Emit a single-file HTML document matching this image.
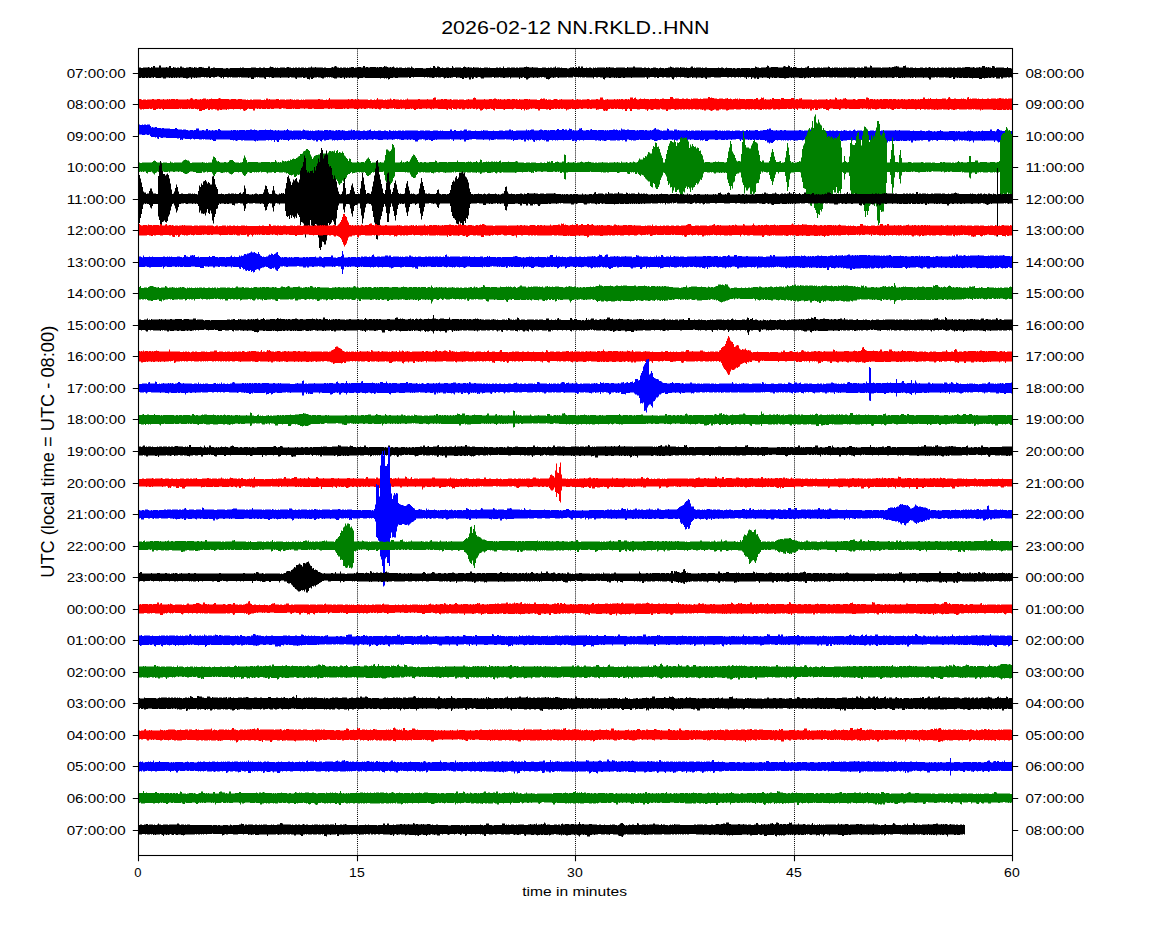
<!DOCTYPE html>
<html><head><meta charset="utf-8"><title>dayplot</title>
<style>
html,body{margin:0;padding:0;background:#fff;width:1150px;height:950px;overflow:hidden}
svg{display:block}
text{font-family:"Liberation Sans",sans-serif;fill:#000}
</style></head><body>
<svg width="1150" height="950" viewBox="0 0 1150 950">
<rect width="1150" height="950" fill="#fff"/>
<path d="M357.5 48.5V855.5" stroke="#000" stroke-width="1" stroke-dasharray="1 1.08"/><path d="M575.5 48.5V855.5" stroke="#000" stroke-width="1" stroke-dasharray="1 1.08"/><path d="M794.5 48.5V855.5" stroke="#000" stroke-width="1" stroke-dasharray="1 1.08"/>
<g transform="scale(1 0.5)">
<path fill="#000000" d="M138 134h1v1h2v1h2v-1h5v-1h1v1h1v1h1v-2h1v1h1v-3h2v3h4v-4h2v4h5v-1h1v1h2v-3h2v4h2v-2h1v1h2v1h1v-1h2v1h1v-3h2v2h2v1h2v-1h3v-1h2v1h2v1h1v-2h1v1h2v1h1v-1h1v-1h3v1h2v1h4v-3h2v4h1v-1h2v-1h2v1h8v1h3v-1h2v1h2v-1h10v-1h1v1h1v-1h2v1h7v-1h5v1h3v-1h2v1h2v-1h2v1h4v-1h1v-2h1v1h2v1h1v1h1v-1h1v1h1v-1h1v1h2v-1h5v1h1v-1h1v-1h2v1h2v1h2v-1h1v1h1v-1h2v1h1v-1h2v1h1v-1h3v1h1v-1h1v1h2v-1h3v-2h1v2h3v-1h1v1h7v1h1v-1h2v1h5v-1h1v-1h1v1h1v-2h1v-1h1v1h1v2h2v1h1v-1h2v1h1v-1h3v1h1v-1h1v1h1v-1h2v-1h3v2h1v-1h2v-1h4v1h2v-3h2v3h1v-1h2v1h2v-1h6v1h1v-1h1v1h1v-1h3v1h1v-1h1v-2h1v1h2v1h1v1h2v-1h1v1h1v-1h1v-1h1v2h1v1h1v-1h2v1h1v-1h3v1h3v-1h1v1h1v-1h3v1h1v-3h1v2h1v1h1v1h1v-1h8v1h3v-1h4v-1h1v1h2v-4h2v3h1v1h1v-3h2v1h1v2h2v-1h1v1h3v-1h3v1h3v-4h1v3h1v1h1v-1h6v1h2v-2h1v-1h1v1h1v1h2v-1h1v1h3v1h1v-2h1v1h5v1h1v-1h1v1h3v-1h4v1h1v-1h1v1h6v-1h2v1h1v-1h2v1h2v-3h1v3h3v-1h3v1h1v-1h4v1h1v-1h2v1h1v-1h5v-1h2v-1h1v1h2v1h3v-1h1v1h5v1h4v-1h4v1h2v-1h1v1h1v-1h2v1h1v-1h2v-2h1v3h1v-1h3v1h1v-1h1v1h5v1h2v-1h1v-1h3v-1h1v2h2v-2h1v2h1v-3h2v3h1v-3h2v3h3v-1h1v1h2v-1h2v1h1v1h1v-2h1v1h1v-1h1v1h1v-1h8v1h1v-2h1v1h2v-1h1v1h4v1h2v-1h9v1h2v-2h1v1h5v-2h2v2h7v1h2v-1h2v1h2v-1h1v1h1v1h1v-1h2v-1h3v1h2v1h1v-1h1v-1h1v1h3v1h1v-1h3v-1h2v-2h1v1h1v1h2v1h1v-1h4v1h1v-2h1v1h4v1h1v-1h1v1h3v-1h1v-2h2v3h1v-1h1v1h1v-1h5v1h1v-1h1v1h2v-1h2v1h11v-1h1v1h2v-1h2v1h1v1h1v-1h1v-1h1v1h5v1h1v-1h2v1h2v-1h3v1h1v-1h9v1h1v-1h4v-3h1v1h1v1h2v1h2v-1h5v-1h1v-3h1v1h1v3h2v-1h7v1h5v-2h1v-1h1v1h1v1h2v-3h1v1h1v3h1v-1h1v2h1v-2h3v1h1v1h4v-1h1v1h3v-1h2v-2h1v-1h1v4h4v-1h2v1h2v-1h3v1h1v-1h1v1h1v-1h5v-2h1v1h1v2h2v-1h1v1h1v-1h4v1h1v-1h1v1h1v-1h1v1h1v-1h4v1h1v-1h7v1h2v-1h3v1h1v-1h2v1h1v-3h3v2h3v-4h1v1h1v3h9v1h1v-1h7v-1h1v1h2v-1h2v-1h2v-1h1v1h2v2h4v-3h2v-1h1v4h3v1h1v-1h3v1h2v-1h1v1h4v-1h3v1h2v-1h2v1h1v-1h1v-1h1v1h1v1h1v-1h1v1h1v-1h1v1h2v-1h2v1h2v-1h3v1h1v-1h2v1h1v-1h4v1h1v-1h2v1h2v-1h4v1h1v-1h3v-1h5v1h3v-1h1v1h1v1h1v-1h3v-1h1v1h2v-3h3v3h1v-1h1v1h1v-1h1v1h2v1h1v-4h2v1h1v3h1v-1h8v1h3v-2h1v2h3v1h1v18h-1v-1h-1v1h-2v-1h-1v1h-4v2h-2v-3h-1v3h-4v-3h-1v1h-1v1h-1v-1h-2v1h-2v-1h-1v1h-3v1h-1v-1h-2v2h-3v-2h-6v1h-1v-1h-3v-1h-1v1h-5v-1h-1v1h-3v-1h-1v1h-1v-1h-2v3h-2v-4h-1v1h-1v1h-2v-1h-4v-1h-1v1h-5v-1h-1v1h-2v-1h-1v1h-4v4h-2v-3h-1v-1h-4v1h-1v-1h-7v1h-1v-2h-1v1h-1v1h-1v-1h-1v1h-1v-1h-5v1h-1v-1h-1v1h-1v-1h-1v1h-3v-2h-1v1h-1v-1h-1v1h-1v1h-2v-1h-5v1h-1v-1h-4v1h-1v-1h-5v1h-1v-1h-2v1h-2v-2h-1v1h-4v1h-2v-2h-1v1h-5v-1h-2v2h-1v1h-1v-2h-3v1h-1v-1h-3v-1h-1v1h-9v-1h-1v1h-2v-1h-1v1h-4v-1h-2v1h-1v-1h-2v1h-1v-1h-2v1h-6v1h-1v-2h-3v2h-1v-1h-1v1h-1v-1h-2v1h-1v1h-1v-2h-1v1h-4v-1h-5v1h-1v-1h-1v1h-1v-1h-2v1h-3v1h-2v-1h-5v-1h-2v1h-3v-1h-1v1h-1v-1h-2v3h-1v-2h-2v-1h-4v1h-1v-1h-3v3h-2v-3h-1v2h-2v-2h-2v3h-1v-4h-2v1h-1v-1h-1v4h-1v-3h-2v-1h-3v1h-1v-1h-1v1h-1v-1h-2v1h-2v-1h-2v1h-1v-1h-2v1h-2v-1h-6v1h-7v-1h-3v1h-4v3h-1v-1h-1v-2h-2v1h-2v-1h-4v2h-1v-2h-3v1h-1v-2h-1v1h-2v1h-2v-1h-3v-1h-3v1h-1v-1h-3v1h-1v-1h-1v1h-1v4h-1v-1h-1v-3h-1v-1h-1v1h-4v-1h-2v1h-2v-1h-3v2h-2v-2h-1v1h-2v-1h-4v1h-2v3h-1v-3h-1v-1h-1v1h-13v1h-1v-1h-6v1h-2v-1h-2v1h-3v-1h-1v1h-1v-1h-1v1h-1v-1h-3v1h-2v-1h-3v1h-1v3h-1v-1h-1v-3h-3v-1h-2v1h-2v-1h-2v3h-1v-2h-7v-1h-1v1h-3v-1h-1v1h-1v-1h-1v1h-1v-1h-4v-1h-1v2h-5v-1h-1v1h-8v1h-1v-1h-1v-1h-1v1h-2v1h-1v-1h-2v1h-1v2h-1v1h-1v-1h-2v-3h-2v-1h-2v1h-1v-1h-1v1h-2v1h-1v-1h-3v1h-1v-1h-3v1h-1v1h-1v2h-2v-3h-2v-2h-1v1h-1v1h-1v-1h-1v3h-1v-3h-8v2h-1v-3h-1v1h-4v1h-2v-1h-3v-1h-1v1h-4v1h-1v-2h-2v1h-8v2h-3v-2h-1v-1h-2v1h-1v1h-1v-1h-1v-1h-1v3h-1v1h-1v-3h-1v4h-2v-4h-2v1h-2v-1h-1v3h-2v-2h-2v-1h-3v1h-1v-2h-3v1h-2v1h-1v-1h-1v1h-2v-1h-1v1h-1v1h-1v-2h-1v-1h-2v1h-3v-1h-1v1h-1v-1h-1v1h-1v1h-2v-1h-3v-1h-1v1h-1v-1h-2v1h-1v-1h-10v1h-1v-1h-2v2h-2v-2h-1v1h-10v1h-3v-1h-2v1h-3v2h-1v1h-1v-3h-1v1h-1v-1h-1v1h-1v-1h-3v1h-1v-1h-15v-1h-2v1h-4v2h-1v-2h-1v-1h-4v1h-1v-1h-2v1h-1v-1h-2v1h-1v-1h-1v3h-1v-3h-2v1h-2v-1h-3v2h-3v-1h-1v-1h-2v-1h-1v1h-1v-1h-1v1h-1v-1h-1v1h-2v2h-2v-1h-1v-1h-3v-1h-1v1h-3v1h-1v2h-2v-3h-1v4h-1v-1h-2v-3h-2v1h-2v-2h-1v1h-5v3h-1v-1h-1v-2h-4v-1h-1v1h-1v1h-1v-1h-7v1h-1v-1h-6v1h-2v-1h-1v-1h-1v1h-1v-1h-3v4h-1v-1h-1v-2h-5v-1h-1v1h-1v-1h-1v1h-2v3h-3v-3h-2v1h-1v-1h-7v-1h-1v1h-1v-1h-1v1h-6v-1h-1v1h-1v-1h-1v1h-2v-1h-3v3h-1v-3h-1v2h-1v-1h-1v-1h-1v-1h-2v1h-2v1h-2v-1h-2v2h-2v-2h-1v1h-2v-1h-1v1h-1v-1h-3v1h-4v1h-1v-1h-1v1h-1v-1h-2v3h-1v-3h-2v1h-1v1h-2v-1h-3v-1h-3v1h-1v-1h-2v1h-1v-1h-1v1h-1v-1h-1v1h-2v-1h-1v1h-1v-1h-3v2h-3v-2h-2v1h-5v-1h-1v-1h-1v2h-1v-1h-2v1h-2v-1h-1v1h-2v-1h-1v1h-3v-1h-1v1h-2v-1h-1z"/>
<path fill="#ff0000" d="M138 199h1v-1h2v1h1v1h1v-1h3v1h1v-1h5v-1h2v1h3v-1h3v1h3v-1h1v1h3v-1h1v1h1v-1h1v1h1v-1h4v1h1v-1h2v1h9v-1h1v1h2v-2h1v-1h1v1h1v2h2v-1h2v1h3v-1h1v1h1v-1h1v-1h3v2h1v-1h1v1h1v-1h2v-1h1v1h6v-1h1v-1h1v1h1v1h8v1h2v-1h5v1h2v-1h4v1h4v1h1v-1h1v1h2v-1h2v1h1v-1h8v1h3v-1h1v1h1v-3h2v2h1v-1h1v1h6v-1h3v2h1v-1h5v1h1v-1h4v-1h1v1h2v1h1v-1h1v1h1v-1h3v1h2v-1h1v1h1v-1h1v1h1v-1h13v-1h2v1h3v1h3v-1h1v1h1v-1h1v-3h1v3h18v-1h1v1h2v-1h2v1h2v-1h1v1h2v-1h1v1h9v1h2v-1h2v1h2v-1h1v1h1v-1h1v-3h1v3h5v1h2v-1h1v1h1v-1h3v-2h1v2h1v1h1v-2h2v1h4v1h1v-1h2v1h1v-1h1v1h1v-1h2v-2h1v2h10v-1h2v1h7v-1h1v1h5v-3h1v-1h2v5h1v-1h4v-1h2v1h1v-1h3v1h3v-1h1v1h1v1h1v-1h5v1h1v-1h5v1h2v-1h2v-1h1v1h4v-3h1v-1h1v1h1v3h8v-1h1v1h4v-1h3v1h1v-1h1v-1h2v1h1v1h1v-1h1v1h1v-1h1v1h3v-1h1v1h2v-1h3v1h2v-1h3v1h1v-1h1v1h1v1h1v-2h1v1h4v-1h4v1h1v-1h1v1h7v1h3v-2h1v-1h1v1h1v-1h2v2h1v-1h1v2h1v-1h3v1h2v-1h1v-1h3v1h1v1h1v-1h2v-1h1v1h10v-1h1v1h1v1h2v-1h1v-1h1v1h3v1h1v-1h5v-1h2v1h1v1h1v-1h5v-1h2v1h2v-4h3v4h1v1h1v-1h2v-1h1v1h6v-1h1v1h2v-1h1v1h1v-1h1v1h1v-1h2v1h2v-1h2v1h1v-1h1v1h1v-4h3v3h1v-2h1v-1h1v3h1v1h2v-1h1v-1h1v1h3v-1h1v1h4v1h1v-1h5v-1h1v1h3v1h1v-1h2v-1h2v1h6v-4h3v3h1v1h1v-1h4v1h3v-1h2v1h2v-1h2v1h2v1h1v-2h1v1h1v-1h5v1h2v-1h1v1h2v-1h5v-3h2v2h1v-1h1v1h2v1h3v1h2v-1h4v1h2v-1h2v-1h1v2h2v-1h1v1h1v1h1v-1h2v-1h1v1h1v-1h1v2h1v-2h1v1h5v1h1v-1h7v1h1v-1h2v-2h2v3h2v-1h1v-3h1v1h1v-1h1v4h1v-1h1v1h4v-1h1v1h1v-3h2v2h6v1h1v-3h3v2h7v-2h3v3h2v-1h2v1h1v-2h2v-1h1v3h10v1h2v-1h3v1h1v-1h8v-1h1v1h1v1h1v-1h1v-1h1v1h4v-4h1v1h1v3h3v-1h1v1h2v-2h2v-1h1v2h1v1h6v-1h2v1h1v1h1v-1h1v-1h7v1h1v-4h2v1h1v3h1v-1h3v1h1v-1h1v1h2v-1h1v1h2v-1h2v1h1v-1h5v1h1v-1h3v1h1v-1h3v1h2v-1h1v1h2v-1h2v1h1v-1h1v1h3v-1h2v1h1v-1h3v1h1v-1h1v1h2v-1h1v1h1v-1h3v-3h2v3h3v-1h1v1h1v-2h1v2h5v-1h1v1h5v-1h4v2h1v-1h1v-3h1v-1h1v3h1v1h3v-1h2v1h5v-1h1v1h1v-1h1v1h2v1h1v-4h1v-1h1v4h1v-1h1v1h1v-1h5v1h1v-1h1v1h3v-1h1v1h4v-1h2v1h2v-1h5v1h1v-1h2v-1h2v1h3v1h1v-1h2v1h1v-1h4v23h-2v-1h-1v1h-2v-1h-1v1h-3v-1h-1v1h-5v-1h-1v1h-3v-1h-10v1h-1v-1h-1v2h-1v-2h-5v-1h-1v1h-1v-1h-1v1h-4v-1h-1v1h-8v-1h-2v1h-2v1h-2v-1h-2v-1h-1v1h-1v1h-1v-1h-5v-1h-1v1h-4v1h-1v-1h-2v1h-1v-1h-3v-1h-1v1h-3v-1h-1v1h-2v-1h-3v2h-1v-2h-3v1h-2v-1h-8v1h-1v-1h-4v-1h-2v1h-3v-1h-1v1h-2v2h-2v-1h-1v-1h-1v-1h-1v1h-1v-1h-2v1h-5v-1h-2v1h-2v1h-2v-1h-3v-1h-1v2h-1v-1h-1v1h-1v-2h-1v1h-1v-1h-3v1h-1v-1h-2v1h-11v-1h-2v1h-2v-1h-4v2h-1v1h-1v-2h-6v-1h-3v1h-1v3h-1v-1h-2v-2h-3v-2h-1v1h-2v1h-1v-1h-1v3h-3v-4h-1v3h-1v-1h-1v3h-2v-4h-1v1h-1v-1h-1v1h-1v-1h-1v1h-3v-1h-4v3h-1v-2h-1v-1h-1v1h-2v-1h-1v1h-4v-1h-1v1h-7v1h-2v-1h-2v1h-3v-2h-1v1h-1v1h-3v-1h-1v1h-2v-1h-1v1h-1v-1h-1v2h-2v-1h-2v-1h-2v1h-2v-1h-2v1h-1v-1h-1v1h-2v-1h-1v1h-2v-1h-4v1h-5v-1h-2v1h-5v1h-1v1h-2v-2h-4v-1h-1v1h-2v2h-3v-2h-2v1h-1v1h-1v1h-1v-1h-1v-1h-1v-1h-3v2h-2v-2h-1v1h-1v-1h-2v-1h-1v1h-4v-1h-2v1h-2v-1h-1v1h-2v-1h-1v1h-1v-1h-1v1h-2v-1h-1v1h-2v-1h-1v1h-3v1h-1v-1h-1v-1h-3v1h-3v3h-2v-3h-4v-1h-1v-1h-1v2h-4v-1h-2v1h-1v1h-2v-1h-1v-1h-1v1h-1v3h-1v-3h-2v-1h-5v1h-3v-1h-5v4h-2v-4h-1v-1h-1v1h-1v4h-2v-4h-2v1h-1v-1h-4v-1h-1v1h-2v-1h-1v1h-3v-1h-1v1h-2v3h-1v1h-1v-1h-1v1h-1v-1h-1v-3h-4v1h-2v1h-1v-3h-4v1h-2v-1h-1v1h-2v-1h-4v1h-2v-1h-2v1h-7v-1h-1v1h-2v1h-2v2h-1v-3h-2v-1h-1v1h-2v-1h-1v1h-2v-1h-1v1h-2v-1h-1v1h-3v2h-2v-2h-1v1h-2v-1h-6v3h-2v-3h-3v-1h-3v1h-1v-1h-1v1h-1v1h-2v1h-1v-2h-1v3h-1v-3h-2v2h-1v-2h-5v-1h-2v1h-1v1h-1v-1h-7v2h-1v-1h-1v-1h-7v-1h-1v4h-1v-1h-1v-2h-2v-1h-1v1h-3v1h-1v-1h-1v-1h-1v1h-1v2h-1v1h-2v-3h-1v-1h-1v1h-1v1h-1v-2h-1v1h-2v-1h-2v1h-1v-1h-1v1h-2v-1h-2v2h-3v-2h-1v1h-2v-1h-2v2h-1v-1h-3v-2h-1v4h-1v-2h-2v-1h-1v3h-1v-1h-1v-1h-8v-1h-4v1h-1v-1h-1v2h-1v-1h-1v-1h-3v1h-1v-1h-4v1h-3v-1h-1v1h-2v2h-2v-2h-1v-1h-1v1h-1v-1h-1v1h-4v1h-1v-2h-3v1h-1v-1h-1v1h-4v-1h-1v1h-1v-2h-1v1h-4v1h-3v-1h-3v-1h-1v1h-1v2h-2v-1h-1v-1h-1v1h-2v-1h-2v1h-1v-1h-3v-1h-1v1h-2v1h-2v-1h-2v1h-1v-1h-2v1h-5v-1h-5v1h-2v-1h-2v1h-1v-1h-1v1h-8v-1h-3v1h-1v-1h-1v1h-2v-1h-4v1h-10v-1h-2v1h-4v-1h-3v1h-1v-1h-4v1h-5v-1h-1v1h-1v-1h-1v1h-6v-1h-3v-1h-1v1h-1v1h-2v-1h-5v1h-3v-1h-1v1h-3v-1h-1v1h-4v-1h-1v1h-2v-1h-1v1h-1v-1h-2v4h-2v-3h-4v-1h-1v1h-1v2h-1v1h-1v1h-1v-1h-1v-3h-2v1h-1v-1h-6v1h-1v-1h-4v1h-1v-1h-1v2h-1v-1h-4v1h-2v-1h-1v2h-2v-2h-2v-1h-2v1h-2v-1h-1v2h-2v-3h-1v1h-2v2h-3v2h-3v-4h-1v1h-1v-1h-2v-1h-1v1h-3v-1h-1v1h-1v-1h-1v1h-6v-1h-1v1h-1v-1h-1v1h-15v2h-1v-2h-1v-1h-1v1h-2v-1h-1v1h-2v2h-3v-3h-1v1h-2v-1h-1v1h-5v1h-1v-1h-1v1h-2v-2h-2z"/>
<path fill="#0000ff" d="M138 249h2v1h2v-1h1v1h1v-1h2v1h1v-1h3v3h1v3h1v-1h1v1h2v-1h2v2h4v1h1v-1h2v1h6v1h5v-2h2v2h1v1h4v1h1v-1h3v1h2v1h2v-1h3v1h1v-1h2v-3h3v4h3v-1h2v1h2v-3h2v3h1v-1h1v1h2v-1h1v1h2v-1h2v1h1v-3h2v2h1v1h10v-1h1v1h1v-1h3v1h1v-1h1v1h1v-1h6v1h1v-1h4v-1h2v1h2v-1h1v1h2v1h2v-1h6v-1h1v1h4v-1h1v1h2v1h2v-1h1v1h2v-1h1v1h5v-1h1v1h1v-1h1v-2h1v2h1v1h3v1h1v-1h8v1h1v-1h1v-2h1v1h1v1h4v1h1v-1h1v1h1v-1h1v1h2v-1h3v-1h1v1h4v1h1v-2h4v1h1v-1h2v1h3v1h1v-1h1v-1h1v1h1v-1h2v1h2v-1h1v1h2v1h3v-1h3v-2h1v2h1v-1h2v2h1v-1h1v1h1v-1h2v1h3v-1h2v1h2v-1h2v-1h1v-1h1v3h3v-1h1v1h3v-1h3v1h3v-1h2v1h2v1h1v-3h1v1h1v1h2v-1h1v1h1v-1h1v1h2v-1h3v1h1v-1h2v1h1v-1h13v1h2v-1h4v1h1v-1h5v1h3v-1h5v1h2v-1h1v1h1v-1h1v1h7v-3h2v3h2v-2h2v2h4v-1h2v1h1v-1h1v-2h3v3h1v-1h3v1h4v-1h1v1h5v-1h1v1h1v-2h1v1h4v1h5v-1h1v1h5v-1h4v1h2v-1h4v-2h2v2h1v-1h1v2h3v-1h10v-2h1v2h1v-1h1v1h1v-1h1v-1h3v2h5v-1h1v-1h2v1h1v1h1v-1h3v1h1v-1h1v1h1v-1h5v1h1v-1h1v-2h2v2h3v-2h2v2h1v-1h2v2h1v-1h1v-3h1v1h2v3h1v-1h1v1h4v-1h1v-3h2v-1h1v4h1v1h3v-1h3v1h1v-2h1v-1h1v2h5v1h1v-1h6v1h1v-1h1v1h1v-1h1v1h1v-1h4v-1h2v1h1v-1h1v1h1v1h1v-1h1v1h1v-4h1v2h3v1h2v-1h2v1h6v1h2v-1h1v1h1v-1h5v1h1v-1h2v1h3v-1h1v1h1v-1h1v-1h1v-2h1v-1h1v3h3v1h1v1h2v1h1v-1h4v-4h1v1h1v3h4v1h1v-3h3v2h1v-1h1v1h7v-1h1v1h1v1h1v-1h1v1h1v-1h3v1h1v-1h5v1h1v-2h1v1h13v-1h2v1h1v1h1v-1h2v1h1v-1h1v1h1v-1h1v1h1v-1h4v1h2v-1h1v1h2v-1h5v1h2v-1h2v1h2v-2h2v2h1v-2h1v1h5v-1h3v2h2v-1h3v-1h4v-2h1v1h1v-2h2v3h2v1h3v-1h1v1h3v-1h2v1h2v-1h2v1h13v-1h2v1h2v1h1v-1h6v-2h3v3h2v-1h2v-3h2v3h1v-1h1v-1h1v2h4v1h3v-1h2v1h1v-1h2v1h2v-1h2v1h3v-1h1v1h1v-1h1v-1h1v1h2v1h2v-1h2v1h2v-2h1v-1h1v2h1v1h1v-1h5v1h2v-1h2v1h4v-1h4v1h1v-1h4v1h2v-1h2v1h1v-1h11v-1h1v1h3v-1h1v1h10v1h3v-1h1v1h6v-1h2v1h3v1h1v-1h2v-1h2v1h2v1h2v-1h1v1h2v-1h3v-2h1v2h2v1h6v-1h6v1h1v-1h1v1h1v-1h2v1h4v-1h1v1h2v-1h1v-1h1v1h1v-1h1v1h2v1h3v-1h1v1h1v-1h2v1h1v-1h1v-1h1v1h7v-3h2v3h3v1h1v-2h1v-3h2v2h1v1h2v1h3v1h6v-1h1v19h-4v4h-1v-1h-1v-3h-4v3h-1v2h-1v-2h-1v1h-1v-2h-1v-2h-2v3h-1v-3h-9v1h-1v-1h-1v1h-1v-1h-8v4h-1v-4h-2v1h-1v1h-1v-2h-1v1h-1v-1h-3v-1h-1v1h-2v-1h-1v1h-1v-2h-1v2h-3v2h-1v-1h-1v-2h-5v1h-1v-1h-1v1h-1v-1h-7v2h-1v-1h-1v-1h-3v1h-1v-1h-1v1h-1v2h-2v-3h-5v1h-2v-1h-1v1h-4v1h-1v-1h-2v4h-2v-4h-1v1h-1v-1h-2v1h-4v-1h-1v1h-1v-1h-1v1h-4v-1h-1v1h-2v-1h-1v1h-2v1h-1v-1h-1v3h-1v-3h-2v-1h-3v1h-2v-1h-3v-1h-1v1h-2v2h-1v-1h-1v-1h-2v-1h-1v1h-4v-1h-1v1h-2v-1h-1v1h-6v-1h-2v1h-2v-1h-4v1h-4v1h-2v-2h-1v1h-3v-1h-2v1h-5v-1h-2v1h-1v-1h-2v1h-1v-1h-5v1h-1v-1h-1v1h-1v-1h-1v1h-1v-1h-1v1h-2v-1h-3v1h-3v-2h-1v1h-1v1h-1v-1h-4v1h-5v-1h-2v1h-1v-1h-1v1h-2v-1h-1v1h-1v-1h-1v1h-1v-1h-1v1h-1v-1h-3v1h-1v-1h-2v2h-1v2h-1v2h-2v-1h-1v2h-1v-2h-2v-4h-1v1h-1v-2h-5v-1h-1v1h-3v-1h-1v1h-2v-1h-1v1h-2v-1h-1v1h-1v-1h-5v1h-1v-1h-1v3h-1v-3h-1v-1h-3v1h-4v1h-1v-1h-3v1h-2v-1h-1v1h-4v-1h-3v1h-3v-1h-6v1h-1v2h-3v-3h-1v1h-1v1h-1v-1h-1v1h-1v-2h-1v1h-5v-1h-3v1h-1v-1h-2v1h-2v-1h-1v-1h-1v1h-1v-1h-1v2h-2v-1h-2v2h-2v-1h-2v-1h-1v1h-1v-1h-4v1h-5v-1h-2v1h-3v1h-1v1h-3v-2h-2v-1h-2v1h-10v-1h-1v1h-3v1h-3v-1h-1v1h-1v-1h-2v-1h-2v4h-2v-3h-2v1h-1v-1h-2v1h-3v-1h-1v1h-6v-1h-3v1h-1v1h-2v-1h-2v-1h-1v2h-1v-1h-2v-1h-1v1h-2v-1h-11v1h-1v-1h-3v1h-1v-1h-2v3h-2v-2h-1v1h-2v-3h-1v1h-7v1h-1v-1h-5v1h-1v-1h-1v1h-1v-1h-2v1h-1v-1h-3v3h-3v-3h-1v1h-1v-1h-2v-1h-1v1h-1v1h-1v-1h-2v1h-1v-1h-1v4h-1v-1h-1v-3h-1v-1h-1v1h-1v-1h-1v2h-1v-1h-1v-1h-1v4h-2v-4h-1v1h-2v-1h-3v1h-4v2h-1v-3h-1v1h-1v-1h-5v-1h-1v1h-8v-1h-1v1h-2v1h-3v-1h-1v2h-1v-2h-5v1h-1v-1h-7v-1h-4v1h-3v1h-3v3h-2v-4h-3v1h-1v-1h-6v3h-1v-3h-2v-1h-1v1h-13v1h-1v-1h-1v1h-2v2h-2v-2h-2v-1h-1v1h-2v1h-1v-2h-2v-1h-1v1h-3v1h-1v3h-3v-3h-2v-1h-2v1h-1v-1h-2v1h-1v-1h-3v1h-3v-1h-2v-1h-1v1h-1v-1h-2v1h-2v1h-1v-1h-4v1h-1v-1h-4v1h-5v-1h-3v-1h-1v1h-1v1h-1v-1h-4v1h-2v-1h-2v1h-1v-1h-2v1h-3v-1h-3v1h-2v-1h-1v1h-1v-1h-1v1h-5v1h-1v-1h-1v-1h-1v1h-4v1h-1v-1h-2v1h-1v-1h-1v1h-1v-2h-3v1h-3v1h-2v-2h-1v1h-1v3h-1v-1h-1v-2h-2v3h-2v-3h-1v1h-2v-1h-1v-1h-1v1h-4v-1h-2v-1h-1v1h-1v-1h-1v1h-1v1h-1v-1h-1v1h-1v-1h-3v1h-1v-1h-1v1h-1v-1h-2v1h-1v2h-1v-2h-5v-1h-1v1h-1v-1h-1v1h-1v4h-2v-3h-1v-1h-1v4h-1v-4h-2v1h-1v-1h-2v1h-1v-1h-2v1h-8v1h-1v-1h-1v2h-1v-1h-1v-1h-10v-1h-1v1h-2v-1h-3v1h-1v1h-1v-1h-1v-1h-1v1h-1v-1h-3v-1h-14v3h-3v-2h-1v-1h-1v1h-1v-1h-5v-1h-1v1h-1v-1h-1v1h-3v-1h-4v1h-1v-1h-1v-1h-1v1h-1v1h-1v-1h-5v-1h-2v3h-1v-1h-1v1h-1v-4h-1v1h-2v-1h-11v-1h-3v1h-2v-1h-1v-1h-1v4h-1v-1h-1v-3h-1v1h-1v-1h-4v-2h-1v-3h-1v1h-2v-1h-2v1h-3v-1h-4z"/>
<path fill="#008000" d="M138 326h1v-1h1v1h2v-1h10v-1h1v-2h1v-1h1v1h1v2h1v1h3v1h1v-1h1v1h1v-1h4v1h3v-3h1v2h2v1h1v-1h8v-2h1v-2h1v-1h1v-1h1v1h1v1h2v2h1v3h2v-1h10v-1h1v1h2v1h1v-1h1v1h1v-1h4v-6h1v-6h1v1h1v2h1v5h1v2h1v-1h1v2h1v1h4v-1h2v1h2v-1h1v-3h1v-1h3v2h1v2h1v1h4v1h1v-1h2v-1h1v-7h1v-6h1v4h1v5h1v5h1v-1h10v1h3v-1h9v1h1v-1h4v-4h1v3h1v2h1v-1h1v1h1v-1h1v1h1v-4h1v1h1v1h1v-1h1v1h1v-1h1v-1h1v1h1v-3h1v1h1v-2h1v-1h1v1h2v-2h1v-1h1v-2h1v-1h1v-4h2v-1h1v-4h1v-1h1v-1h1v-3h2v2h1v2h1v7h1v4h1v5h1v-3h1v-3h1v-1h1v-1h2v-1h2v1h1v-3h1v3h1v-3h3v-1h1v1h1v-2h1v-3h2v1h1v-1h1v1h1v-2h1v5h1v-4h1v-2h1v6h1v-2h1v1h1v1h1v-3h1v3h1v5h1v2h1v3h1v2h1v4h1v-5h1v1h1v6h1v1h5v-1h2v1h2v-1h3v1h1v-3h1v-3h1v-2h1v-2h1v3h1v4h1v4h1v-1h8v-1h1v1h3v-4h1v-11h1v-11h2v2h1v2h1v-1h1v-3h1v-11h1v2h1v5h1v30h5v-1h1v-3h1v4h1v-1h1v1h1v-1h1v-1h1v-1h1v2h1v-1h1v-4h1v-4h1v-3h1v-3h1v1h1v3h1v3h1v4h1v4h1v1h1v-1h2v1h2v-1h2v1h3v-1h6v-3h1v1h1v3h2v-1h8v1h1v-1h9v-3h1v3h7v1h1v-1h2v-1h1v1h1v-1h1v1h1v1h1v-1h3v-2h1v2h1v1h1v-1h1v-5h1v1h1v5h1v-1h3v-1h1v1h1v-1h1v1h2v-1h2v1h1v-1h1v1h1v-1h1v1h2v-2h1v-1h1v4h1v-1h6v-1h1v1h6v-1h1v-1h1v1h1v2h6v1h2v-1h4v1h1v-1h5v1h4v-1h2v1h2v-1h1v1h2v-3h1v1h1v-1h1v2h1v-3h2v4h2v-2h2v-1h1v1h1v1h3v-2h2v-14h1v1h1v16h1v-1h1v-1h1v1h4v-1h1v1h2v1h1v-1h3v-1h1v-1h1v1h1v1h2v-1h3v-1h1v1h2v1h3v1h1v-1h2v1h1v-1h4v-1h1v1h5v1h1v-1h5v-1h1v1h2v-1h1v1h2v1h1v-3h1v2h4v-1h1v1h1v1h1v-1h1v-1h1v1h2v-2h1v1h1v1h2v-1h1v-3h1v-4h1v2h3v-4h1v1h1v-4h1v1h1v-4h1v-5h1v1h1v2h2v-9h1v-6h1v2h1v-9h1v1h1v8h1v-1h1v5h1v7h1v6h1v5h1v9h2v-7h1v-10h1v-8h1v-8h1v-5h1v-5h2v2h1v1h1v-5h1v4h1v8h1v-7h1v1h1v-2h1v-8h1v-2h1v3h1v-1h1v-1h1v1h1v-1h1v5h1v3h1v13h1v-7h1v4h1v-5h1v4h1v2h1v-1h1v4h1v-2h1v1h1v6h1v-1h1v7h1v3h1v8h1v6h1v-1h5v1h3v-1h2v-1h1v1h2v-1h1v1h5v1h2v-1h1v-8h1v-13h1v-8h1v-13h1v6h1v15h1v4h1v3h1v6h1v5h1v2h1v-1h2v1h1v-15h1v-24h1v-21h1v13h1v14h1v5h3v2h2v-6h1v-4h1v-5h1v-2h1v4h1v1h1v2h1v14h1v9h1v12h1v2h1v-3h2v4h5v-3h1v-8h1v-9h1v-7h1v6h1v9h1v7h1v4h3v-1h1v-1h1v4h1v-1h2v-1h1v-9h1v-13h1v-16h1v9h1v15h1v12h1v3h1v-1h1v1h1v1h1v-1h2v-1h2v-2h1v1h1v-8h1v-17h1v-7h1v-4h1v-13h1v-3h1v-6h1v-6h1v-3h1v6h1v-7h1v-13h1v14h1v-23h1v-4h1v16h1v2h1v-8h1v6h1v4h1v2h1v9h1v-4h1v4h1v2h1v4h1v8h1v-2h1v1h1v2h1v-2h1v2h1v3h1v-3h1v1h1v1h1v-3h1v-2h1v-5h1v14h1v14h1v30h1v-1h1v-12h1v10h1v2h1v1h1v-1h1v-11h1v-27h1v-11h1v14h1v1h2v-4h1v-14h1v-6h1v-2h1v14h2v13h1v-20h1v-10h1v-8h1v1h1v3h1v2h1v11h1v14h1v-4h1v-9h1v6h1v-6h1v2h1v-8h1v-10h1v-13h2v6h1v21h1v2h1v-4h1v-7h1v6h1v10h1v4h1v45h3v-7h1v-18h1v-25h1v13h1v23h1v13h3v1h1v-15h1v-10h1v16h1v9h6v-1h3v1h1v1h1v-1h8v-1h2v1h1v1h1v-1h6v1h1v-1h3v1h5v-2h2v1h1v-1h2v1h6v1h1v-1h2v1h1v-1h2v-1h1v-2h1v2h1v1h1v-1h2v1h4v-1h2v-12h2v12h4v-3h3v4h2v-1h7v1h3v-1h5v1h2v-1h2v-2h1v-42h1v-9h1v-3h1v-2h2v-6h1v-6h1v3h1v4h1v-1h1v2h1v6h1v126h-1v-3h-1v-4h-1v3h-1v-5h-1v6h-2v-3h-1v-1h-1v1h-1v2h-1v-2h-1v-44h-1v1h-3v-1h-1v1h-1v-1h-1v1h-3v-1h-2v1h-5v-1h-2v1h-1v-1h-1v1h-2v3h-2v-3h-3v2h-1v10h-1v-2h-1v-10h-5v-1h-1v1h-1v-2h-1v1h-9v-1h-2v1h-2v-1h-1v1h-2v1h-1v-2h-2v1h-1v-1h-8v-1h-1v1h-1v1h-2v-1h-1v1h-1v-1h-1v1h-6v1h-2v-1h-3v-1h-2v1h-1v-1h-1v1h-5v-1h-1v1h-3v7h-1v16h-1v-9h-1v-14h-1v1h-1v-1h-2v11h-1v20h-1v12h-1v-19h-1v-18h-1v-6h-3v22h-1v23h-1v18h-1v16h-2v1h-1v-4h-1v26h-1v4h-1v-9h-1v-28h-1v-17h-1v16h-1v-16h-1v10h-1v2h-1v1h-1v3h-1v10h-1v8h-1v-8h-1v12h-1v-12h-1v-12h-1v-3h-1v-11h-1v-3h-1v5h-1v4h-1v-8h-1v3h-1v-4h-1v-6h-1v1h-1v1h-1v4h-1v-12h-1v-29h-1v-7h-3v3h-1v11h-1v-13h-1v-2h-1v34h-1v8h-1v-4h-1v5h-1v-1h-1v-12h-1v11h-2v-5h-1v10h-2v-5h-1v6h-1v5h-1v-7h-1v5h-1v10h-1v2h-1v-1h-1v13h-1v5h-1v-3h-1v10h-1v-2h-1v8h-1v-10h-1v-6h-1v-4h-1v-22h-1v10h-1v8h-1v-1h-1v-15h-1v10h-1v-9h-1v-5h-1v-14h-1v-1h-1v-1h-1v-12h-1v-9h-1v-10h-1v-1h-5v1h-4v2h-1v12h-1v15h-1v8h-1v-18h-1v-12h-1v-8h-6v3h-1v-3h-2v5h-1v7h-1v7h-1v7h-1v-8h-1v-4h-1v-8h-1v-6h-1v1h-2v-1h-2v-1h-1v2h-1v-2h-1v5h-1v11h-1v7h-2v1h-1v17h-1v3h-1v2h-1v-6h-1v6h-1v-1h-1v-13h-1v2h-1v4h-2v-6h-1v12h-1v-17h-1v-5h-1v-10h-1v-10h-2v2h-2v1h-1v4h-1v11h-1v2h-1v12h-1v-5h-1v8h-1v-8h-1v-6h-1v-7h-1v-13h-1v-1h-1v1h-1v-1h-2v1h-1v-1h-1v1h-1v-1h-3v2h-2v-2h-1v-1h-1v1h-1v-1h-1v1h-3v-1h-3v3h-1v8h-1v5h-1v-1h-1v4h-1v4h-1v2h-1v-3h-1v4h-1v4h-1v1h-1v5h-1v-5h-1v9h-1v-7h-1v-3h-1v4h-1v-5h-1v3h-1v9h-1v-2h-1v8h-1v-3h-1v1h-1v-4h-1v-6h-1v1h-1v4h-2v-9h-1v6h-1v5h-1v-12h-1v1h-1v-8h-1v3h-1v-8h-1v-9h-1v-4h-1v-3h-1v-1h-1v6h-1v4h-1v5h-1v9h-1v5h-1v4h-2v-3h-1v-7h-1v-2h-1v9h-1v-1h-1v-2h-1v-9h-2v-2h-1v-2h-1v-2h-1v-3h-1v-3h-1v-1h-1v-1h-1v3h-1v-2h-1v-2h-1v-3h-1v3h-2v-4h-1v1h-1v-1h-1v1h-1v-1h-1v4h-2v-1h-1v-3h-7v1h-1v1h-2v-2h-8v1h-2v-1h-1v1h-3v-1h-1v1h-1v-1h-10v-1h-1v1h-22v1h-2v14h-1v-1h-1v-13h-1v-1h-1v2h-2v-3h-1v1h-1v-1h-1v1h-2v-1h-2v1h-6v-1h-4v1h-2v-1h-4v1h-2v-2h-1v4h-1v-1h-1v1h-1v-2h-2v-1h-1v1h-5v1h-1v-1h-5v1h-1v1h-1v-1h-12v-1h-1v1h-1v1h-1v-1h-1v-1h-1v1h-1v2h-1v-1h-1v-2h-2v1h-2v1h-4v-2h-2v1h-3v2h-1v1h-1v-3h-2v-1h-1v2h-1v-1h-4v-1h-1v1h-4v-1h-1v1h-3v-1h-1v1h-3v-1h-3v1h-1v-2h-1v2h-1v-1h-1v1h-6v1h-1v-1h-2v-1h-3v1h-2v-1h-2v1h-2v2h-1v-1h-2v-2h-1v1h-5v-1h-1v1h-1v-1h-2v1h-2v-1h-1v4h-1v2h-1v5h-1v1h-2v-2h-1v-1h-1v-4h-1v-4h-3v-1h-1v1h-1v-1h-10v9h-1v3h-1v7h-1v3h-1v3h-1v3h-1v-1h-1v-1h-1v-6h-1v-3h-1v-11h-1v-7h-1v1h-4v-1h-1v1h-4v1h-1v-1h-1v2h-1v3h-1v1h-1v2h-2v-2h-1v-4h-1v-2h-1v1h-1v-1h-1v1h-1v-1h-1v1h-1v-1h-2v1h-2v1h-2v1h-1v-3h-1v2h-1v2h-2v2h-1v5h-1v3h-2v5h-1v-2h-1v5h-1v1h-1v3h-1v-3h-1v-5h-1v-3h-1v6h-1v-4h-1v4h-1v-1h-1v-2h-1v-2h-1v-1h-1v-3h-1v2h-1v-1h-1v-2h-1v-3h-1v5h-1v1h-2v-1h-1v1h-1v-2h-1v-1h-1v2h-1v-2h-1v-1h-1v-1h-1v-4h-1v1h-1v1h-2v2h-1v-3h-1v-1h-4v-1h-1v2h-1v1h-1v-2h-1v1h-1v-1h-1v3h-1v2h-2v-5h-1v1h-1v1h-1v-1h-2v-2h-1v-2h-1v1h-1v-2h-2v-1h-1v1h-4v-1h-3v2h-2v-2h-2v1h-4v2h-1v-2h-1v-1h-4v1h-1v-2h-1v1h-1v1h-1v-1h-1v1h-1v-1h-1v1h-1v-1h-2v2h-2v-1h-1v-1h-1v1h-1v3h-1v3h-1v1h-1v-2h-1v-3h-1v-3h-3v1h-1v-1h-4v2h-1v2h-1v1h-1v-1h-1v-1h-1v-2h-1v-1h-1v1h-1v-1h-1v1h-2v1h-2v-1h-1v-1h-3v1h-1v3h-1v4h-1v-1h-1v-4h-1v-3h-4v1h-1v-2h-1v1h-1v1h-2v-2h-1v3h-6v-2h-3v-1h-3v1h-1v2h-1v1h-1v1h-2v-1h-1v-1h-1v-2h-2v-1h-2v1h-1v-1h-3v1h-2v-1h-3v2h-1v-2h-1v1h-4v-1h-4v3h-1v-2h-1v-1h-1v2h-1v1h-1v3h-1v-2h-1v-2h-1v-2h-1v1h-3v3h-1v-1h-1v-3h-2v1h-1v-1h-1v1h-1v-1h-1v1h-1v-1h-1z"/>
<path fill="#000000" d="M138 347h1v3h1v7h1v8h1v9h1v9h1v2h2v3h1v-1h2v-5h1v-5h2v6h1v4h3v1h2v-36h1v-21h1v-9h1v5h1v15h1v6h2v3h1v-2h1v-2h1v3h1v7h1v10h1v12h1v9h1v-1h1v-4h1v-7h1v-7h1v5h1v9h1v5h2v-1h2v1h5v-1h3v1h1v-1h1v1h1v-1h1v1h2v1h1v-7h1v-11h1v3h1v-7h1v3h1v-7h1v-1h1v-2h1v3h1v4h1v-3h1v2h1v3h2v-16h1v-1h1v6h1v11h1v5h1v4h1v10h3v-1h1v1h2v1h1v-1h3v-1h2v1h1v-1h3v1h1v-1h1v1h3v-2h1v-1h1v3h1v-1h1v-3h1v-13h1v6h1v11h3v1h3v-1h1v1h1v-1h1v-1h2v1h1v1h1v-1h4v-3h1v-6h1v-8h1v1h1v6h1v7h1v3h3v-7h1v-9h1v9h1v6h1v1h1v1h2v-2h1v1h1v-2h1v1h1v-1h1v2h1v-11h1v-11h1v-12h1v-3h1v6h1v6h1v7h1v-5h1v-6h1v2h1v-3h1v-2h1v7h1v2h1v-6h1v-18h1v-5h1v-3h1v-9h1v-13h1v5h1v24h1v5h1v-2h1v3h1v-4h2v-1h1v5h1v-12h1v7h1v-9h1v-5h1v-10h1v7h1v-18h1v-10h1v4h1v17h1v-6h1v-2h1v-8h1v9h1v18h1v5h1v-1h1v4h1v14h1v8h1v-7h1v6h1v6h1v12h1v8h1v5h1v1h1v-1h1v-5h1v-17h1v-10h1v20h1v13h1v-1h2v-1h1v-7h1v-9h1v-4h1v8h1v8h1v5h3v-1h1v1h1v-11h1v-15h1v-17h1v10h1v14h1v11h1v8h1v-2h2v1h1v1h1v-5h1v-10h1v-10h1v-12h1v-14h1v-15h1v-2h1v13h1v16h1v10h1v9h1v9h1v9h1v2h1v-8h1v-15h1v-18h1v-2h1v18h1v16h1v9h1v-4h1v-8h1v-10h1v-5h1v8h1v10h1v7h1v2h1v-1h1v1h3v-1h1v-11h1v-9h1v-5h1v11h1v8h1v7h1v-1h1v1h1v-1h1v1h1v1h2v-1h1v-1h1v-10h1v-10h1v-11h1v8h1v8h1v8h1v7h2v1h1v-1h2v1h6v-2h1v-6h1v-1h1v8h1v1h1v1h1v-1h4v1h1v-1h2v-2h1v-6h1v-10h1v-6h1v-3h1v2h1v-8h1v-3h1v6h1v-3h1v-9h2v-1h1v-2h1v4h1v-2h1v8h1v2h1v4h1v6h1v12h1v7h1v4h2v1h1v-1h4v-1h1v1h3v1h1v-1h1v-1h1v1h1v1h1v-1h1v-1h2v1h5v-1h1v1h1v1h1v-1h1v1h2v-1h1v-1h2v-5h1v-8h1v-1h1v10h1v4h1v1h2v-1h1v1h3v1h1v-1h4v-1h2v1h1v1h1v-2h1v1h2v-2h2v1h5v-1h1v1h3v1h2v-1h4v1h2v-1h8v-1h1v1h1v1h5v1h1v-1h1v1h1v-1h1v1h1v-1h2v1h2v-1h2v1h1v-1h2v1h1v-1h2v1h4v-2h1v2h2v-1h1v1h3v-1h3v1h1v-1h1v-3h1v-1h1v4h2v-1h5v1h1v1h1v-2h2v1h1v-4h1v3h4v1h1v-1h4v-3h1v3h4v1h3v-3h1v1h1v2h1v-1h1v1h1v-1h4v1h3v-3h1v2h1v1h1v-1h1v1h1v-1h2v1h1v-1h1v1h1v1h3v-1h2v1h1v-1h1v1h1v-1h2v1h1v-1h2v-1h1v1h6v1h2v-1h6v-1h1v1h2v1h1v-1h2v1h1v-1h1v1h3v-2h1v2h1v-1h1v1h2v1h1v-1h1v-1h2v1h1v-1h3v1h5v-1h1v1h1v-1h1v1h5v-1h1v1h1v-1h1v1h2v-3h2v-1h1v3h1v1h3v-1h1v1h1v-3h1v-1h1v1h1v3h8v-1h2v1h2v-1h2v1h2v-1h1v1h5v-1h1v1h2v-1h7v-1h1v1h1v-3h2v2h2v1h4v-1h3v-2h1v2h1v1h2v1h1v-1h1v-1h2v1h1v-1h2v1h1v-1h2v-3h1v3h2v1h1v-4h1v4h1v-1h1v1h3v-2h1v2h1v1h1v-1h2v-3h2v3h4v1h1v-1h1v-2h2v3h2v-1h1v1h1v-1h1v1h3v-1h1v1h1v-1h1v-1h1v1h1v-3h4v3h5v-1h1v1h3v-1h1v1h3v-1h1v1h1v-1h1v-3h1v4h1v-1h1v1h1v-1h1v1h3v-1h2v1h15v-1h1v1h2v-1h2v1h1v-1h1v1h3v-1h2v-1h1v1h1v-1h1v1h7v1h1v-1h2v1h6v-1h2v1h1v-1h2v1h1v-1h2v1h1v-1h2v1h2v-4h2v4h1v-1h2v1h1v-1h4v1h1v-1h1v1h3v-1h2v1h1v-1h7v1h1v-1h3v1h3v-1h1v1h2v-1h3v-1h1v-1h1v1h1v1h2v1h11v-1h1v1h1v-1h1v1h3v1h1v-1h1v-1h1v1h1v-1h2v2h1v-1h1v-1h1v1h2v1h1v-2h2v1h2v1h1v-2h1v1h2v1h1v-53h1v52h2v-1h1v2h1v-1h10v19h-3v1h-1v-1h-1v-1h-1v1h-1v-1h-1v1h-6v66h-1v-66h-5v1h-1v-1h-1v1h-1v1h-1v1h-1v-1h-1v-1h-1v-1h-2v-1h-2v1h-2v1h-1v-1h-5v1h-2v-1h-6v1h-1v-1h-2v1h-2v-1h-2v1h-1v-1h-3v1h-2v-1h-2v1h-1v3h-2v-3h-5v-1h-2v1h-1v-1h-1v1h-2v-1h-1v1h-1v-1h-5v1h-1v-1h-1v3h-2v-3h-2v1h-2v-1h-1v1h-3v-1h-1v1h-4v-2h-1v2h-2v-1h-1v1h-5v-1h-1v1h-3v-1h-1v1h-1v-1h-4v1h-1v-1h-5v1h-2v-1h-4v3h-1v1h-1v-3h-1v3h-1v-4h-3v2h-2v-1h-1v-1h-6v3h-1v-1h-1v-2h-1v4h-2v-1h-1v-3h-6v1h-2v-1h-4v1h-2v-1h-2v1h-1v-1h-1v-1h-1v1h-2v2h-4v-2h-5v-1h-1v1h-3v-1h-1v1h-4v-1h-2v1h-10v-1h-3v1h-4v-1h-1v1h-4v1h-1v-1h-2v1h-1v-1h-1v1h-1v-1h-1v1h-1v-1h-1v1h-5v-1h-2v1h-6v2h-2v-1h-1v-2h-2v1h-1v-1h-1v-1h-1v1h-1v1h-3v-1h-3v-1h-2v1h-8v-1h-1v1h-3v1h-1v-1h-4v-1h-3v1h-2v-1h-5v1h-6v-1h-7v1h-2v-1h-5v1h-4v-1h-1v2h-1v1h-1v-2h-1v-1h-1v1h-2v-1h-2v1h-2v-2h-1v1h-1v1h-1v1h-2v-1h-3v-1h-2v1h-8v-2h-1v1h-2v1h-1v-2h-1v2h-1v-1h-1v1h-3v-1h-1v3h-1v-3h-2v1h-1v-1h-1v1h-1v-1h-2v1h-6v-1h-1v1h-6v1h-1v-1h-2v1h-1v-1h-1v1h-2v-1h-1v1h-1v-1h-1v1h-1v-1h-1v1h-1v-1h-1v1h-1v-1h-1v1h-4v-1h-1v1h-4v-1h-1v1h-4v1h-1v-1h-9v-1h-2v1h-1v-1h-1v-1h-1v2h-2v-1h-1v2h-1v-1h-1v-1h-4v-1h-1v1h-3v2h-3v-2h-1v-1h-5v1h-1v1h-1v-1h-2v2h-3v-2h-8v-1h-2v1h-1v-1h-1v1h-2v1h-1v-1h-5v1h-2v-1h-1v1h-7v1h-1v3h-2v-3h-1v-1h-2v1h-1v-1h-1v3h-3v-3h-1v-1h-1v4h-2v-3h-3v-1h-1v4h-2v-3h-2v-1h-3v1h-7v5h-1v8h-1v-1h-1v-8h-1v-5h-3v1h-1v-1h-2v1h-1v-2h-1v1h-3v1h-2v-1h-1v1h-1v-1h-3v3h-3v-3h-4v-1h-2v1h-6v1h-1v8h-1v15h-1v7h-1v-2h-1v10h-1v-4h-1v8h-2v-4h-1v1h-1v-4h-1v6h-1v-1h-1v-1h-1v-7h-1v-3h-1v-1h-1v-4h-1v-8h-1v-12h-1v-5h-10v2h-1v7h-1v-2h-1v-5h-1v-2h-2v1h-1v-1h-2v-1h-2v1h-4v7h-1v9h-1v9h-1v7h-1v-12h-1v-11h-1v-9h-2v1h-1v2h-1v-3h-3v1h-2v6h-1v9h-1v9h-1v-7h-1v-10h-1v-8h-1v1h-2v-1h-1v1h-1v-1h-1v3h-1v8h-1v12h-1v11h-1v-9h-1v-10h-1v-9h-1v-6h-1v7h-1v13h-1v17h-2v-18h-1v-13h-1v-5h-1v6h-1v9h-1v9h-1v7h-1v12h-1v7h-1v21h-1v-1h-1v-16h-1v-17h-1v-11h-1v-12h-1v-11h-1v-3h-2v-1h-2v1h-1v7h-1v10h-1v12h-1v10h-1v-16h-1v-14h-1v-10h-2v2h-1v1h-2v2h-1v10h-1v11h-1v-6h-1v-10h-1v-8h-1v-1h-3v5h-1v12h-1v-6h-1v-12h-4v4h-1v9h-1v17h-1v14h-1v-2h-1v-6h-1v-3h-1v5h-1v3h-1v2h-1v-4h-1v22h-1v13h-1v8h-2v-5h-1v-1h-1v11h-1v6h-1v-4h-1v-21h-1v-23h-1v-3h-1v-1h-1v4h-1v2h-1v3h-1v-6h-1v-11h-1v13h-1v-2h-1v2h-1v7h-1v15h-1v-19h-1v-9h-1v-2h-1v-1h-1v6h-1v-16h-1v-4h-1v-3h-1v9h-1v-3h-1v4h-1v-3h-1v-3h-1v5h-1v-6h-1v8h-1v-6h-1v2h-1v-2h-1v-10h-1v-15h-5v2h-1v-2h-2v-1h-1v1h-1v5h-1v11h-1v-8h-1v-8h-2v-1h-1v2h-1v5h-1v7h-1v1h-1v-7h-1v-6h-1v-1h-2v1h-1v-1h-5v-1h-2v1h-4v-1h-1v1h-1v1h-1v9h-1v5h-1v-11h-1v-4h-3v-1h-2v1h-3v4h-1v-1h-2v-3h-3v1h-2v-1h-1v1h-2v-1h-3v1h-1v-1h-1v3h-1v7h-1v1h-1v10h-1v6h-1v13h-1v-6h-1v-14h-1v-6h-1v7h-1v-2h-1v-8h-1v7h-1v6h-1v-4h-1v1h-1v-1h-2v-6h-1v4h-1v-13h-1v-4h-1v-1h-1v1h-1v-1h-2v1h-1v-1h-4v1h-2v-1h-1v-1h-1v1h-3v1h-2v6h-1v7h-1v4h-1v-8h-1v-6h-1v-4h-1v1h-1v5h-1v8h-1v8h-1v4h-1v9h-1v3h-1v-1h-1v-3h-1v2h-1v1h-1v6h-1v4h-1v-14h-1v-7h-1v-25h-5v4h-1v5h-1v-2h-1v-5h-1v-2h-2v-1h-1v1h-1v-1h-1v2h-1v9h-1v10h-1v8h-1v10h-1v6h-1z"/>
<path fill="#ff0000" d="M138 448h2v2h1v1h2v-1h4v1h1v-2h1v1h3v1h1v-1h6v1h1v-3h1v1h1v2h3v-2h1v-1h1v3h2v-1h2v1h1v-1h1v1h1v1h1v-1h3v1h1v-1h3v-1h1v1h1v-1h1v1h7v1h2v-1h4v1h1v-1h7v1h1v-1h6v1h1v1h1v-1h1v-1h2v2h1v-1h3v-1h4v2h1v-2h1v1h1v-1h2v1h2v-1h2v1h2v-1h1v1h3v-1h4v1h1v-1h1v1h12v-1h1v1h2v-1h2v1h5v-4h1v1h1v3h2v-1h3v1h1v-1h2v1h1v-1h1v1h2v-1h3v1h4v-1h3v1h1v-1h1v1h2v-1h4v1h2v-1h8v1h1v-1h1v1h1v-1h1v-1h1v1h4v-1h1v1h1v-1h1v1h1v-1h1v1h8v-1h2v1h1v1h1v-1h1v-2h1v-2h1v-3h1v-4h1v-6h1v-6h2v4h1v2h1v7h1v4h1v5h2v1h1v-1h1v1h2v-1h1v1h2v-1h1v1h2v-2h1v1h1v1h2v-1h4v-2h1v-1h2v3h2v1h1v-3h2v2h2v1h1v-1h1v1h4v-1h2v1h10v-1h1v1h1v-1h1v1h2v1h2v-1h4v1h1v-1h2v-1h1v1h1v-1h1v2h1v-1h1v-1h1v2h1v-1h6v-2h1v2h1v1h1v-1h1v1h1v-2h3v1h1v-1h4v1h1v-1h1v1h3v-1h1v1h1v-1h5v-1h2v1h3v1h1v-1h2v1h1v-2h2v-1h1v2h5v1h2v-1h4v1h2v1h1v-1h1v-1h2v1h1v-1h1v-1h1v1h1v-2h2v1h1v1h1v1h7v1h2v-1h12v1h1v-1h9v-1h1v1h2v-1h2v1h2v-1h1v1h3v1h1v-1h1v-1h5v1h1v1h1v-2h2v1h1v-1h2v1h2v-1h1v1h5v-2h1v2h2v-1h5v-1h2v2h1v-4h1v1h1v-1h1v3h1v-1h1v1h2v1h2v-1h2v-1h1v1h3v-2h2v3h1v-1h2v-2h2v2h4v-2h2v2h2v-1h1v-1h1v2h1v1h3v-1h1v1h1v-1h1v1h1v-1h2v1h4v-1h3v1h2v1h1v-1h1v-2h2v1h1v1h1v-1h1v1h4v-1h4v1h1v-1h4v1h2v-1h1v1h6v1h4v-1h1v1h1v-1h4v1h1v-3h1v3h2v-1h2v1h3v-1h1v1h2v-1h2v1h1v-1h3v1h2v-1h3v1h2v-1h3v1h2v-1h5v-1h1v-1h1v-1h3v3h1v1h3v-1h4v1h1v-1h7v1h2v-1h3v-1h1v-1h1v-1h1v3h2v-1h2v1h1v-1h1v1h8v-1h1v1h2v-1h2v1h1v-2h1v1h1v1h6v-3h1v1h1v2h7v-1h1v-3h1v3h1v1h3v-1h2v1h1v-1h2v1h1v-1h2v-1h1v1h2v1h1v-1h4v-1h1v1h1v1h1v-1h1v1h1v-1h12v-1h1v-2h1v2h1v1h4v-1h1v1h3v-2h1v1h4v1h5v1h1v-1h1v-1h1v1h2v1h3v-1h2v1h2v-1h2v1h1v-1h5v1h1v-1h1v1h1v-1h1v1h2v-1h1v-1h1v1h1v1h5v1h2v-1h1v1h1v-1h1v1h2v-1h1v1h2v1h1v-1h3v-4h3v3h3v1h1v-1h1v1h3v-1h4v1h2v-1h3v-3h3v3h2v-1h1v1h1v-3h2v3h5v-1h1v1h3v-1h1v1h1v-1h1v1h1v1h1v-1h3v-1h2v-1h1v2h3v-1h1v1h1v-1h2v1h2v-1h1v1h2v-1h2v1h1v-1h2v1h1v-1h1v1h1v-1h1v1h11v-1h1v1h2v1h1v-1h2v-1h1v1h6v-1h1v1h1v1h1v-1h4v-1h1v1h4v1h1v-1h5v1h2v-1h5v1h1v-1h4v1h4v-1h1v1h1v-1h3v1h2v-2h1v1h1v1h2v-1h1v1h1v-1h1v-1h2v1h5v1h1v-2h1v1h1v20h-3v1h-2v-2h-1v3h-1v-1h-3v-2h-5v3h-1v-2h-2v-1h-5v-1h-2v1h-2v1h-1v-1h-1v2h-1v1h-1v-1h-1v-2h-4v3h-2v1h-1v-1h-2v-3h-1v1h-2v-1h-4v-1h-1v1h-3v1h-1v-1h-1v1h-2v-1h-1v3h-1v-1h-1v-3h-1v2h-6v-1h-4v1h-3v-1h-3v1h-4v-1h-1v1h-2v-1h-2v1h-3v1h-2v-2h-1v2h-1v1h-1v-2h-2v-1h-1v1h-2v2h-2v-2h-1v-1h-2v1h-1v-1h-2v1h-1v-1h-1v1h-1v-2h-1v2h-1v-1h-1v1h-2v-1h-1v1h-1v-1h-3v1h-1v-1h-3v1h-1v-1h-2v1h-1v1h-1v-2h-1v1h-1v-1h-1v1h-2v-1h-2v-1h-1v1h-3v-1h-1v3h-1v-3h-1v1h-1v-1h-4v1h-3v-1h-1v1h-1v1h-1v-2h-1v1h-1v-1h-1v1h-7v1h-1v-1h-1v-1h-1v1h-5v1h-3v-1h-1v1h-1v-1h-1v1h-2v-1h-1v1h-1v-1h-1v1h-1v1h-2v-1h-1v1h-1v2h-1v-2h-2v-1h-2v1h-1v-1h-1v1h-4v-1h-4v1h-4v-1h-3v1h-1v-1h-3v1h-3v-1h-1v-1h-1v1h-2v-1h-1v1h-1v-1h-1v1h-1v1h-2v-1h-2v-1h-1v1h-8v-1h-1v1h-1v-1h-1v1h-2v1h-1v-1h-2v-1h-2v1h-1v3h-2v-3h-9v-1h-3v1h-3v-1h-2v1h-1v-1h-1v-1h-1v1h-1v3h-1v-3h-8v1h-3v-1h-1v1h-4v-1h-3v1h-1v-1h-3v1h-1v-1h-2v-1h-1v1h-3v1h-1v-1h-1v1h-1v-1h-1v1h-2v2h-2v-3h-3v1h-1v-1h-1v-1h-1v1h-3v1h-1v-1h-1v-1h-1v1h-3v3h-1v1h-1v-1h-1v-3h-1v1h-1v-1h-7v-1h-1v1h-2v-1h-1v1h-6v-1h-1v1h-7v-1h-1v1h-3v1h-1v1h-2v-3h-2v1h-1v-1h-1v1h-4v1h-1v-1h-1v-1h-2v1h-1v1h-3v-1h-4v1h-2v-1h-4v1h-4v-1h-2v1h-1v-1h-2v1h-3v-1h-1v1h-2v-1h-1v1h-5v1h-3v-1h-6v-1h-1v1h-4v3h-1v1h-1v-3h-3v-1h-4v1h-1v-1h-3v1h-6v-1h-1v1h-1v-1h-1v1h-4v-1h-5v-1h-1v1h-3v-1h-2v1h-15v-1h-1v1h-2v-1h-1v1h-2v-1h-1v1h-2v-1h-5v1h-2v-1h-4v5h-1v-4h-2v1h-2v-1h-1v-1h-4v1h-3v-1h-1v-1h-2v1h-3v1h-1v-1h-2v-1h-1v1h-1v1h-1v-1h-1v1h-1v1h-1v-1h-4v-1h-1v4h-3v-3h-4v-1h-1v1h-3v-1h-3v1h-1v1h-1v2h-2v-3h-1v1h-2v-1h-1v-1h-2v1h-1v1h-1v-1h-5v-1h-1v1h-1v1h-2v-2h-1v4h-1v-3h-8v-1h-1v1h-1v-1h-1v1h-7v-2h-1v2h-1v-1h-1v1h-1v-1h-2v1h-3v-1h-5v1h-1v-1h-1v-1h-1v1h-4v1h-2v-1h-1v1h-2v-1h-1v1h-2v-1h-2v1h-1v2h-1v-1h-1v1h-1v-3h-3v1h-2v-1h-5v1h-1v-1h-3v1h-3v-1h-2v1h-1v-1h-2v1h-7v-1h-4v1h-2v4h-1v-1h-1v-4h-2v1h-3v2h-3v2h-1v6h-1v6h-1v3h-1v3h-1v-4h-1v-5h-1v-5h-1v-3h-1v-2h-1v-1h-1v-1h-1v-1h-1v2h-2v-2h-1v-1h-2v1h-2v-1h-1v1h-1v-1h-4v1h-4v-1h-5v1h-1v-1h-4v-1h-6v1h-6v2h-2v-2h-6v-1h-2v1h-1v-1h-3v1h-4v-1h-1v2h-1v-1h-2v-1h-2v1h-1v-1h-2v1h-4v-1h-1v1h-3v-1h-2v1h-1v-1h-1v1h-1v-1h-1v1h-1v-1h-1v1h-1v3h-1v-3h-1v-1h-1v1h-1v3h-2v-4h-1v1h-5v-1h-1v2h-3v-1h-1v-1h-1v1h-1v-1h-1v1h-4v-1h-1v1h-7v1h-1v-1h-1v-1h-6v1h-2v-1h-1v1h-3v-1h-3v1h-1v-1h-1v1h-6v-1h-1v1h-1v1h-1v-1h-2v-1h-1v1h-2v1h-2v-1h-1v1h-1v-1h-2v-1h-1v1h-1v3h-1v1h-1v-4h-1v1h-1v-1h-1v4h-2v-1h-1v-3h-1v1h-2v-1h-6v1h-3v-1h-4v1h-2v-1h-1v2h-2v-1h-2v-1h-2v1h-8v-1h-1z"/>
<path fill="#0000ff" d="M138 514h1v-1h2v1h1v1h1v-4h1v3h5v-1h1v1h2v-1h1v1h10v-1h2v1h2v-1h1v1h1v-1h1v1h1v-1h1v1h5v-1h3v1h2v1h1v-1h1v-4h2v3h2v1h2v-3h2v-1h1v1h1v-1h1v4h3v-1h1v2h1v-1h9v-2h1v2h2v-2h3v2h3v1h1v-1h6v1h1v-1h4v-1h1v-2h1v3h2v-1h1v1h4v-3h1v2h1v-2h1v1h1v-1h1v-3h2v1h1v-2h2v-1h1v-1h1v-2h1v2h2v-1h1v2h1v1h1v1h1v-4h1v4h1v3h1v1h1v2h1v-1h1v1h2v-1h2v-2h1v-2h1v1h1v-3h1v1h1v2h1v-2h1v-1h1v-2h1v-1h1v6h1v2h1v2h1v1h1v-1h1v1h1v-1h3v1h2v-1h1v1h1v-1h1v1h2v-1h5v1h4v-1h2v1h1v-1h2v1h1v-1h6v-1h1v2h3v-2h2v1h1v2h1v-1h1v-1h7v-3h2v4h3v1h1v-1h1v-1h3v-2h1v-10h1v7h1v6h4v-1h2v1h1v-1h5v1h1v-1h3v1h1v-2h2v1h1v-1h3v1h2v-1h1v1h1v-1h1v-3h1v-1h1v4h1v1h2v-1h3v1h1v-1h4v-2h3v2h1v-2h2v3h2v-1h6v1h1v-1h1v1h1v-1h1v1h2v-1h3v1h1v-3h2v2h2v1h2v-1h1v1h2v-1h3v1h4v-1h2v1h1v-1h3v1h1v-1h2v1h1v-1h3v1h1v-1h2v1h2v-1h1v1h1v-4h1v-1h1v4h2v1h1v-1h10v1h2v-1h6v1h1v-2h1v2h4v-1h1v1h5v-1h3v2h1v-1h3v-2h1v2h1v-2h1v2h6v1h1v-1h4v1h1v-1h11v-1h2v-1h2v1h1v1h3v1h2v-1h1v1h2v-1h3v-1h1v1h1v-1h1v1h2v1h1v-1h3v-1h1v1h7v1h1v-2h1v1h1v-1h1v-3h3v4h3v-3h1v3h1v-1h2v1h2v-1h1v1h3v1h1v-1h2v-1h3v1h3v-1h2v1h2v-1h2v1h3v-1h1v1h2v-1h5v-1h1v1h1v-1h1v1h1v1h1v-1h1v-1h1v-3h1v1h2v3h1v1h1v-1h1v-3h1v-1h2v5h2v-1h4v-1h1v1h2v-1h1v1h2v1h1v-1h4v-1h1v1h6v2h1v-1h3v-4h1v1h2v2h3v1h1v-1h5v1h2v-1h1v1h3v-1h1v1h1v-3h1v3h1v-1h2v1h1v-4h2v3h1v1h2v-1h3v1h1v-3h1v3h2v-1h1v-1h1v1h4v1h1v-1h4v1h3v-1h8v-1h1v1h7v-1h3v1h1v-1h4v1h3v-1h4v2h1v-1h2v1h1v-1h1v-1h3v1h1v-1h1v-2h1v1h1v2h4v-3h3v3h1v-1h4v1h4v-1h2v1h9v1h1v-2h1v1h4v1h3v-1h4v-3h1v1h1v2h1v-3h2v3h11v-1h1v1h2v-1h2v1h1v-1h8v1h1v-2h1v1h2v-1h1v1h1v1h2v-1h1v1h1v-1h1v1h1v-1h2v1h1v-1h2v-1h2v1h2v-1h1v1h5v1h1v-1h2v-1h3v1h2v-1h1v-1h1v2h1v-1h4v-1h1v2h1v-1h3v-1h1v-1h2v2h2v-1h1v1h2v-1h1v1h1v-1h1v1h1v-1h8v1h1v-1h2v1h4v-1h1v1h5v1h1v-1h1v1h1v-1h2v1h1v-1h3v-1h2v2h1v1h1v-1h7v-1h1v1h3v1h1v-1h2v1h4v-1h3v1h1v-1h3v1h1v-2h1v2h1v-1h2v1h1v-1h1v1h1v-1h4v2h3v-1h1v1h1v-1h1v-1h2v1h3v-1h1v1h7v-1h1v1h2v-2h1v1h1v-1h1v2h1v-4h2v3h1v-1h3v1h1v-1h1v-1h1v1h1v1h2v-1h1v1h1v-1h8v-1h1v1h5v1h4v-1h1v1h1v-1h4v1h1v-1h3v1h1v-1h4v-1h1v1h1v1h5v1h1v-1h1v24h-2v-1h-1v-1h-1v2h-2v1h-1v-1h-2v1h-1v-1h-1v-1h-1v-1h-1v2h-3v1h-1v-2h-1v1h-2v1h-2v-1h-1v1h-1v-1h-2v-1h-1v1h-7v1h-1v-1h-1v-1h-4v1h-2v-1h-2v1h-1v-1h-2v1h-2v1h-1v-1h-1v-1h-1v1h-2v-1h-1v1h-3v-1h-1v1h-3v-1h-3v1h-2v-1h-3v1h-1v-1h-3v-1h-1v1h-2v1h-2v-1h-3v2h-3v-2h-1v-1h-1v1h-2v2h-2v-1h-1v-1h-2v-1h-2v1h-6v1h-1v-1h-1v1h-1v2h-1v-2h-1v-2h-2v1h-1v1h-9v-1h-1v1h-1v-1h-1v1h-1v-1h-1v1h-1v-1h-2v1h-2v1h-2v-2h-1v1h-1v1h-1v-1h-2v-1h-1v1h-1v1h-3v-2h-1v2h-1v-1h-1v1h-3v-1h-1v1h-1v-1h-2v1h-6v1h-2v-1h-1v3h-2v-3h-4v-1h-2v1h-1v-2h-1v1h-1v-1h-2v1h-1v-1h-2v1h-1v1h-1v-1h-3v-2h-1v1h-1v5h-2v-5h-1v1h-3v-1h-1v1h-3v-1h-1v1h-2v-1h-4v1h-1v-1h-1v1h-1v-2h-1v1h-3v1h-3v-1h-1v1h-1v-1h-2v-1h-1v1h-2v1h-1v-1h-4v1h-1v-1h-2v2h-1v-1h-1v-2h-1v1h-1v-1h-1v1h-1v-1h-2v-1h-1v1h-1v-1h-1v1h-2v1h-1v-1h-1v1h-1v-1h-1v1h-2v-1h-1v1h-3v-1h-2v1h-4v2h-1v-4h-1v1h-1v1h-1v-1h-2v1h-1v-1h-4v1h-3v-1h-1v1h-4v2h-2v-3h-2v-1h-3v1h-1v1h-1v-1h-1v1h-1v-1h-1v1h-1v2h-1v-2h-3v-1h-3v1h-2v-1h-1v-1h-1v1h-2v-1h-1v1h-2v1h-1v-1h-1v4h-1v-4h-1v1h-1v2h-1v-1h-2v-2h-1v1h-2v-1h-2v1h-1v-1h-2v-1h-1v1h-3v-1h-1v1h-2v1h-1v-1h-2v1h-2v-2h-1v1h-1v-1h-1v1h-2v1h-3v-1h-3v-1h-1v2h-1v-1h-5v1h-1v1h-2v1h-1v-3h-1v1h-1v-1h-8v1h-1v-1h-2v3h-1v-4h-1v1h-2v1h-1v3h-2v-4h-4v1h-3v2h-2v-2h-1v-1h-7v-1h-1v1h-3v1h-2v-2h-1v1h-3v2h-2v2h-2v-2h-1v-2h-1v1h-2v-1h-1v1h-1v-1h-1v-1h-1v1h-1v1h-1v-1h-1v1h-1v-1h-1v1h-2v-1h-1v2h-1v1h-1v-2h-1v-1h-1v1h-1v-1h-1v-1h-3v1h-2v1h-1v-1h-3v-1h-1v1h-4v-1h-3v1h-3v2h-1v1h-1v-4h-3v1h-1v-1h-1v1h-1v2h-1v1h-1v-3h-3v-1h-1v1h-2v-1h-1v1h-4v-1h-1v1h-1v1h-3v-1h-3v-1h-3v1h-1v2h-3v-2h-2v-1h-2v1h-1v-1h-1v1h-1v3h-1v-4h-1v1h-1v-1h-1v1h-6v-1h-1v1h-2v-1h-1v1h-1v-2h-1v3h-1v1h-1v-3h-1v1h-4v-1h-1v1h-1v-1h-1v1h-1v-1h-4v-1h-1v1h-2v1h-4v-1h-1v1h-1v-1h-1v2h-1v-1h-12v-1h-3v1h-1v1h-1v1h-1v-1h-1v-1h-3v1h-1v-1h-2v-1h-1v1h-1v1h-1v-1h-1v1h-1v-1h-3v-1h-1v1h-1v1h-1v-1h-2v-1h-2v1h-5v-1h-1v1h-5v-1h-4v1h-1v-1h-1v1h-2v-1h-1v1h-1v-1h-3v5h-1v-1h-2v-3h-1v1h-2v-1h-7v-1h-1v1h-2v1h-2v-1h-6v1h-1v1h-1v1h-1v-2h-2v-1h-6v1h-1v-1h-3v1h-1v-1h-1v-1h-1v1h-2v1h-1v-1h-2v1h-1v-1h-7v-1h-1v1h-1v-1h-1v1h-5v-1h-4v1h-1v-1h-1v1h-2v-1h-1v1h-1v-1h-1v6h-1v9h-1v-10h-1v-5h-3v-1h-2v1h-1v1h-1v-1h-1v1h-1v-1h-7v2h-2v-1h-1v-1h-3v-1h-1v1h-4v1h-2v-1h-3v2h-2v-2h-1v2h-3v-2h-4v-1h-2v1h-9v1h-2v-1h-2v-1h-1v1h-3v3h-1v2h-1v4h-1v-1h-1v-2h-1v-4h-1v2h-1v-1h-1v2h-2v-1h-1v-1h-1v-2h-2v-1h-1v1h-1v1h-2v1h-1v1h-1v4h-1v-2h-1v-1h-1v1h-1v1h-1v4h-1v1h-1v-3h-1v2h-1v-4h-1v2h-2v-2h-1v2h-1v-1h-1v-3h-1v1h-1v-3h-1v-2h-1v4h-1v-1h-1v-3h-6v-1h-1v2h-1v-2h-4v1h-2v-1h-4v-1h-1v2h-2v-1h-3v2h-2v-2h-4v1h-1v-1h-3v-1h-1v4h-4v-2h-5v-1h-4v1h-7v-1h-1v1h-3v-1h-1v1h-1v-1h-1v1h-2v-1h-3v1h-5v-1h-2v1h-1v3h-1v-4h-1v1h-11v1h-2v-1h-2v-1h-2v1h-6v-1h-1z"/>
<path fill="#008000" d="M138 575h1v-1h1v-2h1v4h3v-1h3v1h1v-2h1v-1h1v-1h3v1h1v1h2v1h2v-1h1v2h2v-1h4v-3h1v1h1v2h1v1h1v-1h3v-1h1v1h2v1h1v-1h1v1h1v-1h2v-1h1v1h1v-1h2v1h1v1h1v1h1v-2h1v1h1v-1h1v1h1v-1h1v1h3v-1h1v1h1v-1h1v1h1v-1h3v1h1v-1h2v1h3v-1h2v1h2v-1h1v1h1v-1h2v2h1v-2h1v1h2v-1h6v1h1v-1h3v1h2v-1h1v1h2v-1h1v-2h2v2h4v-1h2v2h1v-1h4v1h2v-1h1v1h1v-1h1v-1h3v1h3v-1h1v1h1v-1h3v1h1v-1h3v1h3v-1h2v1h1v-1h1v1h1v1h3v-1h1v-2h2v1h2v1h1v-1h1v-1h1v-1h1v1h1v2h3v-1h5v-1h2v2h2v1h1v-1h2v-1h2v1h1v-1h1v1h1v-3h2v1h1v2h2v-1h1v2h1v-2h3v1h9v1h3v-1h3v-1h1v1h2v-1h2v1h3v-1h1v1h3v-1h1v1h1v-1h1v1h3v-2h1v-1h1v1h1v2h1v-1h1v1h1v1h1v-1h2v-1h2v1h1v-1h2v1h1v-1h3v1h1v1h1v-1h1v-1h2v1h1v-1h1v1h1v-1h4v1h1v-1h5v1h3v-1h6v1h3v-1h2v-1h1v1h3v1h2v-1h3v1h1v-1h4v1h1v-1h2v1h1v-1h5v2h1v-1h1v-1h2v1h1v-4h1v3h1v2h1v-1h2v-1h1v1h2v-1h1v1h1v-1h1v1h3v-1h1v1h1v1h1v-1h4v-1h1v1h2v1h1v-1h3v1h1v-1h2v1h2v-1h3v1h1v-1h2v-1h2v2h1v-1h1v-2h1v2h1v-1h1v1h1v1h1v-1h2v-1h2v-4h1v1h1v3h5v1h1v-1h6v1h3v-2h1v1h5v-1h1v1h1v-1h1v1h1v-1h1v1h1v1h1v-1h1v-1h1v1h1v2h1v-1h1v-1h1v-1h1v-2h2v2h4v2h2v-2h1v1h2v-1h1v1h1v-1h5v1h1v-1h1v1h2v-1h1v2h2v-2h2v-1h1v2h1v-1h1v1h2v-1h1v1h2v-1h4v1h4v1h2v-1h1v-1h1v1h1v-1h1v-1h1v1h2v1h2v-1h2v2h1v-1h1v1h2v-1h1v1h2v-1h2v1h1v-1h4v-1h1v1h2v-1h1v1h1v-1h1v-1h3v-3h1v2h2v1h1v1h1v-1h6v-1h1v1h2v1h2v-1h1v-1h2v1h3v-1h1v1h1v-1h4v1h7v-1h2v2h2v-1h6v-1h1v1h2v1h1v-1h1v1h1v1h1v-2h4v1h2v-1h1v1h1v-1h1v1h2v-1h1v1h1v-1h2v1h3v1h4v1h6v1h2v-1h2v-1h3v-3h1v4h2v-1h2v-1h6v1h4v-1h1v1h4v1h2v-2h1v1h1v1h1v-1h2v1h1v-1h1v-1h1v-1h2v-3h3v1h1v-1h1v1h1v1h1v-3h1v1h2v4h1v2h1v2h1v-1h3v-1h3v1h4v-1h1v1h3v-1h1v1h2v-1h2v1h1v-1h2v-1h5v1h1v-2h2v1h1v1h3v-1h2v1h1v-1h2v-1h2v1h1v1h1v-1h2v-1h1v1h2v-1h3v1h1v-1h1v2h1v-2h2v-3h1v2h1v1h1v-1h2v-2h1v1h1v-1h1v-1h1v3h1v-1h2v1h1v-2h1v1h3v1h1v-1h3v1h1v-1h4v1h1v-1h1v1h1v-1h1v2h1v-1h2v1h1v-1h1v-1h1v1h1v-1h3v1h4v-1h1v1h1v1h1v-1h3v1h1v-2h1v1h2v-1h1v1h1v-2h1v2h1v-1h3v1h5v1h1v-1h1v1h1v1h1v-1h1v1h2v1h1v-4h1v1h1v-1h1v4h1v-3h1v1h1v2h4v-1h3v1h2v-1h1v1h3v-1h2v-1h1v-1h1v1h1v-1h1v2h2v-1h2v1h1v-2h2v2h1v-8h1v5h1v4h3v-1h1v1h1v-1h2v-1h1v1h1v-1h1v1h7v1h1v-1h1v1h2v-1h1v-1h1v1h3v-1h2v1h1v1h1v-1h6v1h1v-4h1v1h1v-2h3v3h1v1h1v1h1v-1h1v1h1v-1h1v-1h1v1h1v1h1v-1h1v-2h1v-1h1v1h1v2h1v1h1v-1h1v1h2v-1h2v1h1v-1h1v1h2v1h1v-1h3v1h1v-1h1v1h1v-3h2v1h1v-1h2v-1h1v4h4v-1h1v1h1v-2h1v1h1v1h4v-2h2v1h5v1h1v-1h1v1h2v-1h1v1h1v-1h2v1h2v-1h4v1h1v-2h1v-1h1v1h1v24h-3v-1h-1v1h-1v1h-2v-1h-2v-1h-3v1h-1v-1h-1v1h-1v-1h-1v1h-2v-1h-1v-1h-1v2h-3v-1h-1v1h-1v1h-1v-1h-1v1h-1v-1h-1v-1h-2v1h-1v-1h-1v1h-2v-1h-1v1h-2v-1h-1v3h-1v-2h-2v-1h-1v1h-1v-1h-2v1h-2v1h-1v-1h-1v1h-7v1h-1v-1h-1v1h-1v-1h-4v1h-1v-1h-2v-1h-1v2h-2v-1h-4v1h-3v-1h-1v1h-2v-1h-1v1h-5v-1h-1v1h-8v-1h-1v1h-2v-1h-1v1h-6v-1h-1v1h-3v1h-2v-2h-1v1h-3v1h-1v2h-1v5h-1v-8h-3v1h-1v-2h-2v1h-2v-1h-2v1h-1v-2h-1v4h-1v-1h-1v-1h-3v-1h-2v1h-1v-1h-1v1h-1v-1h-3v-1h-1v1h-7v-1h-1v1h-3v2h-4v2h-1v-1h-1v-1h-1v2h-4v-1h-1v1h-2v-1h-2v-1h-2v1h-3v-1h-1v1h-1v1h-1v-1h-1v1h-1v-1h-2v-1h-3v2h-1v-1h-1v2h-1v-3h-1v1h-1v4h-2v-3h-1v1h-1v-2h-2v-1h-1v1h-2v3h-2v-4h-2v1h-3v1h-1v-2h-3v1h-2v1h-2v-2h-1v2h-1v-2h-1v1h-1v-2h-1v2h-1v-1h-1v-1h-1v1h-1v-1h-1v-1h-1v2h-2v-1h-3v-1h-1v1h-1v1h-1v-1h-2v-1h-3v2h-2v-1h-3v-1h-1v1h-2v-2h-1v2h-1v-1h-2v1h-1v1h-1v-1h-1v-1h-1v-1h-1v3h-1v-3h-1v-1h-1v1h-13v-1h-2v1h-1v-1h-2v2h-1v-2h-1v1h-3v1h-1v1h-1v1h-2v1h-1v1h-2v1h-1v1h-1v-1h-1v-1h-1v-1h-1v-2h-1v1h-1v-2h-1v1h-1v-1h-2v-1h-1v1h-1v1h-1v-1h-1v1h-6v1h-5v-2h-2v1h-3v-1h-1v-1h-1v1h-2v1h-1v-1h-1v1h-1v-2h-1v1h-3v1h-1v-2h-1v1h-1v-1h-3v1h-1v1h-1v-1h-1v1h-3v-1h-1v2h-3v1h-1v-2h-1v2h-1v-2h-1v2h-1v-1h-1v-1h-1v1h-1v-2h-1v1h-1v2h-1v-1h-2v-1h-1v1h-1v1h-2v-1h-3v-1h-1v1h-1v1h-2v-1h-2v-1h-1v1h-1v1h-1v-2h-1v1h-1v1h-3v1h-1v-1h-7v-1h-2v2h-1v-1h-2v-1h-1v1h-2v1h-4v-1h-3v1h-2v-1h-1v-1h-1v2h-3v-2h-1v1h-2v2h-1v-2h-1v-2h-1v-1h-1v1h-1v-1h-1v-1h-1v1h-4v1h-1v-1h-1v1h-2v-1h-2v-1h-1v1h-2v1h-1v-1h-3v1h-2v2h-1v3h-1v-4h-1v-2h-6v1h-3v-1h-1v1h-1v-2h-1v4h-1v1h-1v-4h-1v1h-2v-2h-1v2h-2v-2h-1v2h-1v1h-1v-1h-1v2h-2v-1h-1v-2h-3v2h-1v-1h-4v-1h-2v2h-1v-1h-1v-1h-1v1h-2v-1h-1v1h-5v-1h-1v1h-6v-2h-2v2h-1v-1h-2v1h-1v4h-1v-1h-1v-3h-1v-1h-1v1h-7v-1h-2v1h-1v-1h-5v4h-2v-1h-1v-3h-1v-1h-2v1h-5v-1h-2v1h-1v-1h-1v1h-3v-1h-1v1h-1v3h-1v-1h-1v-4h-1v2h-2v-1h-2v1h-1v-1h-1v1h-1v-1h-3v1h-1v-1h-2v-1h-1v1h-2v1h-4v-1h-1v-1h-1v2h-1v1h-1v-2h-1v-1h-1v1h-1v2h-2v-1h-1v-1h-2v1h-1v4h-1v4h-1v-7h-1v-1h-1v1h-1v-1h-2v1h-1v-1h-3v-1h-1v2h-2v2h-1v-3h-1v1h-2v-1h-1v1h-1v-1h-3v1h-1v-1h-1v1h-3v-1h-2v-1h-1v1h-3v1h-1v-1h-5v1h-2v-1h-1v1h-1v2h-2v-3h-3v1h-2v-1h-1v-1h-1v2h-2v-1h-1v1h-1v-1h-1v-1h-1v1h-2v1h-2v-1h-8v-1h-1v4h-2v-3h-2v-2h-1v2h-1v1h-3v-1h-1v-1h-1v1h-3v-1h-1v1h-1v-1h-1v1h-1v1h-1v-1h-3v-1h-3v1h-1v-1h-2v2h-2v-1h-2v-1h-1v2h-1v1h-1v-2h-3v-1h-1v1h-2v2h-1v1h-2v-3h-2v-1h-1v1h-2v-1h-2v1h-1v-1h-2v1h-1v1h-1v-1h-1v-1h-3v1h-3v2h-3v-4h-1v1h-1v1h-3v-1h-1v1h-9v-1h-2v4h-2v-1h-1v-2h-3v-1h-1v1h-4v1h-3v-2h-1v3h-1v-2h-2v-1h-1v1h-2v-2h-1v2h-1v2h-2v-1h-1v-2h-1v1h-1v-1h-2v1h-6v1h-1v1h-1v-3h-2v1h-2v-1h-1v1h-2v-1h-2v1h-1v-1h-2v3h-3v-3h-2v1h-1v-1h-1v1h-1v-1h-2v-1h-1v1h-2v-1h-1v1h-4v1h-1v-1h-1v1h-2v-1h-3v1h-1v-1h-1v-1h-1v1h-5v3h-1v-3h-1v1h-2v-1h-1v1h-1v-1h-2v2h-1v1h-1v-3h-2v1h-4v-1h-1v1h-4v1h-2v-2h-1v1h-1v-1h-2v1h-3v1h-1v1h-1v-2h-1v4h-1v-1h-2v-3h-2v1h-4v2h-2v-1h-3v-1h-1v-2h-1v1h-1v-1h-1v1h-2v-1h-1v1h-2v-1h-1z"/>
<path fill="#000000" d="M138 640h1v-1h2v1h3v-1h3v-2h1v3h1v-1h1v1h1v-2h1v1h7v-1h1v1h1v-1h1v1h3v-1h1v1h4v-1h2v1h3v-1h7v2h1v-1h1v-1h5v1h4v-2h3v3h1v-1h6v1h1v1h1v-1h5v1h1v-1h16v-1h3v1h1v-1h2v-1h2v2h3v-2h1v1h1v-1h1v1h5v1h1v-1h1v-1h1v1h2v-1h1v1h1v-1h1v1h1v-1h2v-1h1v2h1v1h1v-1h1v-1h2v-2h1v2h1v2h1v-1h4v-1h5v1h1v-1h1v-2h1v1h1v1h1v-1h1v1h4v1h1v-1h1v1h1v-1h2v1h2v-1h3v-1h2v1h1v1h2v-1h3v1h3v-1h6v-1h1v1h2v1h1v-2h1v1h1v1h1v-1h2v1h2v-4h2v3h3v2h1v-2h1v2h1v-1h2v-1h1v1h1v-1h2v1h1v-1h2v1h5v1h1v-1h3v-1h2v1h7v-1h1v1h4v1h1v-2h1v-2h1v2h1v1h2v-1h3v1h1v-1h2v1h1v-1h2v1h1v-1h2v1h6v-1h3v1h5v-3h1v-1h2v3h2v-1h1v1h1v-1h1v1h2v1h3v-1h2v-1h1v2h1v-1h2v2h1v-2h1v-1h1v1h1v1h1v-1h1v-1h1v1h1v1h2v-1h4v-1h1v1h3v-1h1v-7h1v7h2v1h2v1h1v-1h1v-1h4v1h5v-3h1v4h2v-1h7v1h1v-1h2v1h1v-1h3v1h1v-1h1v1h1v-1h2v1h2v-1h2v-1h1v1h1v-1h1v1h1v1h1v-1h1v1h3v1h1v-1h5v1h1v-1h2v-1h1v1h2v1h1v-1h1v1h4v-1h3v1h1v-1h1v1h1v-4h1v1h1v2h2v1h1v-1h1v1h1v-1h2v-4h1v1h1v3h1v1h1v-1h4v1h2v-1h7v1h1v-1h3v1h1v-1h4v1h3v-3h3v3h2v-1h1v1h3v-1h1v1h1v-3h1v-1h1v3h2v1h9v-4h2v3h1v1h1v-2h3v2h4v1h1v-1h2v1h1v-1h1v-4h1v4h1v-1h1v1h1v-1h1v-2h3v3h1v-1h2v1h2v-1h1v-1h1v1h3v-1h1v1h1v-1h1v-3h3v3h2v-1h1v2h3v-1h1v1h1v-1h1v-1h1v1h3v1h4v-1h2v1h3v1h1v-1h4v-1h1v1h1v-1h3v1h1v-1h1v2h2v-1h1v1h1v-1h2v1h1v-1h2v-1h1v1h5v1h2v-1h2v-1h1v-1h1v2h1v1h1v-1h1v1h1v-1h2v1h1v-1h1v1h2v-1h3v2h1v-2h4v-1h1v2h4v-4h2v4h4v-1h1v1h3v-1h2v1h1v-1h1v1h4v1h1v-1h3v-1h1v1h1v-1h1v1h3v-1h6v1h1v-1h1v1h3v-1h2v1h2v-2h1v-1h1v2h1v1h1v-1h1v1h6v-1h3v1h1v-1h1v-4h1v1h1v4h1v-2h2v-2h1v4h2v-1h2v1h1v1h2v-1h1v1h2v-2h1v1h2v1h1v-1h1v1h1v-1h1v-1h1v1h5v1h1v-1h2v-1h2v1h3v-1h1v1h1v1h1v-1h2v-1h1v1h1v-1h8v-1h1v1h1v-1h1v1h1v-1h1v1h2v-1h2v-1h1v1h2v-3h1v1h1v1h1v-3h2v4h2v1h2v-1h3v-1h2v1h4v1h2v-1h1v1h2v-1h2v1h2v-1h2v-1h2v2h2v-3h1v3h3v1h1v-1h4v1h3v-1h1v-1h1v2h5v-1h1v1h1v-1h2v1h3v1h1v-1h1v-1h1v1h3v-1h3v1h4v-1h1v1h1v-1h10v1h1v-1h2v1h1v-1h3v1h1v-1h6v1h1v-1h1v1h3v-1h2v1h1v-1h4v-1h1v1h7v1h1v-1h1v1h1v-1h2v-2h3v-1h1v3h2v1h1v-1h3v1h1v-6h1v2h1v3h5v-1h1v2h1v-1h3v1h1v-1h1v-1h1v1h5v1h1v-1h1v-1h1v1h2v-1h3v1h1v-1h1v1h4v1h1v-1h1v-2h3v3h1v-1h1v-1h2v1h3v1h1v-1h4v-3h1v1h1v3h1v-1h1v-1h1v1h1v1h2v-1h8v22h-1v-1h-1v1h-1v-1h-2v1h-4v-1h-1v1h-3v-1h-1v1h-7v1h-1v-1h-3v-1h-1v3h-1v-1h-2v-1h-4v-1h-1v1h-5v-1h-1v1h-5v1h-1v-1h-1v1h-1v2h-1v-3h-4v-1h-1v2h-2v-1h-1v2h-1v-2h-2v-1h-1v-1h-1v1h-1v1h-2v1h-1v-1h-1v-1h-2v-1h-1v1h-3v1h-1v-1h-3v1h-2v-1h-1v3h-1v-2h-1v-1h-2v1h-1v-1h-3v1h-3v-1h-1v1h-1v-1h-2v1h-3v-1h-1v1h-1v-1h-2v1h-1v-1h-1v1h-4v-1h-3v1h-2v-1h-2v1h-3v-1h-2v1h-1v-2h-1v2h-1v-1h-1v1h-1v-1h-6v2h-1v-1h-3v-1h-3v-1h-1v1h-2v-1h-1v1h-2v1h-2v-1h-3v1h-2v-1h-1v1h-1v-1h-1v1h-2v1h-2v-2h-1v1h-1v-1h-2v1h-3v-1h-1v1h-3v-1h-1v1h-1v-1h-1v2h-2v-1h-4v1h-1v-1h-5v1h-10v-1h-2v1h-1v-1h-1v1h-2v3h-1v-1h-1v-3h-3v2h-3v-1h-1v-1h-2v-1h-2v1h-1v-1h-1v1h-4v-1h-5v1h-1v-1h-3v1h-1v-1h-3v-1h-2v1h-1v-1h-2v1h-3v1h-1v-1h-2v1h-1v-1h-1v1h-1v-2h-3v1h-1v-1h-1v4h-1v1h-1v-3h-1v-1h-5v1h-2v-1h-1v3h-1v7h-1v-5h-1v-5h-1v1h-1v-1h-4v1h-1v-1h-3v1h-1v-1h-2v1h-2v-1h-2v1h-1v3h-1v-4h-1v-1h-1v1h-1v1h-2v-1h-4v-1h-1v2h-1v-1h-4v4h-1v-3h-1v-1h-4v1h-2v-1h-4v1h-1v-1h-1v1h-1v-1h-3v-1h-2v1h-11v1h-2v-1h-11v1h-2v-1h-1v1h-1v1h-2v-1h-1v-1h-1v1h-1v-1h-5v1h-1v-1h-3v1h-6v-1h-2v1h-6v1h-1v-1h-2v3h-3v-2h-4v1h-2v-2h-4v1h-3v-1h-2v1h-1v1h-1v1h-1v-3h-1v1h-2v-1h-2v-1h-1v1h-2v1h-1v-1h-2v-1h-1v1h-5v-1h-1v1h-1v-1h-1v-1h-1v1h-1v-1h-1v1h-2v1h-1v-1h-2v1h-2v-1h-1v1h-1v-1h-1v1h-1v-1h-2v1h-1v-1h-2v1h-1v-1h-1v3h-1v-1h-1v-2h-3v1h-1v-1h-3v1h-1v-1h-4v1h-1v-1h-4v1h-1v-1h-1v3h-3v-3h-1v1h-5v-1h-3v1h-3v-1h-1v1h-1v-1h-1v3h-1v-2h-1v-1h-1v-1h-1v4h-1v-1h-1v-1h-2v2h-2v-2h-1v-1h-2v1h-1v-1h-1v3h-1v-1h-2v-2h-1v1h-4v-1h-2v1h-2v-1h-3v4h-1v-1h-1v-3h-1v1h-2v2h-1v-2h-1v-1h-2v1h-2v-1h-2v1h-3v-1h-1v1h-5v-1h-1v1h-2v2h-1v-2h-2v1h-1v-1h-6v-1h-1v1h-4v-1h-1v1h-3v1h-1v-1h-1v1h-1v-1h-1v1h-1v-1h-1v3h-1v-3h-1v-1h-2v1h-2v4h-2v-3h-4v1h-1v-1h-1v-1h-1v1h-2v-1h-1v1h-1v5h-1v-4h-1v-1h-1v-1h-1v1h-1v1h-2v-1h-1v2h-1v-2h-1v-2h-1v1h-2v2h-1v-1h-2v-1h-3v1h-1v-2h-1v2h-1v-1h-1v1h-2v-1h-1v1h-7v1h-1v-1h-1v-1h-2v1h-1v-1h-1v-1h-1v1h-2v1h-1v1h-1v-1h-2v-2h-3v5h-3v-4h-1v-1h-3v1h-2v1h-2v-1h-5v-1h-1v1h-2v3h-1v-2h-1v-1h-1v1h-1v-1h-2v-1h-2v1h-12v1h-2v-1h-2v-1h-1v1h-5v2h-2v-2h-1v1h-2v-2h-1v1h-4v1h-1v-1h-1v1h-2v-1h-4v1h-1v-1h-2v-1h-2v1h-2v1h-1v-1h-1v1h-3v-1h-1v-1h-1v1h-2v1h-5v-1h-1v1h-1v-1h-1v1h-1v-1h-1v1h-2v-1h-2v1h-1v-1h-2v1h-2v-1h-1v1h-4v1h-1v-1h-2v-1h-1v1h-1v-1h-1v1h-6v-1h-1v1h-2v-1h-4v3h-1v1h-1v-1h-3v-2h-2v-1h-4v1h-1v-1h-3v1h-1v-1h-3v-1h-1v1h-4v-1h-1v3h-1v-1h-1v-2h-3v1h-4v-1h-3v2h-4v-2h-3v-1h-1v1h-5v1h-1v-1h-2v-1h-2v1h-5v1h-1v-1h-2v1h-1v-1h-1v1h-2v1h-2v-1h-2v1h-1v-1h-2v1h-4v-1h-2v1h-2v-1h-3v1h-4v-1h-1v2h-2v-2h-3v-1h-1v1h-1v-1h-1v2h-1v-1h-7v-1h-2v1h-1v-1h-2v3h-2v-2h-1v-1h-3v1h-1v-1h-2v1h-1z"/>
<path fill="#ff0000" d="M138 703h1v-1h1v1h1v-1h1v1h1v-2h1v2h1v-1h3v1h1v-1h2v1h1v-1h1v1h1v-1h2v-1h1v1h2v1h10v-4h1v4h10v1h3v-1h1v1h1v-1h2v1h1v-1h1v1h1v1h1v-1h1v-1h2v1h1v-1h2v1h4v-1h4v1h1v-1h1v1h3v-1h4v-2h3v3h2v-1h4v1h2v-1h1v1h1v-1h3v1h2v-1h1v1h1v-1h3v1h1v-1h3v1h1v-2h2v1h1v1h2v-1h2v-1h1v1h1v-1h5v1h3v1h1v-1h1v-3h1v4h1v-1h2v1h1v-1h1v-3h1v1h1v-1h1v2h1v1h3v1h1v-1h2v-1h3v1h1v1h1v-1h2v-1h2v1h2v-1h1v1h4v-1h3v1h2v-1h2v1h4v-1h2v1h4v1h1v-1h11v1h1v-1h5v1h1v-1h2v-2h1v-1h1v-1h1v-1h1v-4h1v-1h2v2h1v1h1v1h1v1h1v3h1v1h1v1h1v1h1v-1h2v1h1v-1h1v1h1v-1h3v1h1v-1h1v1h1v-2h1v2h1v-1h1v-1h1v1h6v-1h1v1h2v1h1v-4h1v1h1v2h5v-1h1v1h1v1h1v-1h1v-1h1v1h5v1h1v-1h1v1h1v-1h1v-1h1v1h3v-1h1v2h2v-3h1v2h2v-2h1v1h1v2h1v-1h2v-1h1v1h2v1h2v-1h10v-1h2v2h1v-1h1v-1h2v1h3v1h1v-1h1v-1h1v1h1v-2h1v-1h1v2h1v1h1v-1h2v1h2v-1h1v-1h2v1h1v1h1v1h1v-4h1v1h1v2h1v-1h1v1h2v1h1v-1h1v1h3v-1h4v-1h1v1h4v1h3v-1h2v2h1v-1h1v-1h5v1h3v-1h1v1h2v-2h1v-1h1v3h3v-1h3v1h4v-1h1v-3h2v4h6v1h1v-1h3v-1h2v1h1v-1h4v1h3v-1h2v1h3v-1h2v1h4v-1h1v1h8v-1h1v1h1v1h1v-1h1v-4h1v1h1v3h2v-1h4v1h2v-1h4v1h2v-1h4v-1h3v2h1v-1h2v-1h1v2h1v-1h6v1h1v-1h3v1h1v-1h1v-1h1v1h3v-1h1v1h5v1h1v-2h3v1h1v-1h2v-3h1v3h1v1h3v-1h4v1h1v-1h5v1h2v-1h1v1h1v-1h1v1h4v-2h1v1h2v1h2v-3h1v3h1v1h1v-1h6v1h2v-1h2v-1h1v1h4v1h2v-1h1v1h8v-1h2v1h2v-2h3v2h2v-1h1v1h2v-1h1v1h2v-1h1v1h4v-1h3v1h1v-1h1v-3h3v3h3v-1h1v1h7v-2h3v2h2v1h3v-1h1v1h1v-1h4v1h1v-1h3v1h1v-3h1v-1h1v-4h1v-2h1v-1h1v-1h1v-4h1v-6h1v-5h1v-5h1v3h1v6h1v2h1v1h1v4h1v6h1v-1h1v-2h1v-1h1v1h1v6h1v2h1v1h1v-2h1v1h2v-2h1v3h1v1h1v-1h1v1h2v3h1v1h1v-1h4v-1h1v1h11v1h1v-1h8v1h3v-2h1v1h1v-3h2v3h4v-1h1v-1h2v1h1v1h4v-1h1v2h1v-1h2v-3h1v-1h1v1h1v2h2v1h1v-1h2v1h2v-1h3v-1h2v1h2v-1h2v1h2v1h1v-1h1v-1h1v1h8v-4h1v1h1v3h1v-1h1v1h7v-1h5v1h4v-1h1v-1h1v1h2v1h1v-1h3v-2h1v-5h1v-1h1v4h1v2h1v1h1v1h6v-1h1v1h4v1h1v-1h1v-3h2v4h2v-1h4v1h1v-4h3v3h1v1h1v-1h1v1h3v-1h1v1h2v-1h1v-2h1v2h3v1h1v-1h5v1h1v-1h1v1h3v1h2v-1h4v1h1v-1h2v1h2v1h1v-1h1v-1h2v1h1v-1h3v1h6v-1h4v-3h1v3h1v1h3v-1h2v1h1v-4h1v-2h1v1h1v4h1v1h1v-1h3v1h1v-1h1v-1h2v1h2v-1h8v1h1v-1h1v1h1v-1h1v-1h2v1h3v1h1v-1h1v1h1v-1h8v1h2v1h1v-1h1v-1h2v1h2v-1h1v2h2v-1h5v20h-6v3h-1v-3h-2v-1h-1v1h-2v2h-1v-2h-8v1h-1v-1h-1v1h-1v-1h-1v1h-3v1h-1v-1h-1v-1h-1v1h-2v-1h-2v1h-1v-1h-2v2h-3v-2h-5v3h-2v-3h-5v3h-1v-1h-1v-1h-1v1h-1v-2h-1v-1h-3v1h-1v-1h-3v1h-3v-1h-2v2h-1v-1h-1v1h-1v-2h-2v1h-1v2h-2v-2h-5v-1h-3v1h-3v-1h-1v1h-4v1h-2v-1h-2v-1h-1v1h-3v1h-1v-1h-4v1h-1v-1h-2v1h-2v-1h-1v1h-3v-1h-5v1h-6v-1h-1v1h-9v-1h-4v1h-1v-1h-1v1h-3v1h-1v1h-1v-1h-2v-2h-1v1h-2v1h-1v-1h-1v1h-1v-1h-1v-1h-4v1h-1v-1h-1v2h-2v-1h-1v-1h-3v1h-1v-1h-3v2h-2v-1h-1v-1h-4v3h-2v-3h-3v-1h-4v2h-1v-1h-1v3h-2v1h-1v-4h-2v-1h-1v1h-1v-1h-1v1h-1v-1h-2v3h-1v-3h-2v1h-1v-1h-1v1h-1v-1h-2v2h-3v-1h-1v1h-2v-2h-1v-1h-1v1h-7v1h-2v-1h-6v2h-1v-2h-14v-1h-1v1h-1v-1h-1v1h-1v3h-2v-3h-3v-1h-3v3h-2v-1h-1v2h-1v-1h-1v4h-1v-2h-1v-1h-1v1h-1v1h-1v1h-1v1h-1v4h-1v1h-1v2h-1v-1h-1v2h-1v2h-1v1h-2v-1h-1v4h-1v6h-1v1h-1v-3h-1v-4h-1v-3h-1v-2h-1v-3h-1v-4h-1v-5h-1v-3h-1v1h-1v-2h-2v1h-1v-1h-2v1h-1v-1h-1v1h-2v-1h-1v1h-4v-1h-2v1h-3v-1h-2v1h-2v-1h-1v1h-9v-1h-2v3h-1v1h-1v-1h-1v-3h-5v1h-3v1h-3v-2h-5v-1h-1v1h-1v1h-1v-1h-2v1h-2v-1h-5v4h-1v-3h-1v-1h-1v1h-1v-1h-3v2h-1v-2h-2v1h-1v-1h-1v1h-5v2h-2v-2h-1v2h-2v-2h-2v1h-1v-1h-1v-1h-1v1h-1v1h-1v-1h-2v1h-3v-1h-3v1h-4v-1h-3v1h-3v-1h-1v1h-2v-1h-1v1h-1v-1h-1v1h-3v-1h-6v-1h-2v1h-1v-1h-1v1h-1v1h-3v-1h-5v1h-2v-2h-1v1h-2v2h-1v-1h-1v-1h-1v-1h-1v1h-1v-1h-2v1h-3v-1h-2v1h-2v-1h-1v1h-1v-1h-7v3h-2v-1h-1v-2h-4v3h-1v-2h-2v-1h-4v1h-2v-1h-2v1h-1v-1h-8v2h-1v-2h-2v1h-2v-1h-2v1h-2v-1h-1v1h-1v-1h-3v3h-1v1h-1v-3h-1v-1h-1v2h-2v-2h-1v1h-2v-1h-5v4h-1v-1h-2v-3h-2v1h-1v-1h-3v1h-1v-1h-1v1h-2v-1h-2v1h-1v-1h-2v1h-3v-1h-1v1h-5v-1h-2v1h-3v1h-1v-1h-5v2h-1v-1h-1v-2h-1v1h-8v-1h-3v1h-7v1h-1v-1h-7v-1h-1v3h-1v-3h-2v1h-2v1h-1v-1h-2v1h-1v-1h-2v-1h-1v4h-2v-3h-4v2h-1v-2h-3v1h-1v3h-1v-1h-1v-3h-5v-1h-1v1h-3v1h-1v2h-3v-3h-3v-1h-1v1h-6v1h-1v-1h-2v-1h-1v1h-4v-1h-1v2h-2v-1h-1v-1h-2v1h-4v-1h-1v1h-2v-1h-2v1h-1v-1h-2v1h-1v-1h-2v1h-4v3h-2v-2h-1v2h-1v1h-1v-1h-6v1h-1v1h-1v-3h-2v-1h-1v-1h-3v-1h-3v1h-2v-1h-1v1h-4v1h-1v-1h-1v-1h-1v1h-2v1h-1v-1h-2v1h-3v-1h-4v1h-1v-1h-2v1h-1v-1h-3v1h-1v-1h-6v1h-2v-1h-2v-1h-1v1h-3v1h-1v-1h-3v-1h-1v1h-2v2h-2v-2h-2v1h-1v-1h-8v-1h-1v1h-1v1h-3v-1h-3v-1h-1v1h-10v1h-1v-1h-2v-1h-3v1h-3v-1h-2v1h-2v-1h-1v1h-2v-1h-1v1h-1v-1h-1v1h-2v-1h-1v1h-1v-1h-2v1h-1v-1h-1v1h-2v-1h-4v1h-1v-1h-1v1h-1v-1h-1v1h-1v-1h-1v1h-2v-1h-1v1h-5v-1h-2v1h-1v-1h-3v1h-2v-1h-1v1h-1v-1h-2v1h-1v-1h-1v1h-4v2h-1v1h-1v-5h-1v1h-2v1h-1v-1h-1v1h-4v1h-1v-1h-3v1h-1v-1h-1v1h-1v-1h-3v1h-2v-1h-1v1h-1v-1h-3v1h-1v-1h-1v1h-3v1h-2v-2h-2v1h-1z"/>
<path fill="#0000ff" d="M138 767h1v1h3v-1h5v1h1v-3h1v-1h1v3h5v-4h1v1h1v4h2v-1h1v1h1v-1h2v-1h1v1h4v-1h1v1h1v-1h1v1h1v-1h1v1h1v1h1v-1h2v-1h1v-2h2v2h1v1h2v-1h1v1h8v1h2v-1h3v1h1v-3h1v3h1v-1h1v1h2v-1h1v1h1v-1h3v1h5v-1h1v-1h2v2h1v-1h1v1h1v-1h1v1h1v-3h1v3h1v-1h2v1h2v-1h1v1h2v-1h2v-2h1v-1h1v1h1v2h7v-1h2v1h1v-1h1v1h1v-1h1v1h1v-1h2v1h1v-1h1v1h1v-1h3v1h1v-1h2v1h2v-1h7v1h4v-1h2v1h3v-1h1v1h1v-1h1v1h9v1h5v-1h2v-1h1v1h4v-5h1v-1h1v7h1v-1h2v1h1v-1h6v-1h1v1h9v-1h2v1h1v-1h1v1h1v-1h4v1h3v-3h1v-1h1v3h1v1h2v-1h3v1h1v-1h1v-4h1v4h1v1h1v-1h1v1h1v-1h10v-3h1v-1h1v4h9v-1h1v1h2v1h1v-1h1v1h1v-1h1v1h1v-3h3v2h3v-3h1v3h1v1h1v-1h2v1h1v-1h5v1h3v-1h6v-2h2v3h1v-1h3v1h4v-1h1v1h1v1h1v-1h1v1h1v-1h1v-1h1v1h1v1h2v-1h1v-1h2v1h4v-1h1v1h2v-1h1v1h1v-1h1v-1h1v2h4v-1h4v1h3v-1h2v-1h3v2h2v-1h2v1h3v-1h3v1h1v-1h1v1h1v-3h1v1h1v2h3v-1h2v1h6v1h1v-1h2v1h1v-1h2v1h1v-1h1v1h2v-1h2v1h1v-1h2v1h2v-1h2v1h3v-1h1v1h3v-1h3v1h2v-1h1v-1h2v-1h1v2h2v1h1v-1h2v1h2v-1h2v1h2v-1h5v1h1v-1h1v1h2v-4h2v1h1v2h7v1h2v-2h1v2h1v-1h1v1h1v-1h3v1h1v-1h2v1h1v-1h1v-2h1v-1h2v1h1v3h1v-2h2v-1h1v2h3v-1h1v1h3v-2h1v2h1v1h2v-1h2v1h1v-1h7v1h1v-1h3v-1h1v1h1v-1h1v1h1v1h2v-4h1v2h2v-1h1v2h1v-1h4v1h2v-1h3v1h4v-1h1v1h2v-2h2v-1h1v3h1v-1h1v-1h1v-1h1v2h2v-2h2v-1h1v3h1v-2h1v-6h3v3h1v-1h1v-9h1v-5h1v-4h1v-9h1v-4h1v-3h1v-7h2v-1h1v31h1v-2h1v-5h1v4h1v8h1v2h1v1h1v1h2v1h1v3h2v1h1v2h1v1h4v1h3v-1h2v-2h1v2h1v1h1v-1h5v1h2v-1h1v1h1v1h1v-1h5v-2h2v2h4v1h1v-1h3v1h1v-1h1v1h1v-1h7v1h1v-1h3v1h1v-1h1v1h3v-1h13v-3h1v3h1v1h1v-1h2v1h2v-1h1v1h1v-1h2v-1h1v1h5v1h3v-1h9v1h1v-4h1v1h1v3h1v-1h1v1h5v-1h3v1h4v-1h4v1h2v-1h1v1h3v-3h2v1h1v1h1v1h2v-3h3v2h2v-1h1v-1h1v3h3v-1h4v1h1v-1h3v1h5v-1h2v1h1v-1h2v2h1v-2h1v1h2v-1h5v-2h2v1h1v1h3v1h1v-1h1v1h2v-1h1v1h1v-1h2v1h2v-3h1v-1h2v2h2v1h1v-1h4v1h1v-1h1v1h4v-1h2v1h1v-4h1v3h2v-32h1v2h1v30h2v-1h1v1h1v1h1v-1h5v1h1v-1h5v-1h1v1h2v-1h1v1h5v-8h1v8h4v-1h1v-3h2v4h1v1h2v-1h4v-6h1v7h1v-1h1v1h1v-6h1v4h1v2h2v-1h1v1h8v-2h2v2h1v1h1v-2h1v1h10v1h1v-3h3v2h1v1h1v-1h2v-3h1v1h1v2h1v1h2v-3h1v1h1v1h1v1h1v-1h1v1h6v-1h1v1h1v-1h4v1h1v-1h1v1h3v1h1v-1h3v-1h4v1h1v-1h1v-2h1v-1h1v3h4v1h1v-1h1v1h1v-1h3v-1h1v1h1v-1h1v1h1v1h1v-2h6v-1h1v22h-1v-1h-5v2h-2v-2h-4v-1h-1v2h-3v-2h-6v-1h-2v1h-3v2h-1v-2h-2v-1h-3v1h-1v-1h-5v1h-3v-1h-1v1h-2v-1h-1v1h-1v-1h-1v1h-1v1h-1v1h-2v-1h-1v-1h-3v-1h-1v1h-4v-1h-1v4h-1v-4h-1v1h-2v1h-1v-1h-4v1h-1v-1h-11v1h-1v-1h-1v1h-3v-1h-2v1h-6v3h-1v-4h-1v1h-2v4h-1v-2h-1v-1h-1v-1h-2v1h-1v-1h-1v-1h-2v1h-1v-1h-1v1h-4v7h-1v-7h-2v-1h-1v1h-2v-1h-2v1h-3v2h-2v-2h-7v-1h-1v1h-2v1h-3v15h-1v-1h-1v-15h-1v-1h-1v1h-1v-1h-1v1h-5v-1h-2v1h-12v-1h-5v1h-1v-1h-1v1h-1v-1h-2v-1h-1v4h-1v-3h-4v-1h-1v1h-2v2h-2v-2h-3v-1h-2v1h-5v2h-1v-1h-1v-1h-1v-1h-3v1h-1v-1h-2v1h-1v-1h-1v3h-1v-1h-2v-2h-2v1h-3v1h-2v-2h-1v3h-1v-1h-1v-1h-2v-1h-1v1h-3v-1h-1v1h-2v-1h-1v1h-1v-1h-1v1h-3v-1h-1v3h-2v-2h-3v-1h-5v1h-1v-1h-1v1h-1v-1h-1v1h-6v-1h-1v1h-15v-1h-1v1h-7v-1h-1v1h-5v-1h-1v1h-2v1h-1v-2h-1v1h-2v-1h-1v1h-3v-1h-1v1h-4v-1h-2v1h-1v-1h-1v1h-3v-1h-2v1h-4v-1h-1v1h-1v2h-1v-1h-1v1h-1v-2h-6v1h-3v-1h-1v3h-1v-2h-1v-1h-3v1h-1v-1h-3v1h-4v2h-3v-3h-1v1h-2v1h-1v2h-2v4h-1v2h-2v4h-1v3h-1v1h-1v12h-1v-3h-1v-3h-2v2h-1v4h-1v10h-1v-4h-1v1h-1v-17h-1v2h-1v-1h-1v1h-1v-11h-1v-5h-2v-2h-2v-2h-1v-2h-4v1h-4v3h-1v-1h-4v-4h-1v1h-1v1h-1v-1h-1v1h-1v-1h-1v-1h-1v1h-3v3h-1v1h-1v-3h-1v-1h-2v-1h-2v1h-2v-1h-1v4h-1v-4h-1v1h-3v1h-1v-2h-1v1h-2v2h-1v-1h-2v-1h-4v-1h-1v1h-4v-1h-1v3h-1v1h-1v-2h-2v-1h-10v1h-1v-1h-1v-1h-2v1h-5v-1h-1v1h-2v-1h-1v1h-4v-1h-1v1h-1v2h-2v-2h-2v-1h-2v1h-1v-1h-2v1h-2v-1h-2v1h-6v-1h-5v1h-3v-1h-1v1h-4v-1h-4v1h-3v-1h-1v1h-1v2h-1v-2h-1v-1h-3v1h-2v-1h-2v2h-1v-1h-1v-1h-1v1h-1v3h-1v-1h-1v-2h-5v1h-2v1h-1v-2h-2v3h-1v-1h-1v1h-1v-3h-1v1h-1v-1h-1v1h-1v-1h-1v1h-1v-1h-1v3h-1v1h-1v-3h-1v-1h-1v1h-2v-1h-1v3h-2v-3h-2v1h-1v-1h-3v4h-1v-2h-1v-1h-1v1h-1v-1h-4v-1h-1v2h-3v-2h-3v1h-1v-1h-1v2h-1v-2h-1v4h-2v-4h-1v1h-3v-1h-3v1h-2v-1h-5v-1h-1v1h-4v1h-1v-1h-1v1h-1v-1h-1v1h-1v-1h-5v1h-6v-1h-3v1h-5v3h-1v-1h-1v-2h-12v-1h-1v2h-1v1h-1v-2h-2v1h-1v-1h-1v-1h-2v1h-2v1h-1v-1h-3v-1h-2v1h-2v1h-1v-1h-1v-1h-2v1h-5v-1h-1v1h-1v3h-1v-3h-2v-1h-2v1h-1v3h-2v-4h-1v1h-1v-1h-2v1h-2v2h-1v1h-2v-3h-8v-1h-2v2h-1v-2h-6v3h-3v-1h-1v1h-1v-3h-1v3h-1v-3h-2v6h-2v-6h-11v1h-1v-1h-3v-1h-1v1h-4v1h-5v-1h-2v1h-2v2h-1v1h-1v-3h-2v2h-2v1h-1v-4h-1v1h-11v-1h-1v2h-1v-1h-1v2h-2v-2h-3v-1h-1v1h-1v-1h-3v-1h-2v1h-1v1h-1v-1h-8v-1h-4v1h-2v-1h-2v1h-1v-1h-2v1h-1v-1h-3v1h-2v-1h-4v1h-6v-1h-1v1h-5v1h-1v-1h-3v1h-2v-1h-2v1h-2v3h-1v-3h-4v-1h-1v1h-2v-1h-1v1h-6v-1h-2v2h-1v-1h-3v-1h-4v1h-1v-1h-9v-1h-3v1h-1v2h-1v-2h-1v-1h-1v1h-4v-1h-1v1h-1z"/>
<path fill="#008000" d="M138 830h4v-1h1v-1h1v2h3v-1h2v1h5v-2h1v2h5v1h1v-1h1v1h1v-1h11v1h2v-1h2v1h1v-1h3v1h1v-1h7v1h2v-3h2v2h1v1h1v-1h2v1h3v-1h1v-1h1v1h1v-1h3v1h6v-1h1v1h2v1h1v-1h2v1h1v-1h2v1h1v-1h1v-1h1v1h1v1h1v-1h3v1h1v-1h1v1h3v-1h3v1h1v-1h1v1h6v-1h1v1h3v-6h1v1h1v5h2v1h3v-2h1v-1h1v3h1v-1h1v1h1v-1h1v1h3v-1h2v-1h1v2h1v-1h2v1h1v-1h4v-1h2v1h1v-1h1v1h1v-1h2v1h1v-1h5v-1h1v1h4v-1h4v-1h4v-2h1v1h2v1h2v1h1v1h2v1h1v-1h4v1h1v-1h4v1h4v-1h2v1h1v-1h1v1h16v-1h2v1h4v-1h3v1h1v-1h1v1h1v-1h1v1h3v-1h3v1h1v-1h3v-1h3v2h4v-1h1v-2h1v1h1v1h3v1h4v-3h1v2h1v1h2v-1h2v1h6v-1h1v1h3v-2h2v2h1v-1h1v1h1v1h1v-1h3v1h1v-1h2v1h1v-3h1v1h2v1h5v1h2v-1h4v1h1v-1h5v-1h1v1h1v-3h2v3h1v-1h2v1h1v-1h1v1h1v-1h2v1h1v-1h1v1h2v-1h1v1h2v-1h1v1h1v-1h2v-3h1v1h2v2h2v-3h3v4h1v-1h3v1h3v-1h2v-1h1v1h7v1h4v-1h1v-3h2v4h6v-2h1v-1h1v3h2v-1h1v1h1v-1h1v1h6v-1h1v1h4v-10h1v1h1v9h1v-2h1v2h1v-1h1v1h1v-1h1v1h1v1h1v-1h7v-2h1v2h1v1h2v-1h4v-1h1v1h7v1h1v-4h3v3h2v1h1v-1h1v-1h2v1h1v-1h1v1h1v-1h1v1h2v-4h2v-1h1v3h1v1h1v1h1v-1h8v1h2v-1h1v1h1v-1h4v-1h1v1h2v1h1v-1h1v1h1v-1h6v1h3v-1h2v1h1v-1h1v1h3v-1h13v-2h1v2h1v1h2v-1h5v1h1v-1h3v1h2v-1h1v1h1v-1h5v-1h2v2h9v-1h1v1h5v1h1v-1h6v-3h2v3h1v-1h3v1h2v-1h2v1h2v-1h2v1h1v-1h2v1h3v-3h1v-1h1v2h1v2h1v-1h3v1h1v-1h11v1h1v-1h8v1h1v-2h1v-1h1v1h1v1h2v-3h2v-1h1v4h1v-2h1v1h1v1h1v-1h1v1h1v1h2v-1h2v-1h1v1h6v-1h4v-2h2v2h1v1h12v1h1v-1h2v-7h1v5h1v-1h1v3h5v-1h2v1h2v-1h2v1h1v-1h1v-1h1v2h1v-1h1v2h1v-1h2v-1h1v2h1v-1h3v-1h4v1h2v-2h1v1h1v1h2v-1h2v2h1v-2h2v1h7v-1h1v1h1v-1h1v1h2v-2h1v-1h1v1h1v3h1v-1h1v-1h2v1h5v-1h1v1h1v-1h1v1h1v-1h3v1h2v-1h2v1h1v-2h1v2h1v-1h2v1h2v-1h2v1h1v1h1v-1h1v-4h3v4h3v-1h1v1h1v-1h2v1h5v-1h1v1h2v-1h1v1h8v1h1v-1h4v1h1v-3h2v-1h1v4h2v-1h2v1h1v-1h8v1h1v-1h1v-2h3v2h2v1h1v-3h2v2h5v1h2v-1h18v1h1v-1h4v1h5v-1h4v1h4v-1h1v1h1v-1h3v-2h1v1h1v1h1v1h2v-1h1v-2h3v2h3v-2h3v2h1v1h1v-1h1v1h1v-1h2v1h10v-1h4v1h1v-1h13v1h1v-1h5v20h-2v-2h-1v-1h-1v1h-2v1h-1v-1h-2v1h-1v-1h-4v3h-3v-3h-2v1h-1v-1h-1v-1h-1v1h-4v-1h-1v1h-1v-1h-1v1h-4v1h-2v-1h-1v3h-1v1h-1v-5h-1v1h-1v-1h-1v1h-3v-1h-2v1h-9v-1h-3v1h-1v-1h-1v1h-1v-1h-1v1h-3v1h-2v-1h-4v2h-2v-2h-1v-1h-1v1h-5v1h-1v1h-1v-2h-2v2h-1v-2h-8v-1h-1v1h-5v1h-1v-1h-3v-1h-2v1h-9v1h-2v-1h-2v-1h-2v1h-5v1h-1v2h-1v-1h-1v-2h-2v1h-1v-1h-7v3h-1v1h-1v-1h-1v-3h-4v1h-1v-1h-4v1h-1v-1h-1v1h-5v-1h-4v1h-2v-1h-1v1h-1v-1h-4v1h-9v-1h-1v1h-1v-1h-3v2h-3v-1h-1v1h-2v1h-2v-3h-2v4h-3v-3h-5v-1h-2v1h-1v-1h-1v1h-4v-1h-2v1h-4v-1h-1v1h-3v-1h-1v3h-2v-2h-1v-1h-4v1h-3v-1h-1v1h-1v-1h-1v-1h-1v2h-2v-1h-1v1h-2v-1h-1v1h-4v-1h-6v4h-1v-4h-1v1h-5v-1h-3v4h-1v-1h-1v-2h-1v-1h-4v1h-1v-1h-3v1h-2v-1h-3v1h-1v-1h-1v1h-1v1h-2v-3h-1v1h-2v2h-2v-2h-3v1h-1v-1h-1v2h-2v-2h-1v-1h-1v1h-2v1h-1v-1h-1v3h-2v-4h-1v1h-1v2h-2v1h-3v-3h-4v-1h-2v1h-2v1h-1v-1h-4v1h-1v-1h-2v-1h-1v1h-1v-1h-1v1h-5v-1h-4v1h-1v-1h-3v1h-1v1h-1v-1h-3v-1h-1v1h-2v-1h-5v1h-4v-1h-2v1h-2v-1h-3v1h-1v-1h-1v1h-23v1h-2v-1h-1v1h-1v-1h-3v-1h-2v1h-1v1h-1v-1h-1v-1h-1v1h-1v1h-1v-1h-9v1h-1v-1h-3v1h-3v-1h-2v1h-1v-1h-2v1h-1v-1h-4v1h-1v-1h-2v1h-3v-1h-3v1h-1v-1h-2v1h-1v-1h-2v1h-1v-1h-7v-1h-4v-1h-1v1h-1v1h-3v-1h-3v-1h-1v1h-7v-1h-1v1h-5v-1h-1v1h-9v1h-2v-2h-1v1h-1v1h-1v-1h-3v7h-1v1h-1v-8h-5v1h-1v-1h-1v1h-1v-1h-1v1h-2v-1h-1v1h-1v-1h-2v1h-1v2h-1v-2h-2v-1h-3v1h-1v-1h-1v1h-1v-1h-1v1h-1v-1h-1v1h-1v-1h-3v1h-10v1h-4v-1h-1v1h-1v-2h-1v1h-3v3h-2v-3h-18v-1h-1v1h-1v-1h-2v1h-1v-1h-2v1h-1v-1h-3v1h-1v1h-1v-1h-2v-1h-3v1h-4v-1h-4v-1h-1v1h-1v-1h-1v1h-5v1h-2v-1h-4v1h-1v-1h-1v1h-2v-1h-1v1h-1v-1h-2v1h-1v-1h-1v1h-1v-1h-3v1h-2v-1h-1v1h-1v3h-1v-4h-1v1h-7v-1h-2v1h-4v-1h-3v1h-2v-1h-4v1h-2v-1h-1v1h-1v-1h-1v1h-1v-1h-2v-1h-1v1h-3v3h-3v-1h-2v-2h-4v-1h-2v1h-9v-1h-2v1h-1v1h-3v-1h-1v1h-9v1h-1v1h-1v1h-1v1h-3v-1h-1v1h-1v1h-1v-1h-2v-2h-2v-1h-1v-1h-1v1h-1v-1h-3v1h-1v3h-3v-4h-5v1h-1v-1h-4v3h-3v-3h-1v-1h-3v-1h-1v3h-1v-2h-2v1h-1v-1h-1v2h-3v-2h-1v-1h-1v1h-4v-1h-1v1h-3v4h-1v1h-1v-5h-5v1h-4v-1h-1v1h-2v-1h-3v1h-2v1h-1v-1h-1v1h-1v1h-1v-1h-2v-1h-2v1h-2v-1h-5v1h-5v-1h-3v1h-4v-1h-2v-1h-1v1h-4v2h-1v-1h-1v-1h-4v-1h-1v1h-2v-1h-1v1h-1v-1h-1v1h-6v-1h-2v1h-4v-1h-1v1h-9v-1h-1v1h-3v3h-1v-2h-1v-1h-8v1h-1v-1h-1v1h-1v-1h-2v2h-1v-2h-1v1h-3v-1h-3z"/>
<path fill="#000000" d="M138 893h3v1h1v-1h1v-2h2v3h1v-1h1v1h1v-1h3v1h1v-1h1v1h4v-1h1v1h1v-1h3v1h1v-1h4v1h1v-1h2v1h1v-1h2v1h1v-1h1v-1h3v1h5v1h2v-1h1v1h1v-1h1v1h1v-4h2v4h9v-1h1v1h1v1h2v-4h1v3h1v1h1v-1h1v1h1v-4h2v3h3v1h2v-1h1v1h1v-1h1v1h1v-1h1v-1h1v1h3v-1h1v1h2v1h2v-2h1v-1h1v-1h1v1h1v2h4v1h2v-1h2v1h2v-1h4v1h1v-1h1v1h2v-1h2v1h3v-1h16v-1h1v-1h2v2h1v1h1v-1h2v-2h2v1h1v2h5v-1h1v1h6v-1h1v1h1v-1h1v1h3v-1h2v1h2v-1h3v1h2v-1h2v1h1v-1h8v-1h1v1h1v-1h4v1h5v-1h6v-3h1v1h2v2h7v1h1v-1h1v-2h1v1h2v2h3v1h1v-1h3v-1h1v1h3v-3h2v3h2v1h1v-1h15v1h1v-1h1v1h2v-4h2v4h1v-1h2v1h2v-1h3v1h3v-1h4v1h1v-1h1v1h2v-1h1v1h2v-1h2v1h1v-1h5v-1h2v1h1v-3h2v3h2v-1h1v-1h1v2h4v-1h4v-2h1v-1h1v4h3v-1h1v1h2v-1h2v1h2v-1h3v1h2v-1h1v-2h1v3h1v-1h4v-1h1v1h3v-3h2v3h3v1h2v-1h3v1h8v1h1v-2h1v1h3v1h1v-1h4v1h3v-1h2v1h1v-1h4v1h1v-1h1v1h2v-2h2v1h3v1h1v-1h2v-1h3v1h8v1h1v-1h6v-3h2v3h2v-1h1v1h3v1h1v-1h4v1h1v-1h1v-1h1v1h2v1h1v-1h1v-3h2v3h2v-1h4v1h1v-1h3v1h6v-1h8v1h1v-1h4v1h1v-1h3v-3h1v1h1v3h2v-1h1v1h1v-1h1v1h1v-1h9v-1h1v1h5v-1h1v1h2v-1h1v1h3v-1h1v-2h1v3h4v-1h1v1h8v1h1v-1h19v1h1v-1h1v1h1v-1h1v1h1v-2h2v-1h1v-1h1v3h3v-2h2v2h1v-4h1v1h1v3h6v1h2v-1h1v1h5v-4h1v1h1v-1h1v4h1v1h1v-1h5v1h1v-1h19v1h1v-1h3v-1h3v1h14v-1h2v1h8v-3h2v-1h1v4h6v1h1v-1h1v1h1v-1h2v1h2v-1h7v1h9v-1h3v1h1v-1h5v1h1v-1h2v1h1v-1h3v1h2v-1h3v-3h2v4h1v-1h1v1h1v-1h1v1h1v-1h7v1h1v-1h2v-3h3v4h2v-1h2v1h3v-1h3v-2h3v3h1v-4h1v3h1v1h3v-1h2v1h3v-1h3v1h2v-1h2v-2h3v2h3v1h1v-1h1v1h4v-1h9v-4h1v4h4v1h1v-1h1v1h1v-1h4v-1h2v2h1v-1h2v-2h3v1h1v2h1v-1h4v1h1v-1h21v-1h1v1h2v-1h3v-3h2v3h6v1h1v-1h1v1h1v-3h2v-1h1v3h4v1h3v-1h4v-1h1v1h1v-1h2v1h3v1h5v1h1v-1h4v-2h1v-1h1v4h3v-1h1v1h2v-1h3v1h1v-1h2v1h1v-4h2v3h5v1h2v-1h12v-1h10v18h-2v1h-1v-1h-1v1h-2v-1h-5v-1h-1v1h-5v-1h-4v1h-1v3h-1v-1h-1v-3h-1v-1h-1v1h-4v1h-1v-1h-3v-1h-2v1h-7v-1h-1v2h-2v-1h-4v1h-11v-1h-1v1h-1v1h-1v-1h-1v1h-1v-1h-2v2h-2v-1h-1v-1h-2v-1h-1v2h-1v-1h-1v1h-1v-1h-5v1h-1v-1h-1v1h-1v-1h-1v1h-1v-1h-6v1h-2v-1h-8v-1h-5v1h-2v-1h-1v1h-1v-1h-1v1h-2v-1h-8v1h-2v-1h-8v1h-1v-1h-5v1h-1v-1h-7v-1h-1v1h-1v-1h-1v1h-1v1h-1v-1h-5v3h-1v-1h-1v-1h-2v-1h-2v-1h-1v1h-1v1h-1v-1h-5v3h-2v-3h-8v1h-1v-1h-3v-1h-1v1h-2v-1h-1v1h-1v-1h-1v4h-1v-3h-3v-1h-1v1h-1v-1h-1v1h-2v-1h-1v1h-2v-1h-2v1h-15v-1h-1v1h-3v2h-1v1h-1v-1h-1v-2h-9v-1h-4v1h-3v-1h-1v1h-3v2h-1v-1h-1v1h-1v-2h-3v1h-2v-1h-5v1h-1v-1h-5v1h-4v-1h-2v1h-4v-1h-1v1h-2v-1h-2v1h-3v-1h-1v1h-1v-1h-1v1h-2v-1h-1v1h-2v-1h-1v1h-1v-1h-1v1h-1v-1h-1v1h-1v-1h-1v1h-1v-1h-1v2h-2v-2h-4v1h-3v-1h-6v1h-4v-1h-2v1h-1v-1h-2v1h-2v-1h-1v1h-1v-1h-1v1h-1v-1h-2v1h-4v-1h-2v1h-2v1h-2v-1h-4v1h-3v-1h-1v1h-2v-1h-1v1h-1v-1h-2v-1h-1v1h-1v1h-2v-1h-13v4h-1v-3h-2v-1h-1v1h-1v-1h-1v3h-1v1h-1v-3h-1v-1h-1v1h-1v-1h-1v1h-2v-1h-2v1h-1v-1h-1v1h-1v-1h-5v1h-3v-1h-3v1h-3v-1h-7v4h-3v-4h-1v1h-2v1h-1v-2h-6v1h-1v-1h-3v1h-2v-1h-4v1h-2v-1h-1v1h-1v-1h-7v1h-1v-1h-6v-1h-3v1h-5v-1h-2v1h-1v-1h-1v-1h-1v1h-1v1h-2v1h-1v-2h-5v1h-2v3h-1v-3h-1v-1h-1v1h-3v-1h-1v1h-2v-1h-3v1h-1v-1h-9v1h-3v-1h-9v-1h-1v1h-7v1h-1v-1h-1v-1h-1v2h-1v-1h-1v1h-3v-1h-3v1h-2v-1h-2v1h-1v1h-1v1h-1v-1h-1v1h-1v-1h-1v-1h-1v-1h-1v2h-1v-1h-1v1h-2v-1h-2v1h-2v-1h-2v1h-4v-1h-7v4h-2v-4h-2v1h-1v-1h-2v-1h-1v3h-1v1h-1v-3h-3v-1h-1v1h-1v-1h-2v1h-4v-1h-1v1h-2v-2h-1v1h-3v1h-1v1h-2v1h-1v-2h-1v-1h-5v-1h-1v1h-3v-1h-1v1h-2v1h-2v-1h-1v3h-1v1h-1v-3h-1v-1h-1v1h-1v-1h-2v1h-1v2h-2v-3h-2v1h-1v-1h-6v1h-1v-1h-1v1h-1v-1h-1v1h-1v-1h-1v1h-1v-1h-1v2h-1v1h-1v-3h-1v1h-1v-1h-4v1h-4v-1h-1v1h-10v1h-2v-1h-1v1h-1v-1h-1v1h-1v-1h-2v1h-3v1h-1v-3h-1v1h-1v1h-1v-1h-11v-1h-1v3h-2v-3h-1v1h-1v-1h-1v1h-1v-1h-3v2h-1v-2h-1v-1h-1v1h-5v-1h-1v1h-8v3h-3v1h-1v-1h-1v-3h-4v1h-1v-1h-5v2h-1v1h-2v-3h-4v1h-1v-1h-6v1h-2v-1h-2v4h-1v-4h-9v1h-1v1h-2v-2h-3v1h-1v-1h-15v1h-1v-1h-4v2h-2v-2h-7v3h-2v-1h-1v-2h-3v-1h-1v1h-1v-1h-1v1h-5v3h-2v-3h-3v1h-3v-1h-2v1h-3v2h-1v-1h-2v-1h-3v-1h-1v1h-3v-1h-2v1h-3v1h-1v-2h-2v1h-1v1h-1v-1h-3v-1h-1v1h-7v3h-1v-3h-1v1h-2v-1h-7v2h-2v-2h-2v-1h-1v1h-4v1h-1z"/>
<path fill="#ff0000" d="M138 958h4v-1h2v1h2v-1h6v-1h1v1h1v1h1v-1h6v-1h1v1h1v1h2v-1h4v1h2v-1h2v1h3v-1h1v1h3v-1h4v1h2v-1h3v1h1v-1h2v1h1v-1h3v-1h1v2h5v-1h5v-1h2v1h2v1h1v-1h5v1h1v-1h3v-2h1v2h2v1h1v-1h1v1h1v-1h1v1h1v-1h1v-2h1v1h2v1h4v1h1v-1h2v1h1v-2h2v2h3v1h1v-1h2v-1h1v1h1v-1h1v1h1v-1h1v-3h1v4h9v1h1v-1h7v-1h1v1h3v-1h1v1h1v-1h4v1h1v-1h1v-3h2v3h4v1h1v-1h1v-1h2v-2h3v3h3v-1h1v1h3v-1h1v1h3v-3h1v2h1v1h6v-3h2v2h1v1h4v-1h1v1h7v-1h3v1h4v-1h1v1h8v-1h3v1h3v-1h1v1h10v1h1v-1h1v-3h2v3h7v1h1v-3h2v2h2v1h1v-1h4v-1h3v1h2v-1h2v2h1v-1h2v-1h1v1h2v-2h1v2h6v-4h1v1h1v3h2v1h1v-1h1v-3h1v4h2v-1h4v1h1v-1h13v-2h3v2h12v1h1v-1h2v-2h1v2h4v1h1v-1h1v1h3v-1h2v1h2v-1h2v-1h1v1h2v1h4v-1h1v1h2v-1h4v1h4v-3h2v3h3v-1h2v1h5v-1h2v1h2v-1h1v1h1v1h1v-1h5v-1h4v1h2v-1h2v1h2v-1h3v1h1v-1h1v1h1v-1h1v1h1v-1h4v1h2v-1h1v-2h3v2h3v1h1v-1h9v-2h1v-5h1v-1h1v2h1v1h1v3h1v-14h1v-14h1v18h1v1h1v-12h1v-9h1v24h1v8h4v1h1v-1h1v1h2v-1h2v1h1v-1h3v1h1v-1h1v1h1v-1h5v-1h1v1h3v-1h1v-1h2v2h2v-1h2v1h1v-1h2v1h14v-2h1v2h3v-1h2v1h6v-1h1v1h7v1h1v-1h3v1h1v-1h4v-3h2v3h2v1h1v-2h1v-1h1v1h1v2h2v-1h1v1h2v-1h1v1h2v-1h3v1h2v-1h1v1h1v-1h1v1h2v-1h21v1h1v-1h5v1h1v-1h1v-1h2v-1h2v2h4v-1h2v1h2v-1h1v1h6v-4h1v1h1v3h1v-1h1v1h3v-3h2v4h1v-1h1v-1h6v1h4v-2h3v1h1v1h1v-1h1v1h3v-1h2v1h2v-1h4v1h5v-1h1v1h2v-3h2v3h2v-1h1v1h2v-1h1v1h2v-1h1v1h3v-1h3v1h1v-1h3v1h1v-2h2v2h1v-1h1v1h2v1h1v-1h1v-2h1v2h2v1h1v-1h6v1h1v-1h1v1h2v-1h3v1h2v-1h1v1h1v-1h1v1h2v-1h2v1h6v-1h1v1h1v-1h1v1h2v-1h1v1h5v-1h2v1h2v-1h8v1h1v-1h1v1h1v-1h3v-1h2v1h4v-1h1v1h4v1h1v-1h2v1h1v-1h4v1h1v-1h4v-1h2v1h1v-1h1v1h2v-2h1v2h1v-1h2v1h2v-1h2v1h1v-1h3v1h4v-4h1v1h2v3h4v-1h1v1h1v-1h4v1h1v1h1v-2h1v1h2v-1h2v1h6v-1h1v1h5v-1h1v1h2v-1h2v1h2v-1h1v1h2v-2h1v1h1v1h1v-1h2v1h1v1h1v-1h6v1h4v-1h5v1h1v-1h1v1h2v-1h1v1h7v-1h2v1h1v1h1v-1h6v1h1v-1h6v-1h1v1h6v-1h1v1h3v-1h1v1h9v15h-5v-1h-1v1h-2v2h-3v-2h-1v-1h-2v1h-6v-1h-1v1h-1v-1h-2v1h-6v-1h-1v1h-2v-1h-1v1h-2v-1h-1v1h-1v-1h-4v1h-3v1h-1v-1h-1v-1h-1v1h-5v1h-2v-1h-2v4h-3v-3h-1v-1h-1v1h-6v1h-2v-1h-7v-1h-1v1h-7v-1h-1v1h-2v2h-2v-2h-4v4h-2v-4h-6v3h-1v-3h-4v1h-3v-1h-1v-1h-1v1h-3v-1h-1v4h-1v-3h-2v-1h-1v1h-3v1h-1v-1h-1v-1h-1v1h-11v-1h-1v1h-4v2h-1v1h-1v-3h-1v-1h-1v1h-2v3h-3v-4h-2v1h-1v-1h-1v1h-3v-1h-2v1h-2v1h-2v-2h-5v1h-3v1h-1v-1h-1v-1h-8v2h-1v1h-1v-3h-11v-1h-1v1h-1v-1h-2v1h-6v-1h-3v1h-1v1h-2v-1h-6v4h-1v-3h-10v2h-2v-2h-1v3h-1v-3h-1v2h-2v-1h-1v-1h-1v-1h-1v1h-4v-1h-1v1h-2v-1h-1v1h-3v1h-1v-1h-7v-1h-2v1h-1v-1h-1v1h-4v1h-2v-1h-1v-1h-1v1h-3v-1h-1v1h-2v-1h-1v1h-1v-1h-1v1h-7v-1h-1v1h-5v1h-1v-1h-1v-1h-2v1h-10v-1h-3v1h-8v1h-2v-1h-2v-1h-4v1h-1v-1h-6v1h-2v-1h-1v1h-1v-1h-2v-1h-1v1h-5v1h-1v1h-2v-2h-5v3h-1v1h-1v-4h-13v2h-3v-2h-1v1h-1v-1h-6v1h-1v-1h-1v1h-2v-1h-1v1h-2v-1h-3v1h-1v1h-2v-1h-8v-1h-1v1h-2v-1h-1v1h-1v3h-2v-3h-3v-1h-1v1h-3v1h-3v-1h-2v3h-3v-4h-1v3h-2v-2h-1v-1h-1v1h-3v2h-1v-1h-2v-1h-9v-1h-2v1h-4v-1h-4v8h-1v24h-1v-3h-1v-14h-1v-2h-1v8h-1v-10h-1v-9h-1v4h-1v2h-2v-2h-1v-3h-1v-3h-1v1h-2v-1h-2v1h-2v-1h-2v1h-2v-1h-5v1h-4v1h-1v-1h-1v-1h-7v1h-1v2h-2v-1h-1v-2h-2v-1h-2v1h-3v-1h-1v1h-9v-1h-1v1h-2v-1h-3v1h-10v-1h-1v1h-1v-1h-1v1h-3v1h-1v-1h-3v1h-1v-1h-2v1h-1v-1h-3v1h-1v-1h-1v1h-1v-1h-1v1h-1v-1h-2v1h-4v3h-1v-1h-1v1h-1v-3h-1v-1h-1v1h-1v-2h-1v1h-2v1h-5v2h-2v-3h-4v1h-2v-1h-2v1h-4v-1h-2v2h-2v4h-1v-6h-6v1h-1v-1h-7v1h-1v-1h-5v2h-2v-2h-6v1h-2v-1h-7v3h-3v-3h-1v1h-1v2h-2v-3h-2v1h-2v-1h-4v1h-2v-1h-2v1h-1v-1h-1v1h-1v-1h-2v1h-2v-1h-1v1h-2v-1h-2v1h-2v-1h-2v1h-1v1h-1v1h-2v-2h-1v-1h-1v1h-3v-1h-1v1h-1v-1h-2v3h-1v-2h-1v-1h-2v2h-1v-1h-10v4h-1v-5h-2v1h-8v-1h-1v1h-7v-1h-1v1h-2v-1h-1v1h-1v-1h-1v1h-2v-1h-7v1h-1v-1h-5v1h-1v-2h-1v1h-1v1h-1v-1h-6v-1h-1v1h-12v-1h-1v1h-3v2h-3v-2h-1v1h-1v-1h-5v-1h-2v1h-2v3h-2v-3h-2v2h-1v-1h-1v-1h-2v1h-2v-1h-2v1h-7v-1h-3v1h-5v-1h-1v1h-7v-1h-1v1h-3v1h-1v-2h-15v1h-1v3h-3v-3h-2v-1h-1v3h-3v-3h-3v-1h-1v1h-1v3h-1v-1h-1v1h-1v-3h-1v-1h-1v1h-3v1h-1v-1h-9v1h-1v-1h-1v1h-2v-1h-2v1h-1v-1h-7v-1h-1z"/>
<path fill="#0000ff" d="M138 1020h2v1h2v-1h2v1h1v-2h3v1h1v1h2v-1h1v1h1v-1h5v1h1v-1h5v-1h2v1h1v-1h4v1h1v-1h6v1h1v-1h2v1h1v-1h2v-2h1v-1h1v3h1v1h2v-1h5v1h2v-1h5v1h1v-5h1v1h1v3h10v1h3v-1h8v1h2v-1h5v-1h1v-1h4v2h8v1h1v-1h2v1h1v-1h3v-3h1v3h9v1h1v-1h1v1h1v-1h6v1h1v-2h1v1h1v1h1v-1h1v1h2v-1h1v1h1v-1h8v1h1v-3h3v2h1v1h2v-1h1v1h2v-1h2v1h1v-1h6v1h2v-1h1v1h1v-1h2v1h1v-2h2v1h2v1h1v-1h1v1h2v-1h8v1h2v-1h6v-1h2v1h1v1h1v-1h2v1h1v-1h1v1h1v-1h5v1h9v1h1v-1h9v1h1v-1h1v1h1v-3h1v-9h1v-41h1v3h1v-1h1v23h1v-62h1v-23h1v-6h1v9h1v-10h1v31h2v-4h1v-35h1v1h1v73h1v20h1v11h1v-7h1v-5h1v3h1v-3h1v1h1v19h1v2h1v1h1v1h2v1h1v1h2v-1h1v-2h1v-1h2v2h1v2h1v2h1v2h1v1h1v3h3v-1h1v-1h1v1h2v1h3v1h1v-4h1v3h1v-1h1v1h5v-1h1v1h2v1h1v-1h1v1h1v-1h5v-1h1v1h2v1h1v-1h2v-1h1v1h1v1h1v-1h2v1h1v-1h5v1h1v-1h3v-4h1v1h1v1h1v2h1v-1h1v1h4v-1h2v1h3v-1h1v-3h1v1h1v2h10v-3h1v1h1v2h2v1h1v-1h6v1h3v-3h3v-1h1v1h1v2h8v1h1v-1h1v1h2v-4h1v3h1v1h3v-1h2v1h13v-1h1v1h5v1h1v-1h8v1h1v-1h1v1h2v-1h3v-2h3v2h1v1h2v-1h2v1h1v-1h1v1h6v-1h1v1h6v-1h15v1h1v-1h2v-1h2v1h1v-1h2v1h2v-1h1v1h3v-1h1v1h2v-3h1v-1h1v2h3v3h1v-4h1v3h2v-1h1v1h2v-1h2v-2h2v3h1v-1h2v1h1v-1h2v1h3v-1h3v-2h1v2h3v1h2v-1h1v1h1v-3h2v2h2v1h4v-1h3v-1h1v1h8v-1h1v-2h1v-2h1v-1h1v-1h1v-1h1v-1h1v-3h1v-3h1v-2h1v-1h1v-3h1v2h1v7h1v6h3v5h1v1h1v1h1v-1h3v1h2v-1h1v1h1v-1h1v1h1v-1h1v-1h3v1h2v1h1v-1h3v1h1v-1h3v1h3v1h1v-1h2v-1h1v1h2v-1h2v1h2v1h1v-1h8v-2h3v2h1v-1h1v1h2v-3h1v-1h1v4h1v-1h1v-1h1v2h4v-1h1v1h1v-1h2v1h1v-1h3v1h4v-1h6v1h2v-2h1v1h2v1h2v-1h3v1h2v-4h3v3h4v-3h2v4h4v-1h5v1h1v-1h4v1h1v-1h1v1h1v-1h4v-3h2v3h3v-1h1v2h1v-1h1v1h1v-1h2v-2h2v2h1v1h3v-1h3v1h8v-1h1v1h15v1h3v-1h7v1h1v-1h6v1h1v-1h4v1h1v-1h2v-1h1v-3h2v-1h3v1h1v-2h1v2h1v-2h1v-1h2v-3h1v-2h1v1h1v-1h1v2h3v1h1v-1h1v2h1v2h1v3h2v-1h1v-1h1v-2h1v-4h1v2h1v1h1v2h1v-1h2v1h2v1h3v1h1v1h1v2h1v-1h1v3h1v-1h5v1h2v-1h1v1h3v-1h8v1h1v-1h4v-1h1v1h4v1h1v-1h2v-1h1v1h1v-1h2v1h1v-1h1v1h1v-1h2v1h2v-1h1v1h1v-1h1v-1h2v2h1v-1h1v1h2v-1h4v-7h1v-1h1v8h1v1h4v-1h3v1h3v-1h1v1h1v-1h1v1h4v1h1v-1h4v17h-7v-1h-3v1h-1v-1h-1v1h-5v1h-1v-1h-2v2h-2v-3h-1v2h-1v1h-1v-1h-1v2h-1v1h-2v-4h-2v1h-1v-1h-1v1h-3v-1h-1v-1h-1v1h-3v-1h-1v1h-3v1h-1v-1h-1v-1h-1v1h-2v-1h-1v1h-1v-1h-1v1h-5v-1h-1v1h-2v1h-1v-1h-1v1h-1v-1h-1v-1h-2v1h-2v-1h-1v1h-1v1h-3v-1h-3v-1h-1v1h-3v-1h-1v3h-1v1h-1v-1h-1v2h-1v-1h-1v3h-1v-1h-1v2h-2v-1h-1v1h-1v2h-1v-1h-1v3h-1v-2h-1v-1h-1v-2h-1v-2h-2v-1h-1v2h-1v3h-1v1h-1v1h-1v4h-1v-1h-1v-4h-2v3h-1v-2h-1v-3h-1v1h-1v-3h-1v1h-2v-1h-3v-1h-1v-1h-2v-1h-1v1h-2v-1h-1v-1h-1v1h-1v-3h-1v1h-1v-1h-2v1h-1v-1h-2v1h-1v-1h-2v1h-1v-1h-1v1h-2v-1h-1v1h-6v-1h-1v1h-4v-1h-1v2h-2v-1h-2v-1h-2v3h-1v-3h-1v1h-1v-1h-1v1h-1v3h-1v-3h-5v-1h-1v1h-8v1h-3v-1h-1v1h-1v-1h-3v1h-2v-1h-2v1h-1v-1h-6v1h-1v-1h-2v-1h-1v1h-1v1h-1v-1h-2v-1h-1v1h-3v1h-1v-1h-2v1h-3v-1h-1v1h-3v-1h-2v1h-3v-1h-1v1h-4v-1h-3v-1h-1v1h-1v2h-3v-2h-3v1h-2v-1h-10v1h-1v-1h-2v-1h-1v1h-5v1h-1v-1h-3v-1h-2v1h-3v-1h-3v1h-5v-1h-1v1h-5v1h-1v-1h-4v1h-1v-1h-3v1h-2v-1h-1v3h-1v-3h-1v1h-1v-1h-1v2h-1v1h-1v-2h-1v-1h-1v1h-3v1h-1v-1h-1v-1h-2v1h-2v-1h-1v3h-1v2h-1v2h-1v6h-1v7h-1v1h-1v-4h-1v4h-1v1h-1v-5h-1v-4h-1v-3h-1v1h-1v-3h-1v-7h-1v-1h-1v1h-3v-1h-2v1h-5v-1h-4v1h-5v-1h-3v1h-2v-1h-2v1h-4v-1h-1v1h-2v-1h-1v1h-2v-1h-3v1h-1v-1h-2v1h-1v-1h-1v1h-2v-1h-5v3h-2v-3h-8v1h-1v-1h-4v1h-1v-1h-4v-1h-1v1h-3v-1h-2v1h-5v2h-2v-3h-2v1h-3v2h-1v-3h-2v3h-1v-4h-1v1h-2v1h-2v-1h-4v1h-1v-1h-2v3h-2v-2h-1v-1h-1v-1h-2v1h-4v1h-2v-1h-1v1h-5v-1h-5v1h-5v-1h-3v1h-5v-1h-3v1h-5v-1h-1v1h-14v1h-7v1h-1v-1h-1v-1h-1v1h-2v3h-2v-4h-2v1h-5v-1h-1v2h-1v-1h-2v-1h-12v1h-1v-1h-5v3h-2v-3h-1v1h-2v-1h-9v-1h-1v1h-1v-1h-1v1h-5v1h-1v1h-2v-2h-1v-1h-1v1h-1v1h-1v-1h-4v-1h-2v1h-3v-1h-1v1h-1v1h-1v-1h-1v-1h-1v1h-1v1h-1v-2h-1v1h-1v-1h-1v1h-7v3h-1v1h-1v2h-1v1h-1v1h-1v2h-1v2h-1v2h-1v-2h-1v1h-2v-1h-1v-1h-2v2h-3v-1h-1v4h-1v10h-1v12h-2v-1h-1v1h-1v-10h-1v11h-1v56h-1v-6h-2v-12h-1v3h-1v54h-1v2h-1v-41h-1v-13h-1v-6h-1v-30h-1v-2h-1v-5h-1v-2h-1v-31h-1v-5h-1v-2h-2v1h-1v-1h-1v1h-1v-1h-2v1h-4v-1h-3v1h-7v-1h-1v4h-1v-1h-1v1h-1v-4h-1v1h-1v-1h-1v1h-1v-1h-1v1h-3v-1h-1v1h-1v3h-3v-2h-1v-1h-4v1h-1v-1h-5v1h-1v-1h-1v1h-1v-1h-1v-1h-1v1h-1v1h-1v-1h-1v1h-1v2h-2v-3h-2v1h-3v-1h-1v1h-1v-1h-1v1h-1v-1h-4v1h-1v-1h-1v1h-1v-1h-4v3h-1v1h-1v-3h-1v-1h-4v1h-2v-1h-1v1h-1v-1h-2v1h-3v1h-1v-1h-1v-1h-1v1h-1v-1h-2v1h-2v2h-2v-2h-4v-1h-2v1h-2v-1h-1v1h-2v-1h-2v1h-1v-1h-2v1h-3v-1h-5v1h-9v-1h-3v1h-1v-1h-1v1h-1v-1h-4v1h-2v-1h-4v1h-1v1h-2v-2h-1v4h-2v-3h-4v-1h-1v1h-5v-1h-2v1h-1v-1h-3v2h-1v-1h-1v-1h-3v1h-4v-1h-2v3h-2v-3h-1v1h-1v-1h-2v1h-3v1h-1v-1h-1v-1h-1v1h-1v-1h-3v-1h-2v1h-7v-1h-2v1h-4v-1h-1v2h-1v-1h-1v-1h-2v1h-2v-1h-4v3h-3v-3h-1v1h-1v-1h-1z"/>
<path fill="#008000" d="M138 1083h4v1h1v-2h1v-1h1v3h1v-1h4v-1h3v1h1v-1h5v1h1v-1h1v1h4v-1h1v1h1v-1h1v-1h1v2h2v-1h2v1h2v-1h11v1h1v-1h7v1h3v-1h2v1h2v-1h1v1h3v-3h2v3h14v1h1v-1h2v1h1v-1h7v-2h2v-1h1v3h11v1h2v-1h1v1h1v-2h1v2h6v-1h5v1h1v-1h1v1h2v-1h3v1h1v-1h2v-3h1v4h1v-1h1v1h1v-1h7v1h3v-1h1v1h1v-1h1v1h3v-1h2v1h1v-1h1v1h2v-1h1v1h1v-1h1v1h2v-2h2v-1h2v2h1v-2h1v3h1v-1h1v1h1v-1h2v1h1v-1h3v1h1v-1h3v-1h2v-1h1v2h1v-2h1v2h7v1h1v-3h1v-3h1v-1h1v-3h1v-2h1v-6h1v-5h1v1h1v-7h1v-2h1v-6h1v4h1v-4h2v1h1v7h1v-2h1v4h1v4h1v22h4v-1h1v1h3v-2h1v1h1v1h4v1h1v-1h1v1h1v-1h7v1h1v-1h4v1h3v-1h3v1h1v-1h1v-3h3v3h6v-3h2v-1h1v4h2v1h1v-1h1v1h1v-1h3v-2h1v2h9v-1h1v1h2v1h1v-1h3v1h1v-1h1v-2h1v-1h1v3h6v1h1v-1h1v-2h1v2h5v-1h1v2h1v-1h3v-1h1v1h11v-1h1v-2h1v-2h1v-2h1v1h1v-3h1v-7h1v-13h1v-1h1v13h1v-8h1v-8h1v13h1v7h1v3h2v1h1v1h1v2h1v2h3v1h1v1h1v1h6v1h1v-1h1v1h1v-1h1v1h2v-1h16v1h1v-1h1v1h1v-1h3v1h1v-1h2v1h1v-1h12v-1h1v2h1v-1h1v1h1v-1h1v1h1v-1h1v1h1v-1h3v1h1v-1h1v1h2v-1h1v1h3v-1h3v1h3v-1h2v1h4v1h1v-1h2v-1h2v1h3v-3h2v3h1v1h2v-1h19v1h1v-1h1v1h1v-1h2v1h1v-1h3v-1h1v-1h1v2h2v-1h1v1h4v-3h3v3h3v-2h3v2h2v1h1v-1h2v-1h2v1h9v-1h2v1h2v-1h6v1h2v-1h1v1h1v-1h2v1h3v-1h2v1h1v-1h2v1h2v-1h1v1h1v-1h1v1h3v-1h1v1h1v-1h2v1h6v1h1v-1h1v1h3v-1h10v-2h2v2h8v1h1v-1h3v-2h1v2h1v1h1v-1h4v-4h1v4h2v-1h1v-1h2v2h7v-1h1v1h1v1h1v-1h1v1h2v-4h1v3h1v-3h1v-7h1v-4h1v1h1v1h1v-4h1v-6h1v-2h1v1h1v1h1v3h2v-4h1v-1h1v10h1v-1h1v5h1v4h1v3h1v4h1v-1h4v1h1v-1h3v1h1v-1h3v1h1v-2h1v-1h1v-1h1v-1h2v-1h3v1h1v-2h5v-1h2v2h1v2h3v1h2v1h1v1h2v1h1v-1h1v1h2v-1h2v-2h2v2h2v1h1v-1h6v1h3v-1h3v1h1v-1h2v-2h1v2h10v-1h1v1h3v-1h1v1h1v-1h5v1h1v-1h1v-2h3v-1h2v3h2v1h2v-1h1v-3h2v4h1v-1h2v1h3v-3h1v2h6v1h2v-1h2v1h9v-1h2v2h1v-1h3v1h2v-3h2v3h1v-2h1v-1h1v2h1v1h1v-1h1v1h1v-1h2v-1h1v1h10v-1h2v1h5v-1h1v1h2v-1h2v1h5v-1h3v1h2v-1h1v1h6v-1h1v1h2v-1h2v1h2v-1h3v1h1v-1h1v1h2v-1h2v1h2v-1h2v1h1v-1h3v1h3v-1h10v-1h3v2h1v-1h3v-4h1v1h1v3h4v1h1v-1h1v1h1v-1h9v1h1v-1h2v19h-5v-1h-1v1h-3v1h-1v1h-1v-2h-2v-1h-2v1h-1v-1h-3v1h-1v-1h-1v1h-6v-1h-1v1h-1v-1h-1v1h-1v-1h-2v1h-1v-1h-1v1h-7v-1h-1v1h-1v-1h-3v4h-1v-1h-1v-2h-1v-1h-1v4h-1v-1h-1v1h-1v-4h-6v1h-2v-1h-1v1h-1v-1h-1v-1h-1v1h-9v-1h-1v1h-9v3h-1v-3h-1v-1h-1v1h-3v2h-2v-2h-3v-1h-2v1h-1v-1h-1v1h-3v-1h-1v1h-2v-1h-1v1h-7v-1h-1v1h-2v-1h-1v1h-6v-1h-3v1h-2v-1h-1v1h-1v1h-1v1h-1v-2h-3v1h-3v-1h-2v3h-1v-3h-5v1h-2v-1h-1v1h-1v-1h-1v1h-1v-1h-3v1h-1v2h-2v-2h-1v2h-2v-1h-1v-1h-1v-1h-1v1h-1v-1h-9v4h-1v-1h-1v-3h-8v-1h-6v1h-1v-1h-1v2h-2v-1h-3v-1h-1v1h-1v-1h-1v1h-5v1h-1v-1h-1v-1h-1v1h-3v-1h-2v3h-1v1h-1v2h-4v3h-1v-1h-1v1h-1v-2h-2v-3h-1v5h-1v-1h-2v-3h-2v-1h-1v2h-1v-1h-1v-2h-1v-2h-1v1h-1v-2h-4v1h-3v-1h-1v1h-2v-1h-1v1h-3v4h-1v3h-1v1h-1v6h-1v7h-1v5h-1v-3h-1v-3h-1v1h-1v2h-1v3h-1v2h-1v-10h-1v-4h-1v-1h-2v-3h-1v-5h-1v-2h-1v-2h-4v-1h-6v1h-1v-1h-2v1h-1v1h-2v-2h-4v3h-2v-3h-3v2h-1v1h-2v-3h-4v-1h-2v1h-3v2h-1v-2h-3v-1h-1v1h-2v1h-2v-1h-3v-1h-2v1h-3v2h-1v-2h-2v1h-1v-1h-7v-1h-1v1h-6v1h-3v-2h-1v1h-1v3h-1v-2h-1v-1h-4v1h-1v2h-1v-4h-1v1h-4v1h-1v-1h-5v1h-3v-1h-1v1h-1v-1h-2v1h-1v-1h-1v-1h-1v1h-2v3h-2v-3h-1v2h-2v-2h-1v-1h-1v4h-1v-1h-1v-3h-1v1h-2v1h-1v3h-2v-4h-6v1h-1v-1h-3v-1h-1v1h-6v1h-1v-1h-3v2h-1v1h-1v1h-1v-4h-5v-1h-2v1h-7v-1h-1v1h-1v4h-2v-4h-1v2h-1v-2h-4v1h-1v-1h-1v1h-1v-1h-4v1h-2v-1h-1v1h-2v-1h-1v1h-2v-1h-2v1h-8v-1h-1v1h-1v-1h-1v1h-1v-1h-1v1h-1v-1h-1v1h-1v-1h-1v3h-1v-1h-1v-1h-2v-1h-1v1h-6v-1h-1v1h-2v2h-1v1h-1v-1h-1v-3h-1v4h-2v-4h-1v1h-6v-1h-2v1h-6v-1h-5v3h-3v-2h-2v-1h-1v1h-1v-1h-3v2h-1v1h-1v2h-1v-2h-2v2h-1v1h-1v1h-1v4h-1v4h-1v2h-1v9h-1v10h-1v-5h-1v-10h-1v7h-1v-2h-1v-3h-1v-5h-1v-8h-1v-3h-1v-2h-1v-1h-1v-4h-4v1h-1v1h-1v-2h-5v1h-2v-1h-6v-1h-1v3h-1v1h-1v-3h-2v1h-1v-1h-5v-1h-1v1h-3v-1h-1v1h-1v-1h-2v1h-13v-1h-1v1h-3v-1h-2v1h-2v-1h-1v1h-1v-1h-2v1h-2v-1h-1v1h-2v-1h-1v1h-15v-1h-1v1h-1v2h-2v-3h-1v1h-6v2h-1v-2h-2v-1h-4v1h-1v-1h-1v1h-1v-1h-1v2h-2v2h-1v-1h-1v24h-1v9h-1v2h-1v-2h-1v1h-1v-5h-1v4h-1v1h-1v-1h-1v-3h-2v-12h-1v-1h-1v1h-1v-7h-2v-3h-1v-4h-1v-3h-1v-3h-13v1h-2v-1h-1v-1h-3v1h-3v-1h-1v1h-1v-1h-1v1h-1v-1h-1v1h-7v-1h-3v2h-4v-2h-3v1h-1v-1h-1v1h-3v1h-1v1h-2v-3h-1v1h-1v3h-1v-1h-2v-2h-2v-1h-1v1h-1v-1h-1v3h-1v1h-1v-4h-7v1h-2v-1h-1v1h-1v-1h-1v1h-7v-1h-1v1h-1v-1h-1v1h-6v-1h-1v1h-7v-1h-1v1h-3v-1h-1v1h-2v-1h-1v1h-2v-1h-1v1h-5v-1h-2v1h-1v1h-1v1h-1v-2h-3v-1h-1v1h-6v-1h-1v1h-3v1h-2v1h-3v-2h-1v1h-5v-1h-2v1h-2v2h-2v1h-2v-3h-9v-1h-3v1h-4v-1h-1v1h-3v-1h-3v1h-2v-1h-2v3h-2v-4h-1v1h-1v-1h-2v1h-10z"/>
<path fill="#000000" d="M138 1147h1v-1h1v-2h2v3h9v-1h1v1h5v-1h3v1h5v-1h2v1h3v1h1v-1h2v-1h1v1h1v-1h2v1h1v1h1v-1h2v-1h1v1h6v-1h2v1h4v-1h2v1h23v-1h2v1h22v-1h2v1h9v-1h1v1h1v-3h2v1h1v2h3v-1h1v1h1v1h1v-1h15v1h1v-1h1v1h1v-1h1v-1h2v-3h1v-1h3v1h1v-3h1v-1h1v-2h1v-3h1v1h1v-5h2v-1h1v-2h1v2h1v1h1v3h1v-7h2v1h1v-2h1v-1h1v-1h1v4h1v4h1v1h1v5h1v-1h1v4h1v-1h1v1h1v1h1v3h2v1h1v1h1v1h2v-1h1v1h6v-1h2v1h2v-3h1v3h4v-4h1v4h4v1h2v-1h7v-1h1v1h1v-2h1v-1h1v2h6v1h1v-1h1v-1h1v1h2v1h1v-5h1v1h1v3h1v-1h1v1h2v-1h2v1h2v-1h2v1h1v-1h1v1h1v-2h1v-1h1v2h2v1h9v1h1v-1h2v1h3v-1h1v1h3v-1h1v1h1v-1h2v1h10v-1h1v-2h2v2h1v2h1v-1h4v-1h1v-2h2v1h1v2h3v-1h3v1h3v-1h2v1h2v-1h4v-1h2v1h1v1h3v-1h6v1h2v-1h4v-3h2v3h3v1h2v-1h4v1h1v-1h3v1h1v-1h11v1h2v-1h1v-2h2v2h5v-1h1v1h2v1h1v-1h1v1h1v-1h4v1h2v-1h2v1h1v-1h2v1h1v-1h1v-1h1v2h1v-1h1v1h1v-1h1v-2h2v2h1v1h2v-1h2v1h3v-4h1v3h4v-3h2v3h1v1h2v-1h2v-1h2v2h1v1h1v-1h1v-1h2v1h2v-1h1v1h3v1h1v-3h2v2h2v1h1v-1h1v1h2v-1h4v-1h3v1h8v1h1v-1h3v1h1v-1h5v1h1v-1h1v1h1v-3h1v2h6v1h1v-1h3v-2h2v2h23v-4h1v3h1v1h5v-1h2v1h2v-1h1v1h1v-1h8v1h1v-1h4v1h1v-1h3v1h1v-1h1v-4h2v5h1v-5h1v1h1v-1h1v2h2v1h1v1h1v-1h1v-1h1v-5h1v-1h1v4h1v4h1v-1h1v1h3v1h7v-1h1v1h2v-1h5v1h2v-1h7v1h3v-4h2v3h2v1h1v-1h3v-2h3v2h7v-1h1v1h1v-1h1v1h1v1h1v-1h3v1h1v-1h8v-3h1v1h1v3h1v-2h1v1h7v1h2v-1h1v1h1v-1h1v-1h3v1h3v1h1v-1h4v1h1v-1h2v1h2v-1h2v-1h2v2h1v-1h1v1h1v-1h6v1h1v-1h1v-1h3v-1h1v-1h1v1h1v3h1v-1h4v1h2v-1h6v1h1v-1h2v1h1v-1h2v1h3v-1h4v1h2v-1h1v1h5v-1h1v1h2v-1h1v1h1v-1h1v-1h2v1h1v1h26v1h2v-1h6v-1h1v1h4v-1h1v1h3v1h1v-1h1v1h1v-1h4v-3h1v1h1v-1h1v3h8v-1h1v1h1v-1h4v1h3v-1h20v-3h2v3h11v1h1v-1h4v-3h1v1h2v2h1v1h2v-1h1v1h1v-1h1v1h1v-1h1v1h1v-2h2v2h1v-1h1v1h1v-1h3v1h1v-3h2v2h1v1h1v-2h2v-1h1v2h1v1h1v-1h1v1h1v-1h1v1h1v-1h2v1h2v-1h2v1h1v-1h4v-1h1v1h2v1h1v-1h1v1h1v-1h2v1h1v-1h1v16h-2v1h-1v-1h-1v1h-1v-1h-1v1h-2v-1h-2v1h-3v-1h-5v1h-1v-1h-1v1h-2v-1h-1v1h-3v-1h-2v1h-6v-1h-1v1h-2v1h-1v-1h-12v-1h-2v1h-2v3h-1v-1h-1v-2h-1v3h-1v-1h-1v-2h-6v3h-1v-2h-1v-1h-1v1h-1v-1h-1v2h-3v-2h-6v-1h-1v1h-2v1h-1v-1h-1v2h-1v-1h-1v-1h-4v-1h-1v1h-1v-1h-1v1h-2v3h-1v-4h-5v1h-2v-1h-2v-1h-1v1h-1v3h-2v-3h-6v-1h-1v1h-1v1h-1v-1h-6v1h-1v-1h-5v1h-1v-1h-6v-1h-1v1h-2v2h-1v-2h-6v1h-2v-1h-5v1h-1v-1h-2v1h-2v-1h-4v1h-1v-1h-4v1h-1v-1h-2v1h-1v-1h-6v1h-1v-1h-2v1h-1v1h-1v-1h-2v-1h-2v1h-1v-1h-1v1h-1v-1h-1v1h-2v-1h-1v1h-3v1h-1v-2h-2v1h-1v-1h-4v4h-2v-3h-2v-1h-1v1h-4v-1h-3v1h-1v-1h-4v1h-1v1h-2v-1h-3v-1h-1v1h-2v-1h-1v1h-1v-1h-1v2h-2v-2h-2v3h-2v-2h-12v3h-1v-3h-1v-1h-2v1h-17v1h-1v-1h-1v2h-2v1h-1v-3h-9v-1h-1v1h-2v-1h-1v1h-1v3h-1v-1h-1v-2h-1v-1h-1v1h-1v-1h-1v1h-1v-1h-4v1h-1v2h-1v-2h-4v-1h-1v1h-3v-1h-1v1h-5v-1h-1v1h-2v1h-1v-1h-1v1h-1v1h-1v-1h-1v4h-1v-1h-1v-2h-1v1h-1v-1h-1v-1h-1v2h-1v-2h-2v-1h-2v-1h-1v4h-2v-3h-2v-1h-2v1h-5v-1h-1v1h-1v-1h-1v1h-1v-1h-3v1h-3v-1h-1v1h-4v-1h-1v1h-2v3h-2v-4h-1v1h-2v-1h-1v1h-1v-1h-2v1h-1v-1h-11v3h-1v-1h-2v-2h-2v3h-1v-3h-2v-1h-1v1h-3v3h-2v-2h-1v1h-1v-2h-6v-1h-1v1h-2v-1h-2v1h-8v-1h-2v1h-3v1h-2v-1h-4v-1h-2v1h-4v1h-1v-1h-2v3h-3v-1h-2v-2h-1v-1h-1v1h-4v1h-1v-1h-2v1h-2v-1h-10v1h-1v-1h-1v2h-1v-2h-1v1h-1v-1h-2v1h-1v-1h-1v1h-1v-1h-1v1h-2v-1h-1v1h-2v-1h-1v1h-1v-1h-3v1h-5v-1h-1v1h-10v1h-1v-1h-5v1h-1v-1h-11v2h-1v-1h-1v1h-1v-2h-4v-1h-1v1h-3v2h-1v1h-1v-3h-1v1h-1v-1h-5v-1h-1v1h-1v-1h-2v1h-6v3h-1v-4h-1v1h-4v1h-1v-1h-1v-1h-1v1h-2v-1h-1v1h-1v-1h-1v1h-4v-1h-10v1h-3v-1h-3v1h-1v-1h-3v1h-1v-1h-1v1h-2v-1h-3v1h-4v-1h-3v1h-11v-1h-2v1h-4v1h-1v-1h-4v1h-2v-1h-2v1h-1v-1h-6v1h-1v-1h-1v1h-1v-1h-11v-1h-3v1h-1v-1h-1v1h-1v-1h-7v1h-1v1h-1v-2h-2v3h-1v-3h-9v1h-3v-2h-4v1h-2v2h-1v1h-1v1h-1v2h-1v1h-1v1h-1v3h-1v-2h-1v2h-1v-1h-1v5h-1v-2h-1v1h-1v6h-1v3h-2v-6h-1v4h-1v-3h-1v1h-1v-1h-1v2h-1v1h-2v-2h-1v-2h-1v-1h-1v-3h-1v-1h-1v-3h-1v-2h-1v-3h-1v1h-2v-1h-1v-3h-3v-2h-3v1h-1v3h-1v-3h-8v2h-2v-2h-3v1h-1v1h-3v-2h-1v1h-1v-1h-3v-1h-1v1h-3v4h-1v-4h-8v1h-1v-1h-2v1h-1v-1h-3v1h-1v-1h-8v1h-2v-1h-3v-1h-1v1h-2v2h-3v-2h-3v1h-2v-1h-9v1h-1v-1h-3v2h-1v-2h-2v1h-3v-1h-1v1h-1v-1h-1v1h-1v-1h-6v1h-1v-1h-4v1h-1v-1h-1v1h-2v-1h-4v1h-1v-1h-7v1h-1v-1h-1v1h-1v-1h-5v1h-1v-1h-2v-1h-1v1h-5v1h-2v-1h-3v1h-1v-1h-1z"/>
<path fill="#ff0000" d="M138 1208h1v1h1v-1h1v1h1v-1h6v1h1v-1h3v1h1v-1h4v-3h2v4h1v-2h1v-1h1v3h6v-1h1v1h1v-2h1v1h1v1h1v1h2v-1h7v1h1v-1h1v1h2v-1h1v-2h2v2h4v-1h3v-2h3v1h1v1h1v1h2v-4h2v3h2v1h1v-1h1v1h4v-1h1v-2h2v3h7v-1h2v1h1v1h1v-1h1v-1h3v1h2v-3h2v3h3v1h1v-1h3v1h1v-1h2v-1h1v-1h2v-4h1v-1h1v5h1v1h1v2h2v-1h2v1h3v-1h1v1h4v-1h1v1h3v1h1v-1h2v-2h1v-1h2v-1h1v3h4v1h1v-1h2v1h2v-1h2v-2h3v3h2v-1h2v1h1v-1h15v1h1v-1h6v1h1v-1h6v1h1v-2h1v-1h1v2h6v1h1v-1h3v1h1v-1h6v1h2v-1h3v1h1v-1h1v1h1v-1h1v1h1v-1h1v1h3v-1h3v1h1v-1h1v1h2v-1h2v1h2v-1h1v1h3v-1h2v1h1v-1h6v1h1v-2h1v-1h1v2h5v1h6v-1h1v1h2v-1h1v1h3v-1h2v1h1v-1h2v1h3v-1h1v1h1v-1h6v1h1v-1h1v1h1v-1h1v1h2v-1h1v1h1v-1h1v1h1v-1h1v-1h1v-1h1v2h3v1h1v-1h1v-1h1v1h3v-1h3v1h1v-3h1v1h1v2h2v1h1v-2h2v1h3v-1h1v-2h2v2h1v1h3v-1h1v1h1v-1h5v1h2v-1h1v1h2v-1h1v1h1v-1h2v-2h1v1h1v-1h1v3h2v-1h2v1h3v-1h1v1h1v-1h6v-1h1v1h1v-1h2v1h2v-1h5v-2h2v3h1v-1h2v1h1v-1h2v-2h1v2h1v-1h2v1h2v-2h1v-1h1v4h2v-1h2v1h1v-1h1v1h1v-1h1v1h4v-3h2v3h7v-1h1v1h2v-1h1v1h2v1h3v-1h2v-1h2v1h1v-2h2v3h1v-3h2v2h2v-2h1v2h1v1h4v-1h2v1h1v-1h1v1h4v-1h5v1h1v-1h2v1h1v-1h1v1h3v-1h1v-2h2v3h1v-1h3v-1h1v1h6v-1h3v1h2v-1h1v1h1v-1h5v-1h1v1h2v1h1v-2h1v-1h1v2h1v1h1v-1h9v2h1v-1h1v-1h5v1h1v-1h4v-1h1v-1h1v1h1v1h1v1h1v-1h2v1h5v-1h2v1h3v-1h1v1h1v-1h2v1h9v-1h1v1h1v-3h1v3h2v1h1v-1h2v1h2v-1h1v1h2v-1h1v1h2v1h1v-1h1v-1h1v1h3v-2h1v-1h1v2h2v-1h2v2h1v-1h1v1h4v-1h2v1h1v-1h2v1h7v-1h2v1h1v-1h1v1h1v-1h4v-3h1v1h1v2h1v1h2v-1h2v-2h1v1h2v-1h1v2h4v1h1v-1h3v-3h2v4h2v-1h1v1h1v-1h2v1h1v-1h5v1h1v-1h2v-2h1v2h1v1h2v-1h4v1h1v-1h8v1h3v-1h2v-4h1v1h1v3h5v1h2v-1h3v1h3v-1h3v1h1v-1h3v1h4v-1h2v-1h1v1h1v1h1v-1h6v1h2v-1h2v1h3v-1h2v1h1v-1h4v1h3v-1h5v1h1v-1h1v-2h2v-1h1v3h3v1h1v-1h3v1h1v-1h5v1h6v-5h1v1h2v4h2v-1h3v1h3v1h1v-1h1v-1h1v1h3v-1h1v1h5v-1h1v1h4v-1h1v1h5v-2h2v1h8v1h1v-1h17v-1h2v1h3v1h2v-1h1v-1h2v-3h3v3h1v1h1v-2h1v2h1v1h1v-1h7v1h1v-1h3v1h1v1h1v-1h1v-1h1v1h1v1h1v-1h1v-1h3v1h7v-2h1v-1h1v4h1v-1h1v1h1v-1h1v1h1v-1h9v1h1v-1h3v1h1v-1h11v18h-1v-1h-4v1h-1v2h-1v-1h-1v-2h-1v-1h-1v1h-4v1h-1v-1h-2v1h-1v-1h-8v1h-2v-1h-6v1h-1v-1h-1v1h-1v-1h-3v1h-1v-1h-2v1h-1v-1h-4v1h-3v-1h-1v1h-1v2h-1v1h-2v-2h-2v-1h-5v1h-4v-1h-1v1h-1v1h-1v-1h-1v-1h-2v-1h-1v1h-2v1h-1v-1h-1v3h-1v-3h-2v1h-3v-1h-2v1h-2v-1h-2v1h-2v-1h-4v-1h-2v1h-5v-1h-1v1h-3v-1h-1v1h-1v-1h-1v1h-8v-1h-2v1h-3v-1h-1v1h-1v-2h-1v2h-1v-1h-2v2h-1v-2h-3v3h-2v-2h-1v-1h-1v1h-1v-1h-5v1h-2v-1h-2v1h-9v1h-4v-1h-7v-1h-1v1h-9v-1h-1v1h-3v-1h-1v1h-3v-1h-1v1h-6v-1h-2v1h-2v-1h-1v3h-2v-3h-1v1h-7v-1h-1v1h-7v-1h-2v1h-3v3h-1v-3h-1v1h-2v-1h-2v-1h-1v1h-3v-1h-1v1h-5v1h-2v-2h-1v1h-5v1h-1v-1h-3v-1h-1v1h-2v-1h-2v1h-2v1h-1v-1h-1v-1h-1v2h-2v-1h-10v1h-1v-1h-3v1h-1v-1h-6v1h-1v-1h-3v1h-1v-1h-1v1h-1v-1h-1v1h-1v-1h-5v-1h-1v1h-5v-1h-1v1h-5v-1h-7v1h-1v-1h-3v1h-1v-1h-1v1h-3v-1h-1v1h-3v-1h-1v1h-9v-1h-1v1h-1v2h-1v1h-1v-1h-1v-2h-2v1h-2v-1h-6v1h-3v-2h-1v1h-3v3h-2v-3h-1v1h-14v1h-1v-2h-4v1h-1v1h-1v-1h-3v1h-1v-1h-3v1h-2v-1h-1v-1h-2v4h-1v-4h-1v1h-3v2h-2v-1h-1v-2h-2v1h-1v-1h-4v1h-6v-1h-5v-1h-1v4h-1v-1h-1v-1h-2v1h-1v-2h-2v-1h-2v1h-1v-1h-6v1h-2v-1h-2v1h-3v-1h-1v1h-1v-1h-1v1h-2v-1h-1v1h-1v1h-1v-1h-2v1h-3v-1h-1v-1h-2v4h-2v-3h-3v1h-2v-1h-3v3h-3v-2h-1v-1h-1v1h-1v-1h-1v-1h-1v1h-3v1h-2v-1h-3v1h-4v1h-1v-1h-2v-1h-1v1h-1v-1h-1v1h-7v-1h-2v1h-3v-2h-1v1h-3v1h-2v-1h-1v1h-1v-1h-2v1h-6v-2h-1v1h-2v1h-2v2h-1v-3h-3v-1h-2v1h-2v1h-2v-1h-7v3h-1v-3h-5v-1h-1v1h-7v-1h-2v1h-3v-1h-1v1h-4v2h-1v-1h-1v-2h-2v1h-2v-1h-2v-1h-2v1h-6v2h-3v-2h-5v-1h-2v1h-1v-1h-3v1h-1v-1h-2v1h-4v-1h-3v1h-1v-1h-5v1h-6v1h-1v1h-1v-2h-3v-1h-2v1h-4v1h-1v-2h-1v1h-2v-1h-1v1h-2v-1h-1v1h-2v1h-2v-1h-2v1h-1v-1h-3v1h-1v-1h-1v-1h-1v1h-9v2h-2v-2h-3v-1h-1v1h-1v-1h-1v1h-8v-1h-2v1h-1v2h-1v-3h-2v1h-7v-1h-1v1h-3v3h-1v-1h-1v-2h-3v3h-1v-1h-1v1h-1v-3h-3v-1h-1v1h-2v3h-2v-3h-3v-1h-2v1h-2v2h-1v-1h-1v-2h-3v1h-13v-1h-4v1h-3v-1h-2v1h-1v-1h-1v1h-1v-1h-4v1h-1v-1h-1v1h-2v1h-3v1h-1v1h-1v1h-1v-3h-1v1h-1v-2h-1v1h-1v-1h-9v3h-1v1h-1v-3h-1v-1h-2v1h-3v-1h-1v1h-17v-1h-1v1h-4v-1h-1v1h-1v-1h-1v1h-1v-1h-2v1h-2v-1h-3v1h-1v-1h-3v1h-1v-1h-4v1h-1v2h-1v-1h-1v-2h-6v-1h-1v1h-1v1h-1v-1h-1v1h-1v-1h-1v-1h-1v1h-1v1h-1v-1h-1v1h-2v3h-3v-3h-5v-1h-3v1h-1v-1h-1v1h-3v-1h-3v1h-5v4h-1z"/>
<path fill="#0000ff" d="M138 1271h3v-1h1v2h2v-1h6v1h2v-1h1v1h6v-1h1v1h1v-1h4v1h1v-1h2v1h1v-1h6v1h1v-1h2v1h2v-1h1v1h1v-1h1v1h2v-1h3v1h1v-3h1v-1h1v3h1v1h2v-1h2v1h1v-1h1v1h1v-1h2v1h1v-1h1v1h1v-3h1v2h2v1h1v-1h4v1h1v-1h2v-2h1v1h2v2h1v-2h2v1h2v1h1v-1h6v1h5v-1h1v1h1v-1h1v1h1v1h1v-3h2v2h3v1h2v-1h3v1h1v-2h2v-3h2v1h1v2h1v-1h1v1h3v1h3v1h1v-1h1v-1h1v1h4v-1h2v1h10v-1h4v1h1v-1h2v1h5v-1h2v1h4v-3h2v1h1v2h1v-1h1v1h2v-1h1v1h2v-1h1v1h2v-1h1v1h5v1h1v-1h2v1h1v-1h1v-1h2v-1h1v3h8v-1h2v1h2v-1h2v1h3v1h1v-4h2v-1h4v4h4v-1h4v1h1v-1h2v-2h2v2h1v-1h1v1h1v1h1v-1h3v1h1v-1h10v1h1v-1h1v-1h2v1h4v1h1v-1h5v-3h1v1h1v-1h1v4h1v-1h2v1h2v-1h8v1h1v-1h1v1h2v-1h3v-1h1v-1h1v3h2v-1h1v1h1v-3h2v2h1v1h4v-1h1v1h1v-1h2v1h8v-1h4v1h3v-1h2v1h3v-1h2v1h4v-3h2v1h1v1h6v1h1v-1h1v1h1v-3h2v2h15v-4h1v1h1v3h3v-2h2v2h1v-1h1v1h4v1h1v-1h1v1h1v-1h5v1h1v-1h1v1h1v-1h1v1h2v-3h1v2h2v-1h1v1h3v-1h1v1h1v-1h2v1h2v-1h2v1h6v1h1v-1h6v-1h1v2h1v-1h1v1h1v-1h4v-1h3v1h1v-1h1v1h2v-1h1v1h1v-1h5v1h1v-1h3v1h2v-1h1v1h1v-1h9v-1h1v2h2v-2h1v2h1v-1h1v1h4v-1h1v-1h1v2h6v-2h2v2h8v1h1v-1h1v1h1v-1h1v-3h2v3h7v1h3v-1h2v1h1v-1h2v1h2v-1h5v1h1v-4h3v4h2v-1h2v1h1v-1h6v-2h1v1h1v-1h1v2h3v1h1v-1h12v1h1v-1h5v-1h1v1h4v1h1v-1h4v1h1v-1h3v1h1v-1h1v1h1v-1h5v1h1v-1h1v1h1v-1h16v1h1v-1h1v1h4v-1h1v1h1v-1h4v1h1v-1h1v1h1v-1h1v1h3v-1h1v-3h1v3h3v1h1v-1h2v1h3v-1h5v1h2v-1h1v1h3v-1h3v-4h1v1h2v3h8v-3h2v3h1v-3h2v4h3v-1h1v1h1v-1h9v-2h2v2h1v1h1v-1h3v1h2v-1h1v1h1v-1h1v1h1v-1h5v1h2v-1h1v1h1v-1h2v1h1v-1h1v-1h1v1h3v1h1v-1h1v1h1v-1h1v1h1v-1h1v1h1v-1h10v1h2v-1h3v-2h1v-1h1v2h1v1h1v-2h1v1h1v1h4v1h1v-1h1v-2h1v-1h1v3h2v-2h1v-1h1v3h3v-1h2v1h3v-3h3v3h5v-1h2v1h1v-1h1v1h2v-1h2v1h3v1h1v-1h8v-1h1v1h2v1h1v-1h1v-1h1v1h3v-1h1v1h2v-4h2v2h1v2h3v1h2v-2h2v1h1v1h2v-1h1v1h1v-1h1v1h2v-1h1v1h2v-2h2v2h4v-1h1v1h1v-1h2v1h2v-1h1v1h1v-1h2v-3h1v3h2v1h1v-1h3v-1h1v1h4v-1h1v1h1v-1h2v1h3v-1h5v-1h1v1h1v1h1v-1h3v-1h2v1h6v-3h1v3h8v1h1v-1h5v1h2v-1h4v1h1v18h-2v2h-1v1h-1v-3h-2v1h-3v-1h-6v4h-2v-2h-1v-2h-1v-1h-1v1h-3v2h-2v-2h-1v1h-2v-1h-1v1h-1v-1h-1v1h-2v-1h-1v1h-1v-1h-5v-1h-2v1h-1v-1h-1v1h-5v-1h-1v1h-1v-1h-1v1h-2v-1h-3v1h-1v-1h-5v1h-1v-1h-4v1h-2v-1h-12v-1h-3v1h-4v1h-1v-1h-10v-1h-1v1h-1v1h-1v3h-2v-4h-1v1h-1v-1h-2v1h-1v-1h-2v1h-4v-1h-2v1h-6v-1h-2v1h-3v-1h-1v1h-3v-1h-1v3h-2v-2h-1v-1h-2v1h-1v-1h-1v2h-2v-2h-2v1h-1v1h-2v-1h-5v-1h-1v1h-1v-1h-1v1h-3v-1h-2v1h-2v-1h-1v1h-1v-1h-3v1h-1v-1h-3v1h-1v-1h-1v1h-1v-1h-2v1h-1v-1h-1v-1h-1v4h-2v-4h-1v3h-1v1h-2v-3h-4v2h-1v-2h-2v2h-2v-2h-13v-1h-1v1h-3v2h-1v-1h-1v1h-1v-2h-7v1h-2v-1h-2v1h-1v-1h-1v1h-1v-1h-1v1h-1v-1h-2v-1h-1v2h-3v-1h-4v-1h-1v1h-6v1h-2v1h-2v-2h-5v-1h-1v1h-6v-1h-1v1h-1v1h-1v-1h-3v-1h-1v1h-10v1h-1v-1h-1v-1h-1v1h-1v1h-1v-1h-2v4h-1v-1h-1v-3h-1v-1h-1v1h-5v1h-2v-1h-8v3h-1v-3h-1v-1h-1v1h-6v2h-1v1h-1v-4h-1v1h-2v1h-1v-1h-4v-1h-1v1h-4v1h-1v-1h-2v1h-2v-1h-6v1h-2v-1h-1v1h-1v-1h-7v1h-1v-1h-1v-1h-1v4h-2v-3h-6v1h-1v-1h-9v-1h-1v1h-1v-1h-1v1h-2v-1h-1v1h-3v-1h-1v1h-2v3h-2v-3h-11v2h-1v-2h-7v1h-2v-1h-1v1h-1v-1h-2v1h-5v3h-1v-1h-1v1h-1v-3h-5v2h-1v1h-2v-3h-7v1h-5v-1h-3v-1h-2v1h-2v-1h-2v1h-1v1h-1v-1h-3v-1h-2v1h-10v-1h-1v1h-1v-1h-1v1h-4v-1h-2v1h-1v-1h-1v1h-5v-1h-2v1h-2v1h-1v-1h-1v-1h-4v1h-1v-1h-1v1h-1v-1h-3v3h-1v-2h-1v2h-2v1h-1v-3h-2v-1h-1v1h-4v-1h-4v1h-3v-1h-6v1h-4v-1h-7v3h-1v-3h-3v1h-1v-1h-1v-1h-1v4h-1v-3h-3v-1h-2v1h-6v3h-1v-1h-1v-2h-6v2h-1v-2h-7v2h-3v-2h-2v-1h-5v1h-3v-1h-1v1h-8v-1h-1v1h-2v-1h-1v1h-1v-1h-1v2h-2v-1h-1v-1h-7v2h-1v-1h-1v1h-1v-1h-6v-1h-1v1h-4v4h-1v-1h-1v-3h-3v1h-2v-1h-2v1h-1v-1h-1v1h-1v2h-2v-2h-1v-1h-2v1h-1v-1h-1v3h-1v1h-1v-4h-1v1h-1v-1h-3v1h-1v-1h-2v-1h-1v1h-1v2h-1v-1h-1v-1h-2v2h-2v-2h-7v-1h-2v1h-5v-1h-1v1h-1v-1h-1v1h-3v-1h-1v1h-6v-1h-1v1h-6v1h-1v-1h-1v1h-10v-1h-1v1h-4v1h-1v-1h-1v1h-2v1h-1v-1h-4v-1h-4v-1h-1v1h-2v-1h-2v2h-1v-1h-2v3h-2v-1h-1v1h-3v-4h-3v1h-3v-1h-3v1h-3v-1h-3v1h-1v1h-2v1h-1v-1h-3v-1h-5v-1h-1v1h-1v-1h-1v1h-2v1h-2v-2h-1v1h-3v-1h-2v1h-1v1h-2v-1h-1v-1h-1v1h-7v-1h-1v1h-11v-1h-1v1h-3v2h-1v2h-1v-4h-6v1h-1v-1h-4v-1h-2v1h-1v-1h-1v1h-2v-1h-1v1h-3v1h-1v-1h-4v1h-1v-1h-2v2h-1v-2h-2v-1h-1v1h-2v1h-1v-1h-2v-1h-1v1h-3v3h-1v-1h-1v-3h-1v1h-4v3h-1v-1h-1v-3h-2v1h-2v-1h-1v1h-7v1h-1v1h-1v-2h-1v-1h-1z"/>
<path fill="#008000" d="M138 1332h1v1h4v-1h1v1h1v-1h1v1h8v-3h2v3h1v-1h1v1h2v1h1v-1h4v1h1v-1h6v1h1v-1h1v1h3v-3h1v3h1v-1h4v1h1v1h1v-1h2v-1h1v1h2v-1h3v2h1v-2h1v1h1v-1h1v1h4v-1h2v1h1v-1h1v1h4v-1h1v1h1v1h1v-1h2v-1h1v1h5v-1h2v1h3v-1h1v1h1v-1h3v1h4v-2h1v-1h1v1h1v2h1v-2h1v1h7v-1h1v1h3v-1h3v1h1v-1h1v1h1v-1h1v-1h2v2h1v-1h2v1h1v-1h2v-1h1v1h3v-1h2v2h1v-4h2v3h8v-1h1v1h2v-1h1v-1h1v2h3v1h1v-1h1v-1h1v1h5v1h1v-1h3v1h1v-1h1v1h1v-1h2v-1h2v1h1v1h2v-1h1v1h1v-1h2v-1h2v-2h2v1h1v2h1v-3h1v1h2v2h1v1h3v-1h2v1h2v-1h2v1h1v-1h1v1h1v1h1v-1h1v-2h2v1h1v1h1v-1h2v-2h1v2h1v2h2v-1h3v-1h7v1h4v-2h3v1h1v1h1v-1h2v-1h1v1h1v-3h1v-1h1v4h1v1h1v-1h1v-4h1v4h3v-1h1v1h1v1h1v-1h5v2h1v-3h1v1h1v-1h1v1h2v1h1v-3h1v-1h1v3h1v1h3v1h1v-5h1v1h2v3h1v1h1v-1h4v1h3v1h1v-1h1v-1h1v1h1v1h1v-1h7v-1h1v1h3v-1h1v1h2v-1h5v1h2v-1h1v1h2v-2h1v1h8v-1h1v1h8v-2h2v2h3v1h1v-1h1v1h2v-1h1v-1h1v1h1v-1h1v1h1v-1h2v1h2v-1h1v1h1v-1h1v1h1v-1h1v1h1v1h2v-4h1v3h1v-1h2v1h2v-1h1v1h1v-1h2v1h4v-1h1v1h4v-1h2v-2h2v3h2v-1h2v1h1v-1h1v1h1v1h2v-1h2v-1h1v1h10v-1h1v1h2v-1h1v1h2v-1h1v1h1v1h1v-1h2v-1h1v1h5v1h1v-1h1v1h1v-1h3v1h4v-1h11v-2h2v3h1v-1h2v-2h2v2h1v1h1v-1h1v1h1v-1h1v-2h2v2h5v1h2v-1h3v-3h3v3h1v1h3v-1h1v1h3v-1h1v-3h1v-1h1v4h4v1h4v-1h1v1h2v-1h1v1h1v-1h1v1h2v-1h1v-2h1v2h4v1h1v-1h6v1h2v-1h7v-2h1v3h2v-1h1v1h1v-3h2v-1h1v2h1v1h2v-1h1v-4h1v-1h1v3h1v3h3v-2h1v-1h1v3h1v-1h2v1h2v-1h3v1h2v-5h1v3h1v1h1v-1h1v2h4v-2h1v-1h1v1h1v2h1v1h1v-1h2v-3h3v3h3v-1h2v1h3v-1h1v1h1v-1h2v2h1v-2h1v1h1v-1h1v1h3v-1h3v1h2v-1h1v1h1v-1h4v1h1v-1h1v-1h2v2h1v-1h1v-2h1v1h1v1h2v-1h1v1h2v-1h1v1h1v-1h1v1h2v-1h1v1h2v1h3v-1h3v1h2v-1h3v2h1v-2h2v1h2v-1h2v1h1v-1h1v1h3v1h1v-1h5v-3h2v3h3v1h1v-1h1v1h1v-1h1v1h1v-2h1v1h4v1h1v-1h2v-3h1v3h1v1h4v-1h2v1h2v-3h1v-1h1v1h1v3h1v1h1v-1h1v-1h1v1h1v1h1v-1h2v-1h2v1h2v1h1v-1h1v-1h1v-1h1v2h1v-2h1v2h9v-1h7v1h1v-1h5v-1h1v1h1v-1h1v1h3v-1h3v1h3v-1h3v1h2v-1h3v1h1v-1h4v1h2v-1h1v1h1v-1h2v1h1v-1h1v1h1v-1h4v1h1v-1h2v1h1v-1h1v1h1v-1h1v-2h1v3h3v1h1v-1h1v1h1v-2h3v1h1v-1h3v1h1v-1h2v-1h1v1h2v1h1v-1h1v1h1v-1h2v1h7v1h1v-1h2v-1h2v1h1v1h1v-1h8v-1h2v1h3v1h1v-1h1v-2h1v1h1v1h1v-3h1v1h2v2h1v-4h1v1h1v2h1v1h1v-1h2v1h2v1h1v-1h1v-1h2v-1h1v-2h1v1h2v3h1v-1h3v1h1v-1h2v2h1v-2h7v1h2v1h1v-1h1v-1h1v-3h1v3h2v1h2v-1h2v1h1v-1h1v-1h2v-2h1v-1h6v1h2v-1h1v1h1v1h1v26h-1v1h-2v-1h-4v1h-1v-1h-1v1h-1v2h-1v-2h-1v-1h-1v-1h-2v-1h-1v1h-2v1h-1v-1h-2v-1h-2v1h-1v-1h-1v1h-3v-1h-1v1h-2v3h-1v-3h-1v-1h-1v1h-1v2h-1v1h-1v-3h-6v-1h-1v1h-2v1h-1v-1h-2v1h-1v-1h-1v1h-1v-1h-2v-1h-4v1h-3v-1h-1v1h-3v-1h-3v1h-1v3h-3v-2h-2v-1h-2v-1h-2v4h-1v-1h-2v-2h-1v-1h-1v1h-4v-1h-3v1h-1v-1h-2v1h-3v-1h-1v1h-1v-1h-2v1h-1v-1h-2v1h-6v-1h-1v3h-1v-2h-1v-1h-1v1h-2v1h-1v-1h-1v-1h-2v1h-2v1h-1v-1h-4v-1h-1v1h-2v1h-1v2h-2v-3h-2v-1h-2v1h-8v-1h-1v1h-1v-1h-1v1h-1v-1h-1v4h-2v-3h-1v1h-2v-1h-1v-1h-1v1h-1v1h-1v-1h-5v-1h-1v1h-1v-1h-1v1h-3v-1h-2v-1h-1v1h-1v1h-1v-1h-1v1h-1v-1h-1v1h-2v-2h-1v1h-9v-1h-1v1h-3v-1h-1v1h-4v1h-1v-2h-2v1h-1v-1h-2v1h-6v-1h-1v1h-4v2h-1v2h-2v-4h-1v-1h-1v1h-1v1h-2v-1h-2v3h-1v-2h-2v-1h-2v1h-1v-1h-1v1h-5v-1h-2v1h-1v-1h-4v1h-1v-1h-2v1h-8v4h-1v-1h-1v-4h-1v1h-2v1h-4v-1h-2v1h-2v-1h-1v1h-2v-1h-1v4h-2v-4h-1v1h-1v-1h-1v1h-2v2h-1v1h-2v-2h-3v-2h-2v1h-3v-1h-5v-1h-2v1h-2v1h-2v-1h-1v1h-1v-1h-2v1h-2v-1h-1v-1h-1v1h-2v1h-1v1h-1v-1h-1v-1h-2v-1h-1v1h-4v-1h-1v1h-2v1h-2v-1h-1v-1h-1v1h-2v-1h-1v1h-2v-1h-1v1h-5v-1h-1v2h-2v-2h-1v1h-2v1h-1v-1h-1v-1h-1v1h-1v1h-1v2h-1v-1h-1v-1h-1v-1h-2v-2h-1v1h-1v-1h-1v1h-1v1h-1v-1h-2v1h-1v-1h-6v1h-3v-1h-1v1h-3v-1h-1v1h-1v-1h-1v3h-1v-1h-1v-2h-2v3h-1v-3h-1v1h-2v1h-2v-3h-1v1h-2v2h-2v-2h-2v1h-1v-1h-1v1h-1v-1h-6v1h-1v-1h-1v1h-2v-1h-3v3h-1v-1h-1v-2h-1v1h-3v-1h-2v-1h-1v1h-1v1h-1v-1h-1v1h-1v1h-3v-2h-2v1h-3v-1h-2v1h-1v-1h-1v1h-1v1h-1v-1h-3v-1h-6v1h-1v-2h-1v1h-1v1h-3v1h-1v-1h-6v-1h-1v1h-1v-1h-1v1h-1v-1h-1v2h-1v-1h-2v-1h-1v-1h-1v1h-1v1h-5v-1h-2v1h-1v2h-1v-2h-4v1h-2v1h-1v-2h-1v-1h-1v1h-4v1h-1v-1h-1v-1h-2v1h-2v2h-1v1h-1v-1h-1v-2h-3v-1h-2v1h-3v-1h-1v1h-2v2h-1v-2h-2v4h-1v-1h-1v-4h-1v1h-2v-1h-2v1h-3v-1h-1v1h-1v-1h-1v1h-2v-1h-1v1h-3v-1h-1v1h-2v-1h-1v1h-1v-1h-2v4h-1v-1h-1v1h-1v-3h-1v-1h-2v1h-3v-1h-1v1h-2v2h-2v-4h-1v1h-5v1h-2v-1h-3v1h-1v-1h-1v1h-1v1h-2v-2h-1v1h-2v-1h-3v1h-1v-1h-5v-1h-1v1h-2v-1h-1v1h-1v-1h-1v1h-2v-1h-3v1h-1v3h-1v-1h-2v-3h-2v1h-1v-1h-2v1h-1v-1h-1v1h-1v1h-3v-2h-1v2h-6v1h-2v-1h-1v-1h-1v1h-3v1h-1v1h-4v-1h-1v-1h-1v1h-1v-1h-1v1h-4v-1h-1v1h-7v-1h-1v-1h-1v1h-6v3h-1v-3h-1v-1h-1v1h-1v-1h-2v1h-5v1h-1v-1h-2v-1h-1v1h-3v-1h-1v1h-1v-1h-1v1h-8v-1h-1v1h-1v-1h-1v1h-1v-1h-1v1h-1v1h-3v-1h-1v2h-2v-3h-1v1h-2v-1h-1v1h-2v1h-1v-1h-1v1h-1v-1h-1v-1h-1v1h-1v1h-2v-1h-4v1h-2v-1h-1v-1h-2v1h-5v1h-4v-1h-2v1h-1v-1h-1v-1h-1v1h-1v3h-1v1h-1v-3h-6v-2h-1v3h-1v1h-1v-3h-1v1h-2v-1h-2v-1h-3v1h-1v1h-1v-1h-1v-1h-1v1h-1v1h-1v-1h-1v1h-1v-1h-1v-1h-1v3h-1v-1h-1v1h-1v-2h-1v-1h-2v3h-2v1h-1v-4h-1v1h-1v-1h-2v1h-1v-1h-1v4h-1v-4h-1v1h-3v-1h-1v-1h-1v1h-6v-1h-1v1h-3v-1h-1v1h-1v-1h-1v1h-2v-1h-1v1h-8v4h-1v-1h-1v1h-1v-3h-1v1h-2v-1h-1v-2h-1v1h-3v-1h-1v1h-3v1h-2v-1h-2v-1h-1v1h-2v-1h-3v1h-1v-1h-2v1h-1v1h-1v-1h-1v1h-1v-1h-3v1h-2v3h-1v-3h-1v-1h-2v1h-3v2h-2v-2h-2v1h-1v-2h-1v1h-2v-1h-2v1h-2v1h-1v-1h-4v-1h-1v1h-3v1h-1z"/>
<path fill="#000000" d="M138 1397h1v-1h1v1h4v-2h1v1h11v1h2v-1h1v-1h1v1h1v-1h6v1h1v-1h2v1h1v-1h2v1h1v-1h2v1h1v-1h1v1h1v-1h1v1h2v1h1v-1h2v-1h2v1h1v-1h1v1h1v-4h1v1h1v1h1v2h4v-4h2v1h3v2h2v1h3v-3h3v2h1v1h1v-2h1v1h5v1h1v-1h3v1h1v-1h3v-1h1v3h1v-2h2v-1h1v2h2v-1h1v1h4v-1h4v1h1v-1h3v-1h2v1h1v1h5v-1h3v1h3v-1h2v1h6v-2h3v2h5v-1h2v1h3v-1h1v1h1v-1h1v-1h1v2h3v1h1v-1h3v-2h1v-1h1v2h1v1h1v-6h1v6h4v1h2v-1h1v-1h1v1h1v-1h1v1h1v-1h2v1h1v-1h2v1h1v-1h3v1h6v1h1v-2h1v2h1v-1h2v1h2v-1h2v-1h2v1h1v-1h3v1h4v-1h5v2h2v-1h2v-1h2v1h3v-1h3v1h1v-3h2v2h3v-2h2v1h1v2h3v1h1v-1h7v1h4v-1h1v-1h2v1h1v-1h1v1h5v-1h2v1h1v-1h2v1h1v-1h1v1h2v1h1v-2h3v1h2v-1h5v-2h1v-1h1v1h1v3h2v-1h1v1h3v-1h1v1h3v-1h1v1h3v-1h1v1h4v1h2v-1h1v-3h2v3h2v1h2v-1h1v1h1v-1h5v-4h1v3h1v1h2v1h2v-1h4v1h1v-1h10v1h2v-1h2v1h1v-1h1v1h3v-1h1v1h1v-1h1v1h2v-3h1v3h1v-3h1v2h2v1h3v-1h4v1h1v-1h4v1h1v-1h1v-1h2v-2h1v3h3v-1h1v1h3v-1h1v1h1v-1h2v-2h2v2h5v-1h1v-1h1v3h1v-1h2v1h2v-1h2v1h2v-1h3v1h1v-1h4v-1h1v1h2v-1h1v2h1v-1h1v1h2v-1h1v1h1v-2h3v1h2v1h2v1h1v-1h4v1h1v-1h1v1h2v-1h1v1h3v-4h2v3h3v1h1v-1h3v1h2v-1h1v1h1v-1h2v1h1v-1h2v1h2v-1h1v1h1v-1h1v1h1v1h1v-1h8v-1h2v1h1v-1h1v1h1v-1h4v1h1v1h1v-2h1v2h2v-1h3v-3h1v2h2v2h1v-1h1v1h3v-1h3v-1h2v2h1v-1h3v-1h4v-1h1v1h2v1h1v-1h2v-3h3v4h1v-1h8v-2h1v1h1v1h3v-3h1v1h2v-1h1v1h1v2h1v1h3v-1h1v1h1v-1h3v1h2v-1h1v-2h1v2h2v-1h2v1h5v1h2v-1h1v1h3v-1h4v1h3v-1h3v1h1v-1h1v1h1v-1h3v-1h1v2h2v-1h1v-1h1v2h6v-3h3v-1h1v4h3v-1h1v1h6v1h2v-2h1v1h1v-1h2v1h1v-1h1v1h5v1h1v-1h5v1h2v-1h3v-2h2v2h4v-1h3v1h3v-1h3v1h3v1h1v-1h3v-1h3v2h3v-1h2v-3h2v1h1v2h2v-1h4v1h2v-1h2v1h2v-1h1v1h1v-1h3v-1h2v1h5v1h1v-1h1v-1h1v1h8v1h2v-1h5v-1h5v2h1v-1h4v-1h1v1h3v-3h2v2h1v1h1v-4h1v3h2v1h1v1h2v-1h2v-3h2v2h1v1h1v-1h1v-2h2v3h1v-2h1v-1h1v3h1v1h1v-1h4v-2h1v-1h1v4h1v-1h1v1h1v-2h3v2h3v-2h1v-1h1v2h2v1h1v-1h2v2h1v-1h1v-1h5v1h2v-1h1v1h1v-1h7v-1h1v1h1v-2h2v3h1v-1h2v-1h1v-2h2v3h2v-1h1v1h1v-1h4v-2h1v-1h1v4h2v-1h5v1h1v-1h2v1h4v-1h5v1h1v1h2v-1h2v-1h3v1h1v-1h2v2h1v-1h1v-1h2v2h1v-1h1v-1h2v2h1v-1h2v-1h2v1h2v-1h3v-2h1v1h1v1h2v2h3v-1h2v-2h1v-1h1v3h1v-1h1v1h5v-3h1v1h1v3h1v-1h3v22h-4v-1h-1v1h-3v3h-2v-4h-1v1h-2v-1h-1v1h-3v-1h-1v1h-1v-1h-1v3h-1v-2h-1v-1h-1v2h-2v-1h-4v-1h-2v2h-1v-1h-1v1h-1v-1h-4v1h-1v-1h-2v1h-1v1h-2v-1h-1v-1h-2v1h-2v-1h-3v-1h-3v1h-2v1h-1v-1h-7v1h-2v-1h-1v1h-4v-1h-2v1h-4v-1h-1v1h-1v-1h-1v1h-3v-2h-2v1h-1v1h-1v-1h-2v-1h-1v1h-2v-1h-1v1h-3v-1h-2v1h-5v-1h-1v1h-1v-1h-1v3h-3v-3h-3v1h-1v-1h-3v3h-3v-2h-2v-1h-1v-1h-1v1h-1v1h-2v-1h-3v1h-5v-1h-1v3h-2v-2h-2v-1h-1v1h-8v1h-1v-1h-6v-1h-1v1h-2v1h-1v-1h-5v-1h-1v4h-2v-3h-1v1h-1v-1h-1v3h-1v-3h-5v-1h-3v1h-1v-1h-1v1h-3v-1h-1v1h-3v-1h-1v1h-2v-1h-3v1h-2v-1h-3v1h-1v-1h-4v1h-1v-1h-1v-1h-1v1h-1v1h-1v-1h-4v-1h-1v1h-2v-1h-2v1h-3v1h-1v-1h-2v-1h-4v1h-4v-1h-1v1h-1v1h-1v-1h-1v-1h-1v1h-5v-1h-1v1h-3v-1h-1v1h-2v1h-1v-1h-10v-1h-1v1h-2v-1h-3v2h-1v1h-1v-2h-2v-1h-1v1h-3v-1h-1v1h-7v2h-1v-2h-4v-1h-1v1h-1v-1h-1v1h-4v-1h-2v2h-3v-1h-2v-1h-1v1h-3v-1h-1v1h-5v4h-3v-3h-1v-1h-1v2h-2v-1h-2v-1h-8v1h-1v-1h-1v1h-3v-1h-1v1h-1v-1h-1v1h-1v3h-1v-1h-1v-1h-1v-1h-1v-1h-1v1h-1v-1h-3v-1h-1v2h-3v-1h-1v1h-1v-1h-1v1h-1v-1h-3v1h-1v-1h-2v1h-1v-1h-1v4h-1v-2h-1v2h-1v-5h-1v1h-2v1h-4v-1h-1v1h-2v1h-1v-3h-1v1h-2v3h-2v-2h-6v2h-2v-2h-1v-2h-1v1h-1v1h-1v-1h-4v1h-1v-1h-3v1h-3v-2h-1v1h-4v3h-1v-3h-1v1h-1v-1h-1v1h-1v-1h-1v1h-1v-1h-1v1h-2v-1h-1v-1h-1v1h-2v1h-1v-1h-4v1h-1v-1h-1v1h-1v-1h-3v1h-4v1h-2v-2h-1v1h-1v-1h-2v1h-3v1h-1v-1h-1v2h-2v-2h-1v1h-1v-1h-1v1h-1v-1h-3v1h-2v-1h-1v1h-2v-1h-5v4h-1v-1h-2v-2h-1v-1h-3v1h-2v-1h-3v1h-2v-1h-2v1h-3v-1h-6v-1h-1v1h-5v3h-1v-2h-1v-2h-1v1h-2v-1h-3v1h-1v-1h-1v1h-2v-1h-3v1h-2v-2h-1v2h-6v1h-1v-1h-1v-1h-1v1h-9v-1h-1v-1h-1v1h-1v1h-1v-1h-1v-1h-1v1h-1v1h-1v-1h-1v3h-1v-1h-1v-3h-2v1h-4v1h-1v-1h-3v1h-1v-1h-1v2h-1v3h-1v-5h-3v1h-3v-1h-4v1h-2v1h-1v-1h-1v-1h-1v1h-1v-1h-8v1h-1v-1h-3v1h-1v-1h-3v1h-2v3h-1v-3h-6v-1h-1v1h-4v1h-1v-1h-1v-1h-1v1h-1v3h-1v-3h-3v-1h-1v1h-3v-1h-1v1h-3v1h-1v-1h-7v1h-1v-1h-1v-1h-2v1h-4v-1h-1v1h-2v-1h-2v1h-2v-1h-2v1h-5v1h-1v-1h-1v-1h-1v1h-2v1h-2v-1h-3v3h-1v-3h-1v1h-3v-1h-4v1h-2v-1h-1v-1h-2v2h-3v-1h-1v1h-2v-1h-2v1h-1v-1h-1v1h-1v-1h-9v1h-1v-1h-7v-1h-1v1h-3v1h-1v-1h-6v-1h-1v1h-1v-1h-3v1h-2v1h-1v-1h-5v1h-1v-1h-1v-1h-2v1h-2v1h-2v-1h-1v-1h-1v2h-3v-1h-1v-1h-1v1h-3v1h-2v-2h-1v1h-1v1h-1v-1h-7v-1h-1v2h-6v-1h-1v1h-1v-1h-4v1h-2v1h-1v-2h-2v2h-1v1h-2v-2h-2v-1h-2v1h-3v-1h-1v1h-1v-1h-2v1h-4v-1h-2v1h-1v-1h-1v1h-1v2h-2v-3h-2v1h-1v-1h-1v2h-1v-1h-1v-1h-3v1h-1v-1h-1v1h-2v-2h-1v1h-6v1h-1v-1h-1v3h-1v1h-1v-5h-1v1h-3v1h-3v-1h-1v1h-1v-2h-1v1h-1v-1h-2v1h-1v-1h-1v1h-4v-1h-1v1h-7v-1h-1v1h-6v-1h-4v1h-2v1h-2v-2h-1v1h-2v-2h-1v2h-2z"/>
<path fill="#ff0000" d="M138 1461h2v1h1v-1h3v-2h1v-1h1v3h3v-1h1v1h1v-1h1v1h8v-2h1v1h2v1h1v-1h1v1h1v-1h2v-1h7v1h1v1h1v-1h3v-1h1v1h4v-1h3v2h1v-2h3v1h3v-1h1v-1h1v2h1v-1h1v1h5v-1h7v-2h1v4h1v-1h1v-1h1v1h2v1h1v-1h1v-1h5v1h1v-1h2v1h1v-1h1v1h2v-1h1v-3h2v3h2v1h2v1h1v-1h1v-1h3v1h1v-1h2v1h1v-1h3v-1h1v1h1v-1h2v-1h1v2h2v-3h1v1h1v3h1v-1h14v1h1v-1h5v-1h1v1h1v2h1v-1h1v-1h1v1h1v-2h3v1h5v1h1v-1h2v1h1v-1h3v1h2v-1h4v1h5v-1h1v1h2v-1h5v1h1v-1h1v1h1v-1h2v1h9v1h2v-1h4v1h4v-1h2v-3h2v1h1v3h1v-1h3v-1h1v1h3v-4h1v1h1v-1h1v4h2v-1h3v1h1v-1h1v1h3v-1h1v1h2v-2h2v1h2v1h9v-1h1v1h1v-1h1v1h1v-1h1v1h2v-4h1v-1h1v2h1v2h2v1h1v-1h1v1h1v-1h1v2h1v-5h2v4h2v1h2v-1h3v-3h3v2h1v1h1v-1h1v1h16v1h1v-1h1v1h2v-1h1v1h2v-1h1v1h2v-1h1v1h5v-1h1v1h1v-1h1v1h4v-2h1v2h1v-1h6v1h5v-1h1v1h4v-1h3v1h1v-1h1v-1h2v1h7v-1h1v1h2v-1h1v1h1v-1h2v1h1v-1h1v1h2v-1h1v1h1v-1h1v1h1v-1h1v1h1v-1h1v1h1v-1h4v1h6v-1h1v1h4v-1h1v-2h1v3h1v-1h6v1h1v-1h7v-1h1v1h1v1h5v-1h2v1h1v-1h1v1h1v-1h2v-1h1v1h5v1h1v-1h1v1h1v-3h2v-1h1v4h2v-1h2v1h2v-1h2v-1h2v1h3v1h1v-1h1v2h1v-1h1v1h1v-1h2v-1h1v1h1v1h1v-1h1v1h1v-1h2v1h2v-1h4v-1h2v1h5v-1h1v1h2v1h2v-4h3v4h1v-1h1v1h2v-1h1v1h6v-1h3v-1h1v2h2v-1h1v1h1v-1h2v1h1v-1h1v-2h3v2h1v1h1v-1h3v1h1v-2h2v1h6v-2h2v1h1v1h3v1h1v-1h1v1h6v-3h2v2h2v1h1v-1h2v1h2v-1h1v1h1v-4h2v3h1v1h3v-1h4v1h2v-1h1v1h1v-1h2v1h1v-1h2v1h1v-1h1v1h2v1h1v-1h5v-1h1v1h1v-1h3v1h1v-1h2v1h1v-1h3v-1h1v1h3v1h1v-2h3v1h1v1h1v-1h4v-1h1v1h1v-1h2v1h3v-1h4v1h2v-1h3v-1h2v2h2v-1h3v1h2v-1h4v1h9v1h1v-1h1v1h1v-1h2v1h2v-3h1v2h1v-2h2v3h6v-1h5v-1h1v2h2v-1h2v1h4v-1h1v-3h3v4h2v-1h1v2h1v-1h6v-1h1v1h1v-1h1v1h1v-1h2v1h1v-1h2v1h4v1h1v-2h1v1h1v-1h1v-1h2v1h1v1h1v-1h2v1h1v-1h2v-1h1v1h4v1h1v-1h1v-4h3v4h1v-1h3v-2h1v1h2v-2h2v4h3v1h1v-1h1v-1h1v1h1v-1h3v1h2v1h1v-1h6v1h1v-1h1v1h1v-1h5v1h2v-1h1v1h1v-1h2v1h1v1h1v-1h1v-1h7v1h1v-1h4v1h1v-1h1v1h1v-1h4v1h2v-1h3v-1h1v1h3v1h1v-1h3v-1h1v-1h2v2h1v-3h1v1h1v-1h1v2h1v-2h1v-1h2v3h1v1h1v-1h1v1h1v-1h1v1h2v-1h3v1h2v-1h3v1h2v-1h1v1h1v-1h3v1h3v1h1v-1h3v-1h2v1h2v1h2v-2h1v1h1v1h1v-1h2v-1h2v1h1v-2h2v1h1v1h1v-2h1v1h1v1h2v-1h1v1h5v-1h2v1h1v-1h1v1h1v-1h8v1h1v20h-2v1h-2v-1h-3v1h-1v-1h-4v1h-1v-1h-2v-1h-1v3h-1v-1h-1v-1h-2v1h-1v-1h-2v1h-1v-1h-3v1h-1v-2h-1v1h-3v1h-1v-1h-3v-1h-1v1h-2v-1h-1v1h-1v2h-1v1h-1v-4h-1v1h-5v1h-1v-1h-2v1h-2v-1h-5v1h-4v-1h-1v1h-1v-1h-2v1h-2v2h-1v-1h-1v1h-1v1h-2v-4h-1v1h-4v-1h-5v1h-1v-1h-2v1h-2v-1h-2v-1h-1v4h-1v-3h-1v-1h-1v1h-2v-1h-1v1h-1v-1h-4v-1h-1v1h-1v1h-1v3h-1v-4h-2v1h-1v-1h-1v1h-1v-1h-2v1h-1v-2h-1v2h-1v-1h-7v1h-3v-1h-2v1h-2v-1h-1v1h-1v3h-2v-3h-2v-1h-1v1h-2v-1h-2v2h-1v-1h-3v1h-2v-1h-1v1h-1v-1h-1v2h-1v-1h-1v-1h-1v1h-1v-2h-2v1h-2v1h-2v-1h-3v1h-1v-1h-2v1h-1v-1h-3v-1h-1v1h-1v-1h-1v1h-1v-1h-1v1h-1v-1h-1v1h-4v-1h-1v1h-2v-2h-2v1h-1v-1h-1v2h-2v-1h-7v1h-2v-1h-3v1h-2v-2h-1v1h-2v1h-2v-1h-1v1h-1v-1h-3v1h-4v-1h-2v2h-2v-1h-1v-1h-2v1h-1v-1h-1v4h-3v-3h-3v-1h-1v1h-1v1h-2v-2h-1v1h-3v-1h-2v1h-7v-1h-1v1h-2v-1h-1v2h-2v-1h-2v-1h-1v1h-1v1h-1v-1h-1v1h-1v-1h-2v4h-1v-3h-2v-1h-1v1h-3v-1h-1v1h-2v-1h-3v1h-1v-1h-6v1h-2v-1h-6v-1h-1v1h-3v-1h-3v1h-1v1h-1v-1h-1v1h-1v-2h-1v1h-3v-1h-7v1h-1v-2h-1v1h-1v1h-2v-1h-2v1h-10v-1h-1v1h-10v-1h-6v1h-2v-1h-5v2h-1v-1h-2v-1h-4v1h-1v-1h-4v1h-1v-1h-1v-1h-1v1h-3v1h-2v1h-3v-1h-3v-1h-2v1h-3v-1h-1v-1h-1v1h-2v1h-2v-1h-1v2h-3v-1h-1v-1h-3v1h-1v-1h-1v1h-1v-1h-3v1h-1v-1h-2v1h-2v-1h-1v1h-3v2h-1v1h-1v-3h-1v1h-2v-1h-4v1h-2v-1h-1v1h-2v-1h-1v1h-1v-1h-2v1h-2v-1h-2v1h-2v-1h-2v1h-1v-1h-3v1h-2v-1h-2v1h-1v-1h-1v1h-2v-1h-4v-1h-1v2h-2v-1h-2v1h-2v-1h-2v1h-1v-1h-1v1h-1v-1h-1v1h-3v-1h-1v1h-6v-1h-2v1h-1v-1h-3v1h-1v-1h-2v3h-3v-2h-3v-1h-1v1h-2v-1h-1v1h-2v-1h-3v1h-1v-1h-3v1h-4v-1h-3v1h-1v-1h-1v1h-1v-1h-1v2h-1v-2h-2v1h-1v-1h-8v-1h-4v1h-3v-1h-1v1h-1v-1h-2v3h-2v-1h-1v-1h-1v-1h-1v1h-1v-1h-3v-1h-1v1h-5v1h-1v-1h-9v1h-1v-1h-4v1h-4v3h-3v-3h-3v1h-1v-1h-2v-1h-1v1h-1v-1h-1v1h-9v-1h-1v2h-1v-1h-3v1h-1v-1h-1v1h-1v-1h-2v1h-1v-1h-6v3h-1v-1h-2v-3h-1v1h-1v1h-3v-1h-1v1h-4v-2h-1v2h-3v-1h-1v1h-2v-1h-1v-1h-1v1h-1v1h-1v-1h-1v1h-1v-1h-1v2h-1v-1h-1v-1h-3v1h-1v-1h-2v1h-1v-2h-2v1h-3v1h-1v-1h-4v-1h-1v1h-5v1h-2v-2h-1v1h-4v-1h-1v1h-6v-1h-3v1h-4v-1h-1v1h-2v1h-1v-1h-2v4h-1v-1h-1v-3h-1v3h-1v-2h-4v-1h-1v1h-3v-1h-1v1h-8v2h-1v-1h-1v-1h-7v-1h-1v1h-3v1h-1v-2h-2v1h-3v-1h-4v1h-1v3h-2v-3h-5v-1h-2v4h-1v-3h-1v1h-2v-1h-1v-1h-2v1h-2v-1h-3v1h-3v-1h-3v1h-1v-1h-2v1h-2v-1h-1v1h-1v3h-1v1h-1v-4h-2v-1h-1v1h-1v-1h-1v1h-1v-1h-7v1h-2v1h-1v-1h-1v1h-1v-1h-1v-1h-1v1h-5v-1h-1v1h-1v-1h-1v1h-4v-1h-1v1h-2v-1h-2v1h-3v-1h-9v-1h-1v1h-4v1h-5v-1h-1v1h-2v-1h-2v-1h-1v1h-2v1h-1v-1h-4v-1h-1v1h-1v1h-2v-1h-4v-1h-2v1h-1v-1h-1v1h-1v-1h-2v2h-2v-2h-1v-1h-3v1h-2v-1h-1v1h-2z"/>
<path fill="#0000ff" d="M138 1524h2v-1h1v1h1v-1h1v2h2v-1h3v-1h1v1h1v-1h1v1h2v-3h1v4h1v-1h4v-2h1v2h9v1h2v-1h1v1h1v-1h1v1h1v-1h8v1h2v-1h2v-1h1v1h1v1h1v-1h4v1h3v-1h1v-1h1v1h1v-1h1v1h2v-1h2v1h4v-1h1v1h2v-1h3v1h2v-1h1v1h3v-1h1v1h1v-1h1v1h1v-1h1v1h1v-1h3v1h2v-1h1v1h1v-1h4v1h2v-1h1v1h1v-1h1v1h1v-1h1v1h1v-1h1v1h1v-3h1v3h1v-1h1v1h1v-1h1v1h5v-1h1v1h1v-1h1v1h1v1h1v-1h1v-1h2v1h1v-1h2v1h6v1h1v-1h2v-1h1v1h2v-1h1v1h6v-1h2v1h2v-1h1v1h1v1h1v-1h4v-1h1v1h2v-1h1v1h2v1h1v-3h1v-1h1v3h2v-1h4v1h1v-1h1v1h3v-1h3v2h1v-1h2v-1h8v1h2v-1h1v-1h1v-1h1v2h2v1h1v-1h1v-2h2v-1h1v3h1v-1h2v1h1v1h1v-1h1v1h1v-1h2v1h2v-1h2v1h4v-1h1v1h1v-1h1v1h1v-1h1v-1h2v1h1v1h1v-1h1v1h1v-1h1v2h1v-1h1v-2h2v2h1v-1h1v1h3v-1h1v1h4v1h1v-1h1v-1h1v-2h2v3h1v-1h1v1h1v1h1v-1h2v1h1v-1h2v1h2v-1h3v1h1v-1h2v-1h1v1h9v1h1v-1h1v1h1v-2h1v-1h1v1h1v2h2v-1h2v1h2v-1h8v-3h1v3h1v1h1v-1h4v1h3v-1h4v1h1v-4h1v4h1v-1h1v1h1v-1h4v1h1v-1h4v1h1v-1h3v-1h1v1h1v-1h1v1h1v1h1v-1h2v-1h1v1h1v-1h1v1h2v-1h1v1h3v-1h4v-1h1v1h1v1h1v-1h3v-1h1v2h2v-1h1v-1h1v1h5v1h1v-1h2v-1h1v-1h1v1h1v2h1v-1h2v1h1v-1h2v1h1v-1h2v1h1v-3h1v1h1v2h5v-1h3v1h5v-1h4v-2h2v4h1v-1h4v-4h1v4h1v-1h1v1h2v-1h2v-1h1v1h2v1h1v-1h1v1h2v-1h5v1h1v-1h1v-1h1v1h2v1h1v-2h1v1h1v-1h1v1h8v-3h1v1h2v2h4v-1h1v1h4v-1h1v-1h2v1h1v2h1v-1h4v-4h2v3h1v1h2v-3h1v1h2v2h1v-1h1v2h1v-1h3v-1h2v1h2v-1h1v1h2v-1h2v1h1v-1h1v-1h1v1h1v1h4v1h1v-1h7v1h1v-2h2v1h2v-1h1v1h3v1h1v-1h2v1h1v-4h2v3h2v1h1v-1h1v1h1v-1h3v1h1v-1h3v1h1v-1h1v1h1v-1h1v1h1v-1h3v1h1v-1h3v1h1v-1h1v1h2v-1h5v1h2v-1h4v1h1v-1h1v1h2v-1h1v1h1v-1h4v1h1v-1h1v-3h2v4h4v-1h1v1h3v-1h1v1h2v1h4v-1h6v1h2v-1h3v1h3v-1h2v1h5v-1h2v1h1v-1h1v1h5v-1h3v1h2v-1h1v1h1v-3h3v2h1v1h1v-1h7v1h1v-1h5v-3h1v3h1v1h2v-1h1v1h2v-1h2v1h4v-1h4v1h1v-1h5v1h3v-1h4v1h4v-1h2v1h1v-1h5v1h1v-1h3v1h1v-2h2v-1h1v2h5v-1h1v1h1v-1h1v1h1v-1h3v1h3v-1h5v-1h1v1h3v-1h1v1h1v1h1v-1h4v1h1v-1h2v-1h1v1h2v1h2v-1h3v1h1v-1h2v1h1v-1h1v1h1v-1h3v1h3v-1h1v1h2v-1h1v1h2v-2h1v1h2v2h1v-1h3v-1h1v1h2v-1h1v1h5v-1h2v1h4v-1h1v1h8v1h4v-1h1v1h1v-1h1v1h2v-1h2v1h2v-1h1v1h1v-1h2v1h4v-1h4v-8h1v9h3v-1h6v1h3v-1h8v1h1v-1h5v1h1v-1h3v1h3v-1h3v-2h1v-1h2v3h1v1h2v-2h1v-1h2v2h1v-2h2v2h3v-1h1v1h1v-3h1v3h6v-1h1v19h-11v-1h-1v1h-1v-1h-1v1h-7v-1h-1v2h-1v1h-1v-2h-4v2h-1v-1h-1v-2h-1v1h-3v1h-1v-1h-1v-1h-1v1h-1v2h-1v-1h-2v-2h-1v1h-3v-1h-2v3h-2v-2h-3v-1h-2v1h-4v-1h-1v1h-2v9h-1v-10h-1v1h-3v-1h-1v1h-2v-1h-3v1h-2v1h-2v-1h-6v3h-3v-3h-3v-1h-2v1h-1v1h-1v-1h-3v-1h-2v1h-1v-1h-1v1h-1v1h-3v2h-2v-3h-1v4h-1v-4h-1v1h-1v-2h-1v1h-1v1h-1v-1h-1v-1h-1v1h-2v1h-3v-1h-1v1h-1v-1h-2v1h-1v1h-1v-1h-2v-1h-1v1h-10v-1h-1v1h-6v-1h-1v1h-1v-1h-1v1h-3v2h-1v1h-1v-4h-1v1h-7v1h-1v-1h-2v-1h-1v1h-7v-1h-11v1h-1v-2h-2v1h-2v-1h-2v1h-5v-1h-1v1h-5v-1h-1v1h-2v-1h-1v1h-1v-1h-5v1h-1v-1h-1v1h-4v-1h-3v1h-2v-1h-1v1h-8v-1h-2v1h-1v-1h-1v1h-1v-1h-1v1h-9v-1h-1v1h-1v-1h-1v1h-5v-1h-1v1h-1v-1h-1v1h-12v-1h-1v1h-5v-1h-1v1h-6v-1h-1v1h-4v-1h-1v1h-2v1h-3v-1h-4v3h-1v1h-1v-4h-2v1h-1v-1h-2v1h-1v-1h-1v1h-2v2h-1v1h-1v-3h-2v-1h-3v1h-1v-1h-1v2h-1v1h-2v-2h-1v1h-1v-1h-3v3h-1v-4h-1v1h-2v1h-1v-1h-1v-1h-3v1h-2v2h-2v1h-1v-3h-2v1h-1v-1h-4v3h-1v-2h-1v-1h-5v2h-1v1h-1v-3h-1v-1h-1v1h-3v1h-3v-1h-2v1h-1v1h-2v-2h-7v-1h-1v3h-2v-1h-6v-2h-1v1h-2v-1h-1v1h-3v1h-2v-1h-1v1h-1v-1h-1v-1h-2v1h-4v1h-1v-1h-6v1h-2v-1h-3v4h-1v-1h-1v-2h-3v-1h-1v1h-1v2h-1v1h-1v-4h-2v-1h-1v1h-7v-1h-1v2h-1v-1h-1v1h-1v-1h-2v1h-1v-1h-11v-1h-1v1h-1v-1h-1v1h-1v-1h-2v1h-1v1h-2v-2h-1v3h-2v-2h-3v-2h-1v4h-1v1h-2v-4h-1v-1h-1v1h-2v1h-4v-1h-3v1h-2v-1h-4v1h-1v-1h-1v-1h-1v1h-2v4h-2v1h-1v-4h-2v4h-1v-4h-3v-1h-3v1h-2v1h-1v-1h-1v2h-1v-1h-1v-1h-1v1h-2v-1h-3v1h-2v-1h-8v-1h-1v1h-1v-1h-2v2h-1v-1h-2v-1h-3v1h-2v-1h-2v1h-2v-1h-2v-1h-1v1h-4v1h-2v-1h-4v-1h-1v2h-3v-1h-2v-1h-1v1h-1v-1h-3v1h-3v-1h-1v1h-12v-1h-2v3h-1v1h-1v-4h-1v1h-2v1h-1v-1h-1v1h-2v-1h-2v-1h-1v3h-1v-2h-2v-1h-1v1h-4v1h-1v-1h-4v-1h-1v1h-1v-1h-1v1h-2v3h-2v-2h-2v-1h-3v1h-1v-1h-1v-1h-1v1h-3v3h-1v-1h-2v-2h-1v-1h-1v2h-1v-1h-5v1h-2v-1h-5v1h-2v-1h-2v-1h-1v2h-1v-1h-1v1h-2v-1h-1v-1h-1v1h-4v1h-1v-1h-1v1h-1v-1h-1v1h-1v-1h-1v1h-6v-1h-2v1h-5v-1h-3v1h-1v1h-1v-2h-1v1h-2v-1h-4v1h-5v-1h-1v-1h-1v1h-6v1h-1v-1h-2v1h-2v-1h-2v1h-1v-1h-7v1h-3v-1h-3v1h-1v-1h-3v1h-1v-1h-1v1h-1v3h-3v-3h-3v2h-1v-2h-1v-1h-1v1h-1v1h-3v-1h-1v-1h-1v3h-1v1h-1v-4h-1v1h-1v-1h-3v1h-1v-1h-2v1h-1v-1h-1v1h-1v-1h-1v4h-3v-4h-2v1h-2v-1h-2v-1h-1v3h-2v1h-1v-2h-3v-1h-2v1h-3v-1h-1v1h-1v2h-1v1h-1v-4h-3v1h-1v-1h-2v1h-3v-1h-1v1h-1v1h-1v-1h-1v-1h-1v1h-5v-2h-1v1h-2v1h-1v-1h-2v1h-1v-1h-1v1h-1v-1h-3v-1h-1v1h-4v-1h-1v1h-2v-1h-2v1h-5v-1h-1v1h-1v3h-2v-3h-1v-1h-1v1h-3v2h-1v-2h-2v-1h-1v1h-1v-1h-1v1h-8v1h-2v-1h-3v1h-1v-1h-3v-1h-1v1h-2v1h-2v-2h-1v2h-1v-1h-1v1h-2z"/>
<path fill="#008000" d="M138 1586h5v-4h1v4h2v-1h1v1h8v-2h2v2h2v1h1v-1h4v1h1v-1h4v1h1v-1h2v1h1v-1h2v1h1v-1h2v2h1v-1h1v-4h1v1h1v3h4v1h1v-1h2v-1h4v1h1v-1h1v1h1v1h2v-1h1v-1h2v-3h2v3h2v1h1v-1h1v1h1v-1h1v1h4v-3h2v3h4v-3h1v-1h2v2h3v2h1v-1h1v1h2v-4h2v4h4v-1h4v-2h2v2h15v-1h1v1h1v1h1v-2h2v1h1v-1h1v-1h1v1h1v1h7v1h1v-1h1v1h1v-1h1v1h1v-1h4v-1h1v1h5v1h2v-1h2v1h3v-1h1v-2h1v1h1v1h2v-1h1v1h1v-1h1v1h3v-1h4v1h3v-1h2v1h2v1h2v-1h7v1h1v-2h1v1h3v-1h1v1h1v-1h1v1h2v-1h1v1h2v1h1v-1h1v-4h1v4h1v1h1v-1h1v1h2v-1h1v1h1v-1h1v1h1v-1h6v-1h1v1h3v-1h3v1h1v-1h1v1h2v-1h1v1h2v-1h1v1h3v-1h1v1h1v-1h3v1h1v-1h4v1h2v-1h1v1h1v1h1v-1h2v-1h1v-1h1v1h1v1h1v1h1v-1h3v-1h1v1h3v1h1v-1h6v1h1v-1h1v-1h1v1h1v1h1v-1h4v-1h1v1h2v1h1v-1h1v-1h4v1h9v1h1v-1h1v1h2v-1h3v1h2v-1h8v1h1v-1h1v-3h2v4h1v-1h4v-3h1v1h1v3h2v-1h1v1h2v-2h1v1h1v1h2v-1h3v1h1v-1h1v1h1v-1h3v-1h1v-2h2v3h2v-1h2v1h3v-1h2v1h1v-3h2v4h1v-1h1v1h2v-1h2v-1h1v1h4v-1h1v1h1v-1h1v1h1v-3h1v1h1v3h1v-2h2v2h2v-1h1v1h1v1h2v-1h2v-2h1v2h4v-1h1v1h3v1h2v-1h15v1h1v-2h9v1h1v-1h2v-1h1v1h2v1h1v-1h4v-2h2v-1h1v3h1v-1h1v1h1v-1h1v1h1v-2h1v2h2v-1h2v2h1v-1h3v1h1v-1h1v1h2v-1h2v1h2v-1h7v1h1v-1h1v1h2v-1h4v1h1v1h1v-1h1v-1h1v1h4v-1h1v1h4v-1h1v1h3v1h1v-2h2v1h1v-1h1v1h1v1h1v-1h1v-1h1v1h1v-1h1v1h2v-1h1v1h1v-3h2v3h1v-1h2v1h2v-1h1v1h3v-1h1v1h1v-1h1v1h2v-1h3v1h1v-1h1v-2h1v3h3v-1h1v1h1v1h1v-1h1v-1h1v1h1v-1h1v1h3v-1h4v1h1v-1h3v1h1v-1h1v1h1v-1h2v-1h1v1h3v1h1v-1h4v1h5v-1h1v-1h1v1h1v1h1v-1h3v-1h1v1h1v1h1v-2h1v1h1v1h4v-1h1v1h2v-1h2v1h1v-1h2v-2h1v2h2v1h5v1h1v-1h1v-1h2v1h4v-1h5v1h1v-1h3v1h1v-1h5v-2h2v2h1v1h2v-1h1v1h1v-1h1v-1h2v1h5v-4h1v1h2v2h3v1h3v1h2v-1h2v1h1v-1h1v-1h1v1h1v1h1v-1h1v-1h1v1h6v1h1v-1h1v1h1v-1h8v2h1v-1h1v-1h2v1h2v-1h4v1h2v-1h4v1h1v-1h1v1h3v-1h4v-1h1v-1h2v3h1v-1h3v1h1v-1h7v-1h2v1h3v-1h2v2h1v-1h1v1h1v-1h3v-2h1v2h2v1h1v-1h3v1h2v-1h1v1h1v-1h1v1h1v1h1v-4h3v2h1v1h1v-1h3v1h1v1h1v-1h10v-1h2v1h1v1h1v-1h2v-1h1v-1h1v-1h1v1h1v2h4v-1h4v1h12v1h1v-1h3v1h3v-1h6v1h2v-1h2v1h1v-1h2v1h2v-1h6v1h2v-1h6v1h1v-1h5v1h3v-1h1v1h1v-1h1v1h1v-1h1v1h3v-1h5v1h3v-1h2v-3h2v1h1v2h13v1h2v17h-1v1h-1v-1h-1v1h-1v-1h-3v-1h-2v1h-3v1h-2v-1h-7v2h-3v-2h-4v2h-2v-1h-1v-2h-1v1h-1v3h-2v-1h-1v-2h-4v2h-1v-3h-3v1h-5v-1h-1v5h-1v-1h-1v-3h-5v-1h-2v3h-1v1h-1v-3h-2v1h-1v-2h-2v1h-1v1h-1v-1h-3v-1h-1v1h-3v1h-3v-1h-6v-1h-2v3h-1v1h-2v-3h-6v1h-3v-1h-8v1h-1v1h-2v-2h-3v1h-2v2h-3v-1h-1v-2h-1v1h-2v-1h-1v1h-3v-1h-2v4h-2v-2h-1v2h-2v-1h-1v1h-1v-3h-1v3h-2v-2h-2v-1h-4v1h-1v-2h-2v1h-2v1h-1v-1h-6v1h-1v-1h-3v-1h-2v2h-1v-1h-1v1h-2v-1h-7v1h-1v-2h-1v1h-3v1h-1v-1h-4v1h-1v-1h-6v-1h-1v1h-6v-1h-1v1h-1v-1h-1v1h-4v1h-1v-1h-1v-1h-1v1h-3v1h-1v-1h-1v-1h-1v1h-1v4h-2v-5h-3v1h-5v1h-1v-1h-2v1h-1v-1h-1v1h-1v1h-1v-2h-2v1h-1v-1h-2v1h-1v-1h-1v2h-1v-3h-2v1h-1v1h-1v-1h-1v1h-1v-1h-2v3h-1v1h-1v-2h-1v-3h-1v1h-3v-1h-1v1h-1v-1h-1v3h-1v-2h-3v-1h-2v1h-1v-1h-1v1h-1v-1h-2v1h-1v-1h-1v1h-2v-1h-1v1h-3v-1h-2v1h-4v3h-1v-4h-3v1h-1v-1h-2v1h-2v-1h-2v1h-2v4h-2v-4h-5v1h-1v-1h-2v1h-1v1h-2v-2h-1v1h-1v-1h-2v1h-2v-1h-2v-1h-1v2h-3v-1h-1v1h-7v-2h-1v1h-4v-1h-1v1h-5v-1h-4v1h-8v-1h-2v1h-3v-1h-1v1h-1v-1h-2v1h-2v-1h-1v1h-1v2h-2v-2h-2v3h-2v-3h-3v-1h-1v1h-4v-1h-1v3h-1v-1h-1v1h-1v-2h-1v-1h-3v1h-1v-1h-3v1h-1v-1h-2v1h-1v-1h-1v4h-2v-3h-2v-1h-1v-1h-1v1h-1v1h-3v-1h-1v1h-6v-1h-2v1h-1v1h-1v-1h-1v1h-3v-1h-1v1h-3v-1h-5v1h-4v-1h-1v1h-1v-1h-2v1h-3v-1h-2v1h-1v-1h-1v1h-1v-1h-1v1h-2v-1h-8v-1h-1v1h-1v3h-2v-3h-1v-1h-8v-1h-2v1h-1v1h-1v2h-1v-1h-1v-2h-6v1h-1v-1h-2v1h-2v-1h-3v1h-1v1h-1v-2h-1v-1h-1v2h-7v-1h-1v1h-1v3h-1v-3h-6v1h-1v-1h-4v3h-2v-2h-2v-1h-1v-1h-1v2h-5v-1h-1v1h-2v-1h-2v2h-1v-1h-2v-1h-1v1h-3v-1h-2v1h-3v-2h-1v1h-4v-1h-2v1h-3v1h-1v-1h-2v1h-1v-1h-1v3h-1v-4h-1v1h-7v-1h-1v1h-1v1h-1v-1h-2v-1h-1v1h-2v-1h-1v1h-3v1h-1v1h-3v-2h-3v-1h-1v1h-8v1h-1v-1h-5v1h-1v-1h-4v1h-1v-1h-1v1h-1v-1h-2v2h-1v1h-1v-2h-4v-2h-1v2h-1v-1h-2v1h-1v-1h-1v1h-1v-1h-1v1h-3v-1h-2v1h-3v-1h-1v1h-10v-1h-3v1h-1v-1h-1v1h-2v-1h-1v1h-1v-1h-1v1h-2v-1h-3v1h-2v-1h-3v1h-1v-1h-1v1h-2v-1h-1v-1h-1v1h-3v4h-2v-3h-1v-1h-1v2h-2v-2h-4v1h-1v-1h-2v1h-1v-1h-1v1h-2v-1h-2v-1h-1v1h-3v3h-1v1h-1v-1h-1v-2h-1v-1h-3v2h-1v1h-1v-1h-1v-2h-1v1h-1v-1h-2v-1h-1v1h-5v1h-1v-1h-1v2h-2v-2h-4v1h-2v-1h-1v-1h-1v1h-3v-1h-1v1h-3v-1h-1v2h-3v-1h-1v1h-1v-1h-3v1h-2v-1h-1v1h-1v-1h-2v1h-2v2h-2v-3h-4v-1h-1v1h-5v-1h-5v1h-1v1h-2v-2h-1v4h-1v-3h-1v-1h-6v1h-4v-1h-1v1h-1v-1h-1v1h-3v-2h-1v1h-1v1h-5v3h-1v-4h-1v1h-1v-1h-1v1h-1v-1h-5v1h-2v-1h-1v1h-1v-1h-1v1h-1v-1h-1v1h-1v2h-2v-2h-1v-1h-3v1h-6v-1h-1v3h-2v-1h-1v-2h-1v1h-7v-1h-1v1h-2v-1h-2v1h-1v2h-2v-2h-3v-1h-1v1h-1v-1h-1v1h-1v1h-1v-1h-3v1h-2v-1h-8v1h-4v-2h-1v1h-1v-1h-1z"/>
<path fill="#000000" d="M138 1649h1v1h1v-1h2v1h2v-1h2v-1h2v2h1v-1h4v1h1v-1h1v1h2v-1h1v-2h1v2h2v1h2v-1h5v1h1v-1h8v-2h2v2h1v1h1v-1h3v1h1v-1h1v1h1v-1h3v1h22v1h1v-1h4v1h1v-1h2v1h3v-1h5v1h2v-2h1v1h1v1h1v-1h6v-1h2v-2h1v1h2v3h1v-2h2v1h1v-1h5v1h2v-1h2v1h2v-1h1v1h1v-1h1v1h1v-1h4v1h4v-1h1v1h1v-1h1v1h3v-1h3v-3h2v1h1v2h8v1h1v-1h1v1h2v-1h2v1h1v-1h2v1h2v-1h1v-1h1v1h1v1h1v-1h2v1h4v-1h1v1h1v-1h4v1h1v-1h1v1h2v-1h2v1h1v-1h4v1h1v-1h4v1h1v-4h1v4h4v-1h2v1h1v-1h2v-1h1v1h1v1h11v1h1v-1h6v-1h1v1h2v-1h1v1h8v1h1v-1h5v-3h2v3h2v-3h2v3h4v-1h1v1h2v-1h4v-1h2v1h2v-1h1v1h3v-1h1v1h4v-3h1v1h1v2h1v-1h2v1h3v-1h1v1h1v-1h1v1h3v-1h3v1h1v1h1v-1h1v1h3v-1h2v1h10v1h3v-1h9v1h1v-1h2v1h1v-1h1v1h1v-1h3v1h1v-1h10v-1h1v1h2v1h1v-1h2v-3h3v3h3v1h2v-1h8v-3h3v3h1v-1h1v1h1v-1h1v1h2v-1h3v1h2v-1h1v1h1v-1h6v1h4v-1h2v-1h1v1h3v-1h1v1h1v-2h1v3h1v-1h3v-1h1v1h1v-1h1v-3h1v2h1v3h1v-1h3v1h4v-1h3v1h1v-1h2v2h1v-3h1v-1h1v2h2v-1h4v1h2v-1h3v1h1v-1h1v1h2v-1h1v-4h1v4h1v1h1v-1h2v1h5v-1h3v1h5v1h2v-1h2v1h3v-1h1v1h5v-1h1v1h1v-1h3v1h2v1h1v-1h1v-1h1v-2h1v-1h2v2h1v2h1v1h1v-1h1v1h1v-1h1v-1h1v1h2v-1h2v1h3v-4h1v1h1v3h3v-1h4v1h1v-1h1v1h1v-1h4v-2h2v2h4v1h2v-2h1v2h1v-1h2v1h3v1h1v-1h1v-1h1v1h1v-1h1v1h1v-2h1v1h5v1h14v-1h2v1h1v-1h6v1h1v-1h3v1h4v-1h2v1h2v-1h1v-1h3v1h2v-1h2v-1h2v1h1v-3h3v3h2v1h7v-1h2v1h3v-1h1v1h3v1h1v-1h3v1h3v-1h2v-3h2v3h1v1h2v-2h1v1h2v-1h1v1h3v-1h1v1h1v-2h2v-1h1v2h1v1h1v-1h1v-3h2v1h1v3h1v-1h2v1h1v-1h3v1h1v-1h2v-3h1v1h1v-1h1v4h6v-2h1v2h4v-1h2v1h1v1h1v-1h3v1h1v-1h1v-3h1v4h1v-1h1v1h2v-1h1v1h1v-2h1v2h1v-1h1v1h1v-1h1v1h1v-1h11v1h1v-1h1v-2h1v2h2v-1h1v1h3v-1h3v1h1v1h1v-1h6v-1h3v1h1v-1h2v1h3v1h1v-1h7v-2h1v2h4v1h2v1h1v-1h3v-1h1v-1h1v2h6v-1h1v-3h1v1h1v2h1v1h5v1h1v-1h2v-1h2v1h1v-3h1v3h5v-4h1v1h1v3h1v-1h2v1h1v-1h1v1h2v-1h6v-1h1v1h4v-1h3v-1h2v2h3v-1h1v1h1v-1h1v1h1v-1h2v1h1v1h1v-1h1v-1h1v1h4v1h1v-1h2v1h2v-1h2v1h1v-1h1v1h1v19h-1v-1h-1v1h-3v1h-3v-1h-1v1h-2v-1h-6v4h-1v-3h-1v-1h-2v1h-2v-1h-1v1h-1v-1h-3v2h-1v-2h-1v1h-2v-1h-1v1h-1v-1h-1v1h-1v-2h-1v2h-1v-1h-2v1h-2v-1h-2v-1h-1v1h-3v-1h-1v1h-7v-1h-1v2h-1v-1h-5v-1h-1v1h-1v-1h-7v1h-3v-1h-1v1h-1v-1h-2v2h-1v1h-1v-3h-1v1h-2v-1h-1v1h-6v1h-2v-1h-3v1h-1v-1h-6v1h-1v-1h-2v-1h-1v1h-7v1h-2v-1h-1v1h-4v2h-2v-2h-4v-1h-8v2h-1v-2h-2v-1h-2v2h-1v3h-1v-4h-2v-1h-1v3h-1v-1h-2v1h-1v-2h-4v1h-2v-1h-1v-1h-1v1h-1v-1h-1v2h-1v-1h-1v1h-3v-1h-1v1h-2v-1h-2v1h-2v-1h-1v1h-1v-1h-1v1h-1v-1h-1v1h-1v-1h-2v1h-1v1h-2v-1h-1v1h-1v-1h-1v1h-1v-1h-2v3h-1v-1h-1v-3h-1v1h-7v2h-3v-3h-2v1h-2v-1h-1v-1h-1v2h-6v1h-2v-2h-2v1h-1v-1h-5v1h-9v1h-1v-1h-2v1h-1v-1h-1v1h-1v-1h-1v-1h-1v1h-1v-1h-1v1h-4v-1h-4v1h-1v-1h-3v1h-2v-1h-5v1h-1v-1h-7v-1h-7v1h-2v-1h-1v1h-1v-1h-1v1h-2v-1h-1v1h-1v-1h-1v1h-1v-1h-1v1h-2v-1h-1v1h-2v-1h-1v1h-7v-1h-2v1h-8v-1h-1v1h-5v1h-1v-1h-1v1h-2v-1h-3v-1h-1v1h-5v-1h-1v1h-7v-1h-1v1h-2v2h-1v3h-1v-1h-1v-1h-2v-1h-1v-2h-5v-1h-3v2h-1v-1h-3v-1h-1v1h-4v-1h-3v1h-3v1h-1v-1h-2v1h-2v3h-3v-3h-2v-1h-1v1h-1v-1h-2v1h-1v3h-1v-2h-1v-1h-1v-1h-2v1h-1v-1h-3v1h-3v1h-2v-1h-1v-1h-1v1h-1v-1h-1v2h-1v-2h-1v1h-1v-1h-3v-1h-2v1h-3v1h-1v1h-1v-2h-1v1h-4v-1h-1v1h-2v-1h-1v1h-2v1h-1v-1h-1v-1h-2v1h-3v-1h-5v3h-1v-1h-1v-3h-3v1h-2v1h-2v-1h-2v1h-1v-1h-1v-1h-3v1h-5v-1h-1v1h-3v-1h-4v1h-2v-1h-2v1h-4v-1h-3v4h-2v-3h-2v-1h-1v1h-1v-1h-4v1h-1v-1h-3v1h-1v-1h-4v3h-1v1h-1v-4h-2v-1h-1v2h-1v1h-1v-2h-2v-1h-1v1h-2v1h-1v-1h-4v1h-1v1h-1v-1h-1v-1h-4v1h-1v-1h-2v3h-3v-2h-2v1h-1v-1h-2v-1h-1v1h-1v1h-1v-1h-1v1h-1v2h-1v-2h-3v-1h-2v1h-2v2h-1v-1h-1v-1h-1v1h-1v-1h-6v-1h-2v1h-1v1h-1v-2h-4v-1h-1v1h-2v1h-1v-1h-1v-1h-1v1h-1v3h-1v-3h-1v1h-2v-1h-7v-1h-3v1h-2v-1h-2v1h-2v-1h-1v1h-2v-2h-1v2h-2v-1h-2v1h-1v-1h-1v1h-4v1h-1v-2h-2v1h-1v-1h-3v1h-2v-1h-1v1h-6v1h-1v-1h-4v3h-2v-4h-1v1h-5v1h-1v-1h-3v4h-1v-1h-2v-4h-1v1h-1v-1h-1v1h-3v-1h-1v1h-4v-1h-1v1h-4v-1h-1v1h-1v-1h-1v1h-2v3h-2v-2h-1v-1h-4v2h-2v-2h-3v-1h-1v1h-3v-1h-1v1h-3v-1h-1v1h-3v1h-1v-1h-1v-1h-1v1h-8v3h-1v-3h-8v1h-4v-2h-1v1h-2v1h-1v-1h-2v1h-1v-2h-4v1h-1v-1h-5v1h-5v-1h-5v1h-2v-1h-1v1h-1v1h-1v1h-1v-3h-9v-1h-1v1h-5v1h-1v-1h-2v1h-1v-1h-1v1h-1v-1h-1v1h-2v-1h-1v1h-1v-1h-1v1h-10v1h-1v1h-1v-1h-2v-1h-3v1h-2v-1h-1v-1h-1v2h-2v-1h-1v-1h-1v1h-1v1h-1v-1h-1v1h-1v-1h-2v3h-1v-2h-1v-1h-1v-1h-1v1h-4v1h-1v-1h-1v1h-1v-2h-1v1h-1v-1h-1v1h-3v-1h-1v1h-1v-1h-3v1h-3v-1h-1z"/>
</g>
<rect x="138.5" y="48.5" width="874" height="807" fill="none" stroke="#000" stroke-width="1.1"/>
<path d="M132.8 73.50H138.5M1012.5 73.50H1018.2M132.8 104.50H138.5M1012.5 104.50H1018.2M132.8 136.50H138.5M1012.5 136.50H1018.2M132.8 167.50H138.5M1012.5 167.50H1018.2M132.8 199.50H138.5M1012.5 199.50H1018.2M132.8 230.50H138.5M1012.5 230.50H1018.2M132.8 262.50H138.5M1012.5 262.50H1018.2M132.8 293.50H138.5M1012.5 293.50H1018.2M132.8 325.50H138.5M1012.5 325.50H1018.2M132.8 356.50H138.5M1012.5 356.50H1018.2M132.8 388.50H138.5M1012.5 388.50H1018.2M132.8 419.50H138.5M1012.5 419.50H1018.2M132.8 451.50H138.5M1012.5 451.50H1018.2M132.8 483.50H138.5M1012.5 483.50H1018.2M132.8 514.50H138.5M1012.5 514.50H1018.2M132.8 546.50H138.5M1012.5 546.50H1018.2M132.8 577.50H138.5M1012.5 577.50H1018.2M132.8 609.50H138.5M1012.5 609.50H1018.2M132.8 640.50H138.5M1012.5 640.50H1018.2M132.8 672.50H138.5M1012.5 672.50H1018.2M132.8 703.50H138.5M1012.5 703.50H1018.2M132.8 735.50H138.5M1012.5 735.50H1018.2M132.8 766.50H138.5M1012.5 766.50H1018.2M132.8 798.50H138.5M1012.5 798.50H1018.2M132.8 830.50H138.5M1012.5 830.50H1018.2M138.5 855.5V861.2M357.5 855.5V861.2M575.5 855.5V861.2M794.5 855.5V861.2M1012.5 855.5V861.2" stroke="#000" stroke-width="1.1" fill="none"/>
<g font-size="13">
<text x="125.6" y="78.10" text-anchor="end" textLength="58.9" lengthAdjust="spacingAndGlyphs">07:00:00</text>
<text x="1025.4" y="78.10" textLength="58.9" lengthAdjust="spacingAndGlyphs">08:00:00</text>
<text x="125.6" y="109.10" text-anchor="end" textLength="58.9" lengthAdjust="spacingAndGlyphs">08:00:00</text>
<text x="1025.4" y="109.10" textLength="58.9" lengthAdjust="spacingAndGlyphs">09:00:00</text>
<text x="125.6" y="141.10" text-anchor="end" textLength="58.9" lengthAdjust="spacingAndGlyphs">09:00:00</text>
<text x="1025.4" y="141.10" textLength="58.9" lengthAdjust="spacingAndGlyphs">10:00:00</text>
<text x="125.6" y="172.10" text-anchor="end" textLength="58.9" lengthAdjust="spacingAndGlyphs">10:00:00</text>
<text x="1025.4" y="172.10" textLength="58.9" lengthAdjust="spacingAndGlyphs">11:00:00</text>
<text x="125.6" y="204.10" text-anchor="end" textLength="58.9" lengthAdjust="spacingAndGlyphs">11:00:00</text>
<text x="1025.4" y="204.10" textLength="58.9" lengthAdjust="spacingAndGlyphs">12:00:00</text>
<text x="125.6" y="235.10" text-anchor="end" textLength="58.9" lengthAdjust="spacingAndGlyphs">12:00:00</text>
<text x="1025.4" y="235.10" textLength="58.9" lengthAdjust="spacingAndGlyphs">13:00:00</text>
<text x="125.6" y="267.10" text-anchor="end" textLength="58.9" lengthAdjust="spacingAndGlyphs">13:00:00</text>
<text x="1025.4" y="267.10" textLength="58.9" lengthAdjust="spacingAndGlyphs">14:00:00</text>
<text x="125.6" y="298.10" text-anchor="end" textLength="58.9" lengthAdjust="spacingAndGlyphs">14:00:00</text>
<text x="1025.4" y="298.10" textLength="58.9" lengthAdjust="spacingAndGlyphs">15:00:00</text>
<text x="125.6" y="330.10" text-anchor="end" textLength="58.9" lengthAdjust="spacingAndGlyphs">15:00:00</text>
<text x="1025.4" y="330.10" textLength="58.9" lengthAdjust="spacingAndGlyphs">16:00:00</text>
<text x="125.6" y="361.10" text-anchor="end" textLength="58.9" lengthAdjust="spacingAndGlyphs">16:00:00</text>
<text x="1025.4" y="361.10" textLength="58.9" lengthAdjust="spacingAndGlyphs">17:00:00</text>
<text x="125.6" y="393.10" text-anchor="end" textLength="58.9" lengthAdjust="spacingAndGlyphs">17:00:00</text>
<text x="1025.4" y="393.10" textLength="58.9" lengthAdjust="spacingAndGlyphs">18:00:00</text>
<text x="125.6" y="424.10" text-anchor="end" textLength="58.9" lengthAdjust="spacingAndGlyphs">18:00:00</text>
<text x="1025.4" y="424.10" textLength="58.9" lengthAdjust="spacingAndGlyphs">19:00:00</text>
<text x="125.6" y="456.10" text-anchor="end" textLength="58.9" lengthAdjust="spacingAndGlyphs">19:00:00</text>
<text x="1025.4" y="456.10" textLength="58.9" lengthAdjust="spacingAndGlyphs">20:00:00</text>
<text x="125.6" y="488.10" text-anchor="end" textLength="58.9" lengthAdjust="spacingAndGlyphs">20:00:00</text>
<text x="1025.4" y="488.10" textLength="58.9" lengthAdjust="spacingAndGlyphs">21:00:00</text>
<text x="125.6" y="519.10" text-anchor="end" textLength="58.9" lengthAdjust="spacingAndGlyphs">21:00:00</text>
<text x="1025.4" y="519.10" textLength="58.9" lengthAdjust="spacingAndGlyphs">22:00:00</text>
<text x="125.6" y="551.10" text-anchor="end" textLength="58.9" lengthAdjust="spacingAndGlyphs">22:00:00</text>
<text x="1025.4" y="551.10" textLength="58.9" lengthAdjust="spacingAndGlyphs">23:00:00</text>
<text x="125.6" y="582.10" text-anchor="end" textLength="58.9" lengthAdjust="spacingAndGlyphs">23:00:00</text>
<text x="1025.4" y="582.10" textLength="58.9" lengthAdjust="spacingAndGlyphs">00:00:00</text>
<text x="125.6" y="614.10" text-anchor="end" textLength="58.9" lengthAdjust="spacingAndGlyphs">00:00:00</text>
<text x="1025.4" y="614.10" textLength="58.9" lengthAdjust="spacingAndGlyphs">01:00:00</text>
<text x="125.6" y="645.10" text-anchor="end" textLength="58.9" lengthAdjust="spacingAndGlyphs">01:00:00</text>
<text x="1025.4" y="645.10" textLength="58.9" lengthAdjust="spacingAndGlyphs">02:00:00</text>
<text x="125.6" y="677.10" text-anchor="end" textLength="58.9" lengthAdjust="spacingAndGlyphs">02:00:00</text>
<text x="1025.4" y="677.10" textLength="58.9" lengthAdjust="spacingAndGlyphs">03:00:00</text>
<text x="125.6" y="708.10" text-anchor="end" textLength="58.9" lengthAdjust="spacingAndGlyphs">03:00:00</text>
<text x="1025.4" y="708.10" textLength="58.9" lengthAdjust="spacingAndGlyphs">04:00:00</text>
<text x="125.6" y="740.10" text-anchor="end" textLength="58.9" lengthAdjust="spacingAndGlyphs">04:00:00</text>
<text x="1025.4" y="740.10" textLength="58.9" lengthAdjust="spacingAndGlyphs">05:00:00</text>
<text x="125.6" y="771.10" text-anchor="end" textLength="58.9" lengthAdjust="spacingAndGlyphs">05:00:00</text>
<text x="1025.4" y="771.10" textLength="58.9" lengthAdjust="spacingAndGlyphs">06:00:00</text>
<text x="125.6" y="803.10" text-anchor="end" textLength="58.9" lengthAdjust="spacingAndGlyphs">06:00:00</text>
<text x="1025.4" y="803.10" textLength="58.9" lengthAdjust="spacingAndGlyphs">07:00:00</text>
<text x="125.6" y="835.10" text-anchor="end" textLength="58.9" lengthAdjust="spacingAndGlyphs">07:00:00</text>
<text x="1025.4" y="835.10" textLength="58.9" lengthAdjust="spacingAndGlyphs">08:00:00</text>
<text x="137.9" y="876.60" text-anchor="middle">0</text>
<text x="356.9" y="876.60" text-anchor="middle" textLength="15.6" lengthAdjust="spacingAndGlyphs">15</text>
<text x="574.9" y="876.60" text-anchor="middle" textLength="15.6" lengthAdjust="spacingAndGlyphs">30</text>
<text x="793.9" y="876.60" text-anchor="middle" textLength="15.6" lengthAdjust="spacingAndGlyphs">45</text>
<text x="1011.9" y="876.60" text-anchor="middle" textLength="15.6" lengthAdjust="spacingAndGlyphs">60</text>
</g>
<text x="575.3" y="33.8" font-size="19" text-anchor="middle" textLength="268.2" lengthAdjust="spacingAndGlyphs">2026-02-12 NN.RKLD..HNN</text>
<text x="574.6" y="895.8" font-size="13.5" text-anchor="middle" textLength="104.8" lengthAdjust="spacingAndGlyphs">time in minutes</text>
<text transform="translate(54 451.8) rotate(-90)" x="0" y="0" font-size="18" text-anchor="middle" textLength="252" lengthAdjust="spacingAndGlyphs">UTC (local time = UTC - 08:00)</text>
</svg>
</body></html>
